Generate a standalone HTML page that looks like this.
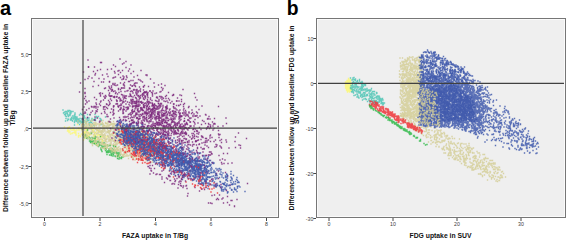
<!DOCTYPE html><html><head><meta charset="utf-8"><style>html,body{margin:0;padding:0;background:#fff;width:567px;height:240px;overflow:hidden}svg{display:block}text{font-family:"Liberation Sans",sans-serif}</style></head><body>
<svg width="567" height="240" viewBox="0 0 567 240">
<rect x="31" y="18" width="248" height="200" fill="#efefef"/>
<rect x="316" y="18" width="250" height="200" fill="#efefef"/>
<g transform="scale(.5)" fill="none" stroke-linecap="square" stroke-opacity=".85">
<path stroke="#4cc4b4" stroke-width="2.8" d="M140 225h0M131 232h0M149 230h0M146 223h0M169 242h0M160 244h0M149 245h0M154 243h0M158 240h0M134 224h0M132 227h0M139 221h0M165 244h0M141 238h0M135 241h0M154 237h0M131 228h0M143 223h0M141 223h0M136 230h0M132 237h0M137 223h0M137 233h0M140 231h0M145 242h0M151 233h0M154 235h0M153 239h0M139 230h0M156 246h0M136 221h0M133 233h0M141 222h0M131 242h0M145 241h0M147 236h0M149 250h0M131 223h0M141 228h0M131 231h0M166 246h0M164 242h0M157 238h0M135 228h0M152 236h0M159 249h0M154 234h0M141 240h0M150 236h0M152 242h0M161 244h0M136 238h0M149 242h0M140 231h0M150 229h0M160 237h0M151 239h0M143 237h0M136 231h0M129 229h0M126 220h0M140 228h0M127 226h0M143 235h0M137 239h0M148 232h0M135 227h0M153 241h0M145 236h0M131 232h0M153 236h0M162 246h0M163 245h0M148 238h0M151 236h0M159 243h0M141 228h0M128 225h0M130 224h0M148 233h0M145 232h0M153 235h0M161 242h0M133 223h0M153 240h0M155 238h0M156 240h0M142 226h0M149 234h0M143 240h0M169 250h0M157 243h0M150 226h0M141 227h0M147 238h0"/>
<path stroke="#4cc4b4" stroke-width="2.8" d="M183 245h0M168 234h0M194 234h0M179 248h0M188 239h0M184 237h0M166 230h0M178 246h0M169 241h0M197 233h0M180 245h0M204 249h0M167 242h0M174 237h0M201 238h0M192 236h0M190 237h0M172 247h0M172 243h0M168 241h0M173 246h0M189 239h0M211 234h0M185 247h0M176 236h0M166 238h0M161 227h0M177 241h0M159 230h0M178 236h0M187 240h0M165 238h0M170 236h0M163 229h0M179 251h0M181 244h0M201 249h0M168 242h0M170 245h0M175 237h0M182 244h0M203 241h0M180 230h0M200 237h0M169 232h0M188 251h0M193 233h0M184 239h0M185 240h0M166 245h0M175 242h0M178 240h0M167 237h0M174 239h0M175 229h0M182 241h0M191 241h0M163 238h0M190 229h0M202 239h0"/>
<path stroke="#fbf873" stroke-width="2.8" d="M178 267h0M172 266h0M149 260h0M163 268h0M136 257h0M141 268h0M161 273h0M152 270h0M173 272h0M170 264h0M164 259h0M139 254h0M140 264h0M153 260h0M170 276h0M141 259h0M158 256h0M150 264h0M150 266h0M146 256h0M138 262h0M175 275h0M150 261h0M178 265h0M163 259h0M169 266h0M172 263h0M138 265h0M148 259h0M152 264h0M136 262h0M154 260h0M166 267h0M147 257h0M158 259h0M151 265h0M152 268h0M171 275h0M171 273h0M144 267h0M144 260h0M174 260h0M138 261h0M148 265h0M157 274h0M148 258h0M170 271h0M152 269h0M157 267h0M172 275h0M157 257h0M169 273h0M173 270h0M155 249h0M137 255h0M135 262h0M136 259h0M157 256h0M129 254h0M135 256h0M145 266h0M157 271h0M158 260h0M148 259h0M182 269h0M174 271h0M168 268h0M160 271h0M175 263h0M147 260h0"/>
<path stroke="#2eb848" stroke-width="2.8" d="M238 308h0M233 307h0M235 313h0M205 295h0M175 275h0M189 277h0M226 308h0M191 281h0M211 291h0M171 269h0M204 303h0M185 278h0M193 288h0M230 306h0M227 309h0M204 292h0M228 302h0M207 294h0M180 276h0M172 272h0M222 302h0M185 287h0M207 294h0M224 297h0M202 299h0M220 298h0M206 295h0M225 302h0M202 296h0M203 289h0M239 315h0M246 314h0M203 300h0M237 311h0M217 305h0M211 301h0M193 290h0M192 288h0M237 313h0M190 283h0M179 278h0M215 291h0M227 305h0M218 298h0M209 297h0M197 292h0M226 299h0M183 282h0M224 302h0M220 304h0M219 300h0M219 310h0M215 290h0M179 277h0M237 313h0M211 297h0M194 283h0M214 309h0M179 278h0M223 311h0M230 312h0M239 308h0M218 304h0M189 287h0M170 271h0M209 297h0M168 274h0M220 310h0M187 282h0M215 305h0M243 314h0M184 280h0M182 283h0M238 313h0M196 283h0M201 285h0M231 301h0M243 317h0M182 284h0M229 301h0M242 317h0M185 284h0M210 297h0M184 275h0M181 285h0M215 302h0M202 299h0M213 305h0M229 305h0M225 304h0M226 312h0M238 305h0M228 305h0M186 286h0M216 292h0M181 279h0M186 276h0M242 316h0M212 299h0M231 313h0M235 309h0M212 297h0M196 291h0M190 285h0M199 291h0M222 306h0M235 306h0M226 307h0M175 277h0M199 290h0M179 282h0M186 283h0M198 288h0M185 283h0M181 282h0M221 300h0M223 301h0M185 279h0M166 270h0M238 318h0M240 310h0M223 308h0M193 286h0M213 303h0M196 285h0M203 291h0M230 305h0M233 304h0M200 290h0M235 317h0M216 292h0M239 306h0M167 269h0M210 293h0M208 292h0M216 302h0M218 301h0M178 274h0M186 283h0M189 282h0M235 312h0M192 288h0M199 285h0M194 284h0M175 272h0M197 293h0M185 283h0M224 303h0M210 292h0M190 278h0"/>
<path stroke="#d3ce97" stroke-width="2.8" d="M189 265h0M241 289h0M237 261h0M212 283h0M211 271h0M310 292h0M268 314h0M235 302h0M171 257h0M268 286h0M181 250h0M190 286h0M292 295h0M273 317h0M306 302h0M212 279h0M236 257h0M313 292h0M210 282h0M305 303h0M185 239h0M206 252h0M235 299h0M200 279h0M267 301h0M270 301h0M293 309h0M207 270h0M169 277h0M223 268h0M260 261h0M257 273h0M193 267h0M284 258h0M265 280h0M238 313h0M221 273h0M172 248h0M184 276h0M215 259h0M246 309h0M276 254h0M257 317h0M238 247h0M217 245h0M235 300h0M261 307h0M166 267h0M308 304h0M283 312h0M239 310h0M222 283h0M226 263h0M169 260h0M272 287h0M187 270h0M263 291h0M175 277h0M191 245h0M281 297h0M289 282h0M253 290h0M288 267h0M227 291h0M298 288h0M289 277h0M237 279h0M267 259h0M201 249h0M307 303h0M247 301h0M273 295h0M274 281h0M287 287h0M301 294h0M301 282h0M232 294h0M308 289h0M183 268h0M292 312h0M223 296h0M300 302h0M251 303h0M248 313h0M296 275h0M277 280h0M222 270h0M180 267h0M198 252h0M220 250h0M168 271h0M200 263h0M248 257h0M240 298h0M247 301h0M245 312h0M230 276h0M215 271h0M287 285h0M269 291h0M245 283h0M210 294h0M202 278h0M215 250h0M195 291h0M188 285h0M278 312h0M229 249h0M204 271h0M206 287h0M239 278h0M296 295h0M209 297h0M204 296h0M187 257h0M304 308h0M286 283h0M243 309h0M248 309h0M173 263h0M192 246h0M302 302h0M268 254h0M224 278h0M199 258h0M205 283h0M228 265h0M295 270h0M171 265h0M258 279h0M203 262h0M289 272h0M273 318h0M303 309h0M229 296h0M288 284h0M242 250h0M194 256h0M214 256h0M268 274h0M297 315h0M221 263h0M297 277h0M256 259h0M165 270h0M210 299h0M214 278h0M256 286h0M254 253h0M232 299h0M304 288h0M252 274h0M228 291h0M225 252h0M241 302h0M257 280h0M266 280h0M295 269h0M197 278h0M256 258h0M215 265h0M225 271h0M194 284h0M189 257h0M188 245h0M254 268h0M261 264h0M261 291h0M276 280h0M218 281h0M264 267h0M273 268h0M249 308h0M245 278h0M282 315h0M191 275h0M257 291h0M247 255h0M277 300h0M219 270h0M278 282h0M214 284h0M196 261h0M239 262h0M194 268h0M264 268h0M228 276h0M209 256h0M289 283h0M271 292h0M186 286h0M286 301h0M312 295h0M287 294h0M231 292h0M255 292h0M268 303h0M302 292h0M234 274h0M222 245h0M302 316h0M222 260h0M263 270h0M306 285h0M277 259h0M274 289h0M232 287h0M216 289h0M166 259h0M259 292h0M254 253h0M301 297h0M280 317h0M216 272h0M263 270h0M172 254h0M289 310h0M226 253h0M234 287h0M212 289h0M207 296h0M197 256h0M229 297h0M191 265h0M269 272h0M277 303h0M268 292h0M240 271h0M175 265h0M308 296h0M175 243h0M188 249h0M256 274h0M184 248h0M229 283h0M230 302h0M183 252h0M298 284h0M188 262h0M176 253h0M207 290h0M219 262h0M263 292h0M247 300h0M221 290h0M262 310h0M251 302h0M268 274h0M185 291h0M249 267h0M182 264h0M226 247h0M205 245h0M302 308h0M205 279h0M204 268h0M212 288h0M205 281h0M186 256h0M244 256h0M266 252h0M184 250h0M281 315h0M260 309h0M265 289h0M240 275h0M233 260h0M226 282h0M210 270h0M225 255h0M301 281h0M279 302h0M227 277h0M268 292h0M245 266h0M258 311h0M206 282h0M177 275h0M310 288h0M252 293h0M258 258h0M255 272h0M303 285h0M224 258h0M287 294h0M208 282h0M204 263h0M185 258h0M220 290h0M223 249h0M209 277h0M287 301h0M223 299h0M211 247h0M220 269h0M172 239h0M234 281h0M241 278h0M256 277h0M227 253h0M261 260h0M259 284h0M191 246h0M289 285h0M185 280h0M278 271h0M167 264h0M210 290h0M238 263h0M286 308h0M291 290h0M224 301h0M198 248h0M249 271h0M253 312h0M289 290h0M204 283h0M160 245h0M227 303h0M193 275h0M315 297h0M270 296h0M267 280h0M206 241h0M241 271h0M193 289h0M189 249h0M291 269h0M283 320h0M170 266h0M270 257h0M315 299h0M297 279h0M288 301h0M248 305h0M216 246h0M191 271h0M295 312h0M267 317h0M245 288h0M209 268h0M189 253h0M207 264h0M212 255h0M292 264h0M255 303h0M276 284h0M209 259h0M195 275h0M242 279h0M281 305h0M294 273h0M170 243h0M223 299h0M217 245h0M221 299h0M269 269h0M273 261h0M242 306h0M262 275h0M274 270h0M302 293h0M282 290h0M312 287h0M262 285h0M227 288h0M271 259h0M285 296h0M198 285h0M277 285h0M215 293h0M196 248h0M191 245h0M171 244h0M294 305h0M202 256h0M271 274h0M229 280h0M231 282h0M287 293h0M276 287h0M198 286h0M237 301h0M215 296h0M282 285h0M218 265h0M206 248h0M305 320h0M179 277h0M256 256h0M228 295h0M229 265h0M249 269h0M193 251h0M230 248h0M301 309h0M210 270h0M240 284h0M302 288h0M283 296h0M262 259h0M238 293h0M251 312h0M191 250h0M167 247h0M295 309h0M300 292h0M279 288h0M178 255h0M184 260h0M217 274h0M205 288h0M273 281h0M169 268h0M200 258h0M168 249h0M208 251h0M234 256h0M296 274h0M252 303h0M300 299h0M306 301h0M198 269h0M203 273h0M193 255h0M216 292h0M177 248h0M293 264h0M238 264h0M299 307h0M292 280h0M246 283h0M176 268h0M173 261h0M319 299h0M281 278h0M254 290h0M294 299h0M287 260h0M175 272h0M287 294h0M221 249h0M299 309h0M266 283h0M297 291h0M204 285h0M253 262h0M249 279h0M251 292h0M216 264h0M267 274h0M298 290h0M257 283h0M164 258h0M285 281h0M254 296h0M279 317h0M232 285h0M289 303h0M290 263h0M189 276h0M226 248h0M181 279h0M299 291h0M202 289h0M284 288h0M225 300h0M249 264h0M293 308h0M291 284h0M313 300h0M272 259h0M177 266h0M244 277h0M182 254h0M290 281h0M292 291h0M197 290h0M262 278h0M180 279h0M234 249h0M221 279h0M166 248h0M246 255h0M217 261h0M226 267h0M163 251h0M295 275h0M254 285h0M163 249h0M291 319h0M222 287h0M248 271h0M238 278h0M187 249h0M238 277h0M283 262h0M266 265h0M296 312h0M164 261h0M266 258h0M201 274h0M193 282h0M261 277h0M237 286h0M286 259h0M208 295h0M198 263h0M202 248h0M214 277h0M185 261h0M208 273h0M275 318h0M220 249h0M277 299h0M264 310h0M284 274h0M213 254h0M235 299h0M244 288h0M208 297h0M232 286h0M182 242h0M217 250h0M244 271h0M274 288h0M256 312h0M264 299h0M256 304h0M214 291h0M169 242h0M246 251h0M191 248h0M197 287h0M265 270h0M171 245h0M280 290h0M215 259h0M193 259h0M234 309h0M165 264h0M230 274h0M199 282h0M219 251h0M219 280h0M264 278h0M254 299h0M268 282h0M210 271h0M257 290h0M222 248h0M249 306h0M253 271h0M246 277h0M168 256h0M216 253h0M268 282h0M191 247h0M241 254h0M163 254h0M173 270h0M259 288h0M290 300h0M218 274h0M289 280h0M210 252h0M229 276h0M279 275h0M221 261h0M192 289h0M221 281h0M277 262h0M254 292h0M260 301h0M178 258h0M276 312h0M182 267h0M293 321h0M308 305h0M306 310h0M224 290h0M232 268h0M184 254h0M268 282h0M216 251h0M249 313h0M284 271h0M261 288h0M265 313h0M299 296h0M184 287h0M211 279h0M209 268h0M261 306h0M275 311h0M229 247h0M167 247h0M243 280h0M277 279h0M199 250h0M183 258h0M188 274h0M169 273h0M250 283h0M291 299h0M227 252h0M257 274h0M250 262h0M313 297h0M174 271h0M235 281h0M261 274h0M278 303h0M294 303h0M229 300h0M226 257h0M254 309h0M269 285h0M220 288h0M298 300h0M180 268h0M208 252h0M183 257h0M249 266h0M299 307h0M233 297h0M238 261h0M164 249h0M247 296h0M293 311h0M270 311h0M177 249h0M284 289h0M200 246h0M242 253h0M232 266h0M203 287h0M257 252h0M233 313h0M232 290h0M168 258h0M220 294h0M278 293h0M239 268h0M224 299h0M274 317h0M232 269h0M202 243h0M259 276h0M202 265h0M210 288h0M189 285h0M250 258h0M294 312h0M315 294h0M180 268h0M254 310h0M175 261h0M286 311h0M194 279h0M184 264h0M176 252h0M297 277h0M263 294h0M169 257h0M203 296h0M198 263h0M276 263h0M192 259h0M228 263h0M192 250h0M281 316h0M298 273h0M174 266h0M284 308h0M240 269h0M182 252h0M285 266h0M242 254h0M275 305h0M206 258h0M244 257h0M205 261h0M206 241h0M279 281h0M281 295h0M260 268h0M210 260h0M279 268h0M238 287h0M190 281h0M245 298h0M209 257h0M262 301h0M272 294h0M225 269h0M214 247h0M266 274h0M175 258h0M301 309h0"/>
<path stroke="#fbf873" stroke-width="2.8" d="M213 274h0M176 271h0M167 280h0M195 260h0M187 272h0M179 271h0M189 266h0M185 259h0M170 265h0M203 279h0M206 273h0M186 264h0M195 271h0M193 264h0M201 269h0M194 278h0M205 280h0M168 264h0M203 274h0M197 262h0M190 287h0M172 258h0M199 270h0M200 273h0M173 260h0M190 279h0M191 272h0M176 266h0M196 270h0M175 273h0M176 256h0M187 260h0M190 269h0M199 264h0M205 282h0"/>
<path stroke="#2eb848" stroke-width="2.8" d="M227 292h0M190 273h0M207 286h0M164 258h0M190 277h0M220 291h0M175 260h0M183 266h0M192 274h0M173 276h0M231 293h0M201 273h0M189 287h0M197 283h0M209 286h0"/>
<path stroke="#d3ce97" stroke-width="2.8" d="M230 272h0M254 254h0M183 280h0M258 291h0M196 292h0M279 291h0M230 279h0M222 285h0M300 308h0M173 247h0M284 277h0M251 277h0M244 264h0M210 277h0M229 290h0M279 302h0M258 286h0M253 261h0M315 293h0M249 262h0M186 264h0M209 251h0M216 256h0M248 277h0M227 243h0M297 273h0M307 296h0M265 316h0M205 254h0M296 272h0M194 291h0M278 272h0M237 299h0M282 263h0M183 258h0M286 310h0M271 265h0M249 265h0M189 249h0M210 274h0M291 289h0M301 297h0M287 308h0M246 258h0M251 287h0M174 274h0M281 265h0M288 282h0M231 283h0M251 305h0M228 259h0M166 266h0M291 306h0M247 311h0M221 245h0M283 305h0M275 290h0M225 279h0M277 306h0M222 275h0M289 294h0M304 309h0M305 299h0M224 256h0M283 316h0M247 253h0M228 301h0M191 258h0M251 284h0M177 266h0M272 265h0M255 272h0M219 298h0M308 282h0M189 268h0M280 298h0M206 253h0M255 275h0M221 279h0M206 248h0M224 304h0M236 299h0M212 279h0M291 263h0M231 301h0M234 295h0M250 280h0M235 282h0M278 266h0M235 298h0M316 299h0M255 257h0M218 283h0M231 267h0M270 320h0M296 315h0M203 289h0M261 292h0M261 251h0M311 295h0M276 312h0M265 278h0M207 276h0M194 259h0M291 303h0M241 263h0M273 272h0M285 309h0M283 292h0M235 253h0M284 297h0M163 256h0M174 250h0M238 261h0M284 291h0M165 255h0M287 290h0M269 275h0M255 285h0M252 307h0M266 276h0M305 324h0M310 296h0M287 281h0M275 300h0M172 245h0M192 284h0M264 277h0M218 276h0M235 272h0M276 285h0M216 243h0M195 260h0M276 294h0M282 295h0M260 294h0M167 249h0M287 285h0M184 250h0M184 279h0M198 263h0M271 266h0M259 266h0M265 300h0M189 254h0M179 269h0M207 252h0M218 254h0M260 298h0M297 278h0M172 254h0M169 253h0M292 295h0M251 288h0M210 278h0M206 271h0M245 269h0M309 312h0M198 282h0M175 272h0M272 279h0M181 248h0M210 287h0M220 262h0M286 297h0M286 265h0M251 290h0M227 272h0M249 252h0M291 293h0M156 242h0M244 302h0M204 268h0M266 260h0M236 285h0M189 273h0M217 262h0M270 273h0M170 270h0M250 272h0M262 292h0M211 290h0M204 247h0M248 280h0M302 285h0M204 279h0M241 297h0M299 319h0M274 271h0M256 272h0M276 296h0M283 282h0M198 264h0M246 271h0M211 282h0M275 307h0M236 252h0M249 294h0M295 300h0M206 286h0M229 285h0M184 265h0M264 265h0M206 288h0M235 268h0M269 283h0M247 264h0M284 273h0M229 266h0M189 283h0M300 292h0M208 251h0M231 265h0M196 278h0M195 274h0M284 295h0M196 267h0M272 314h0M228 282h0M202 285h0M243 265h0M166 253h0M279 297h0M265 304h0M211 245h0M233 249h0M307 288h0M252 264h0M240 302h0M180 252h0M280 287h0M246 286h0M185 253h0M274 271h0M227 248h0M300 311h0M241 252h0M237 295h0M294 292h0M219 243h0M182 257h0M271 275h0M243 263h0M227 253h0M220 250h0M180 248h0M283 287h0M258 254h0M210 263h0M194 248h0M222 296h0M295 314h0M232 274h0M194 261h0M213 294h0M267 311h0M268 290h0M200 255h0M262 287h0M218 279h0M182 259h0M206 274h0M249 308h0M252 305h0M275 299h0M200 269h0M313 299h0M218 266h0M272 293h0M209 295h0M235 299h0M202 265h0M164 248h0M241 304h0M230 252h0M241 299h0M194 261h0M246 293h0M219 267h0M278 308h0M310 309h0M269 265h0M258 270h0M286 320h0M203 285h0M279 274h0M245 267h0M198 260h0M299 321h0M276 292h0M256 295h0M220 256h0M260 295h0M183 253h0M282 268h0M253 269h0M249 280h0M285 272h0M258 300h0M213 279h0M188 248h0M198 275h0M302 297h0M224 248h0M196 265h0M173 252h0M214 263h0M227 267h0M260 271h0M267 304h0M212 266h0M269 294h0M199 279h0M277 267h0M202 261h0M228 296h0M252 270h0M247 257h0M223 280h0M291 306h0M174 272h0M276 286h0M205 264h0M163 258h0M267 278h0M231 289h0M173 247h0M213 252h0M247 260h0M172 274h0M300 277h0M222 299h0M289 312h0M266 279h0M208 261h0M236 281h0M298 274h0M289 312h0M207 256h0M272 277h0M206 259h0M230 304h0M253 298h0M240 264h0M314 286h0M316 294h0M258 295h0M235 273h0M269 299h0M276 304h0M170 252h0M208 289h0M239 278h0M236 262h0M244 262h0M247 279h0M197 275h0M231 307h0M213 296h0M228 263h0M275 277h0M240 306h0M234 289h0M262 311h0M232 303h0M239 285h0M213 247h0M263 297h0M236 275h0M315 303h0M184 242h0M272 274h0M236 254h0M222 295h0M259 267h0M287 284h0M306 308h0M228 264h0M258 295h0M259 290h0M201 270h0M253 281h0M216 273h0M234 289h0M272 273h0M181 255h0M263 313h0M282 311h0M193 274h0M254 289h0M300 282h0M278 307h0M303 305h0M171 246h0M164 248h0M280 285h0M262 270h0M177 248h0M245 276h0M304 286h0"/>
<path stroke="#3e58ac" stroke-width="2.8" d="M313 308h0M388 333h0M364 312h0M330 296h0M348 349h0M300 284h0M251 268h0M357 327h0M338 287h0M265 272h0M298 315h0M284 289h0M346 311h0M294 257h0M384 335h0M303 277h0M389 356h0M300 276h0M287 282h0M356 342h0M387 360h0M263 269h0M308 310h0M280 283h0M313 283h0M441 375h0M276 261h0M298 272h0M341 335h0M278 264h0M365 341h0M428 372h0M300 285h0M358 299h0M439 372h0M281 285h0M455 356h0M287 280h0M400 334h0M396 310h0M322 318h0M347 303h0M434 351h0M285 286h0M445 374h0M301 287h0M278 273h0M362 329h0M266 302h0M364 330h0M297 280h0M309 295h0M263 274h0M326 310h0M361 317h0M397 337h0M355 319h0M294 282h0M233 276h0M414 326h0M402 342h0M301 308h0M285 281h0M321 303h0M276 280h0M376 307h0M314 279h0M340 338h0M341 314h0M340 299h0M390 326h0M369 307h0M410 350h0M320 307h0M402 319h0M346 317h0M269 276h0M453 371h0M379 333h0M387 336h0M249 278h0M374 325h0M327 284h0M319 325h0M297 293h0M398 359h0M408 324h0M356 329h0M415 344h0M233 267h0M424 358h0M268 281h0M302 303h0M255 275h0M360 306h0M261 268h0M281 297h0M430 344h0M326 318h0M292 296h0M317 278h0M282 303h0M307 302h0M400 338h0M239 241h0M260 272h0M394 348h0M304 281h0M349 337h0M360 343h0M409 335h0M325 294h0M333 307h0M308 308h0M419 354h0M432 374h0M295 301h0M318 311h0M271 276h0M368 341h0M266 272h0M321 304h0M339 327h0M361 287h0M248 260h0M359 341h0M383 321h0M408 311h0M245 259h0M357 300h0M410 326h0M286 282h0M336 297h0M423 335h0M254 261h0M308 303h0M327 318h0M422 345h0M447 368h0M367 321h0M261 276h0M399 323h0M465 368h0M374 307h0M344 328h0M413 331h0M355 323h0M336 332h0M376 324h0M299 287h0M290 270h0M405 345h0M348 326h0M327 301h0M330 331h0M256 253h0M312 314h0M322 315h0M381 326h0M262 252h0M401 330h0M342 299h0M343 330h0M238 245h0M364 316h0M447 382h0M337 310h0M400 331h0M404 324h0M235 243h0M398 335h0M308 287h0M324 312h0M355 308h0M473 359h0M260 268h0M324 290h0M272 262h0M327 314h0M354 310h0M393 338h0M296 278h0M273 280h0M245 251h0M249 250h0M378 297h0M285 250h0M381 353h0M374 310h0M316 293h0M248 283h0M306 306h0M295 301h0M262 283h0M320 305h0M370 321h0M352 333h0M296 285h0M366 324h0M369 329h0M391 322h0M315 287h0M293 256h0M301 275h0M326 279h0M352 307h0M344 321h0M266 276h0M329 298h0M360 323h0M361 295h0M273 289h0M345 297h0M332 307h0M310 287h0M412 362h0M285 299h0M405 324h0M397 333h0M347 307h0M405 342h0M456 384h0M335 297h0M380 351h0M311 315h0M354 309h0M272 272h0M415 334h0M281 271h0M402 341h0M389 347h0M271 267h0M284 309h0M272 272h0M291 266h0M390 307h0M394 322h0M353 302h0M250 264h0M288 298h0M353 317h0M356 324h0M309 286h0M345 313h0M346 305h0M319 280h0M288 298h0M351 324h0M271 310h0M311 297h0M354 319h0M295 261h0M372 322h0M379 324h0M403 341h0M299 276h0M293 286h0M280 292h0M366 323h0M321 306h0M453 373h0M245 264h0M245 256h0M404 367h0M454 368h0M372 321h0M386 339h0M409 360h0M268 288h0M342 332h0M276 299h0M341 322h0M303 298h0M453 354h0M364 313h0M356 320h0M289 294h0M424 370h0M405 352h0M402 338h0M275 272h0M392 352h0M393 336h0M290 284h0M235 251h0M364 307h0M297 262h0M287 296h0M287 290h0M286 302h0M402 332h0M272 285h0M389 332h0M272 293h0M385 361h0M253 252h0M396 343h0M364 317h0M319 316h0M291 305h0M237 264h0M330 292h0M257 284h0M351 318h0M337 301h0M273 300h0M315 299h0M359 345h0M236 248h0M335 303h0M238 263h0M275 269h0M368 321h0M260 256h0M285 271h0M364 300h0M369 314h0M261 268h0M366 308h0M384 338h0M244 283h0M345 321h0M395 306h0M385 359h0M313 281h0M311 318h0M450 365h0M389 319h0M260 280h0M316 298h0M404 344h0M322 328h0M366 327h0M354 324h0M363 328h0M267 279h0M475 373h0M313 326h0M248 278h0M246 252h0M254 281h0M282 279h0M357 290h0M282 290h0M254 271h0M394 332h0M377 351h0M329 324h0M371 325h0M275 262h0M352 318h0M324 305h0M361 325h0M271 278h0M289 301h0M400 329h0M306 317h0M312 308h0M324 293h0M272 275h0M291 299h0M268 262h0M299 275h0M371 333h0M354 332h0M341 319h0M477 364h0M319 293h0M313 291h0M335 330h0M286 289h0M286 269h0M258 261h0M335 309h0M403 360h0M367 341h0M240 269h0M275 274h0M334 314h0M267 245h0M329 287h0M287 279h0M293 294h0M386 308h0M359 288h0M282 276h0M305 273h0M257 277h0M302 312h0M332 321h0M258 268h0M348 320h0M314 306h0M373 340h0M411 334h0M269 257h0M276 250h0M254 283h0M250 291h0M359 336h0M387 321h0M455 362h0M260 248h0M343 315h0M369 319h0M253 264h0M392 332h0M393 336h0M356 344h0M262 279h0M375 336h0M243 268h0M251 253h0M231 274h0M289 294h0M434 340h0M416 367h0M392 328h0M321 298h0M341 286h0M328 279h0M302 287h0M335 307h0M275 271h0M266 265h0M281 278h0M316 320h0M357 333h0M272 296h0M262 277h0M256 262h0M417 341h0M290 276h0M335 303h0M370 305h0M259 285h0M301 309h0M308 314h0M299 279h0M353 309h0M292 283h0M303 279h0M412 343h0M276 262h0M264 288h0M396 322h0M353 315h0M326 308h0M418 332h0M362 332h0M332 317h0M235 267h0M442 339h0M261 271h0M326 308h0M364 346h0M341 294h0M235 249h0M343 306h0M256 281h0M334 323h0M366 343h0M282 299h0M340 327h0M314 309h0M395 348h0M247 275h0M333 290h0M351 351h0M376 343h0M416 323h0M395 330h0M453 359h0M413 357h0M312 298h0M292 286h0M339 315h0M462 354h0M281 292h0M334 311h0M369 331h0M389 359h0M442 344h0M296 304h0M360 306h0M314 313h0M227 265h0M273 257h0M364 326h0M353 294h0M304 290h0M271 294h0M343 300h0M413 338h0M264 279h0M317 289h0M270 293h0M278 265h0M359 340h0M447 356h0M395 340h0M370 337h0M282 270h0M380 319h0M400 328h0M355 292h0M381 331h0M293 318h0M404 325h0M292 284h0M300 301h0M343 331h0M379 342h0M288 306h0M291 290h0M327 312h0M406 347h0M329 295h0M371 339h0M304 277h0M283 254h0M336 329h0M301 286h0M277 266h0M262 263h0"/>
<path stroke="#ef3338" stroke-width="2.8" d="M370 348h0M309 277h0M341 321h0M347 354h0M265 309h0M281 284h0M333 320h0M322 330h0M253 269h0M332 287h0M333 300h0M352 325h0M268 304h0M324 314h0M335 325h0M296 327h0M352 341h0M246 280h0M261 281h0M320 278h0M279 305h0M363 348h0M319 307h0M267 273h0M285 320h0M287 291h0M329 294h0M276 308h0M234 271h0M265 295h0M249 280h0M246 301h0M330 321h0M293 282h0M318 308h0M346 322h0M356 325h0M258 301h0M309 279h0M251 305h0M275 276h0M285 282h0M338 317h0M326 315h0M355 310h0M282 297h0M282 296h0M306 285h0M405 353h0M378 335h0M284 268h0M346 296h0M303 309h0M330 335h0M316 306h0M280 275h0M381 341h0M298 312h0M368 324h0M247 272h0M273 311h0M315 287h0M331 291h0M279 274h0M275 301h0M379 341h0M311 286h0M341 334h0M317 281h0M261 257h0M268 278h0M293 287h0M298 326h0M292 318h0M379 330h0M336 317h0M240 279h0M302 303h0M319 295h0M271 307h0M304 311h0M301 324h0M243 288h0M267 306h0M290 316h0M277 317h0M243 262h0M271 283h0M252 267h0M306 293h0M325 324h0M321 273h0M338 303h0M280 308h0M271 295h0"/>
<path stroke="#7c287d" stroke-width="2.8" d="M381 244h0M238 141h0M295 213h0M450 320h0M322 242h0M307 215h0M263 193h0M330 245h0M298 288h0M446 252h0M229 194h0M195 236h0M240 219h0M324 221h0M315 257h0M234 202h0M203 164h0M279 257h0M355 196h0M243 201h0M301 232h0M248 154h0M340 218h0M268 257h0M302 311h0M390 248h0M322 264h0M265 199h0M320 236h0M395 306h0M458 296h0M364 264h0M324 240h0M388 257h0M320 215h0M288 240h0M309 216h0M343 256h0M196 214h0M395 263h0M302 238h0M272 184h0M408 285h0M293 183h0M360 251h0M217 201h0M327 313h0M378 241h0M277 203h0M284 262h0M271 215h0M360 220h0M277 246h0M355 247h0M436 253h0M289 199h0M297 209h0M372 279h0M438 311h0M287 221h0M307 256h0M195 141h0M271 173h0M290 194h0M330 255h0M322 222h0M296 220h0M253 152h0M320 211h0M322 260h0M337 276h0M377 215h0M394 261h0M275 221h0M402 295h0M336 272h0M276 192h0M369 242h0M281 191h0M338 251h0M329 305h0M380 320h0M286 190h0M188 163h0M324 225h0M332 301h0M287 174h0M263 234h0M342 271h0M212 193h0M333 236h0M397 322h0M213 208h0M371 303h0M348 300h0M478 290h0M343 261h0M297 237h0M432 350h0M227 214h0M298 203h0M247 157h0M481 291h0M341 252h0M237 149h0M267 245h0M352 268h0M242 215h0M360 268h0M375 249h0M268 170h0M421 310h0M388 228h0M293 208h0M278 212h0M234 243h0M271 207h0M293 235h0M315 227h0M333 251h0M327 239h0M321 249h0M419 310h0M284 258h0M246 220h0M379 236h0M393 301h0M277 159h0M296 185h0M398 219h0M311 217h0M315 196h0M272 203h0M298 261h0M354 249h0M330 263h0M373 245h0M408 243h0M319 249h0M322 193h0M313 195h0M293 240h0M274 235h0M228 212h0M297 217h0M189 195h0M304 220h0M351 229h0M323 260h0M173 220h0M203 125h0M374 231h0M378 256h0M358 278h0M317 207h0M195 219h0M189 240h0M283 217h0M280 204h0M360 190h0M292 280h0M378 281h0M358 202h0M382 252h0M322 284h0M464 326h0M293 185h0M359 233h0M301 234h0M271 212h0M282 162h0M263 240h0M283 231h0M251 192h0M284 253h0M411 282h0M348 232h0M413 277h0M269 282h0M296 254h0M343 267h0M254 182h0M427 248h0M312 289h0M373 248h0M369 207h0M177 134h0M440 320h0M331 264h0M276 222h0M358 255h0M338 252h0M230 182h0M363 266h0M293 220h0M254 215h0M313 280h0M309 266h0M254 219h0M288 185h0M271 230h0M273 229h0M199 208h0M337 258h0M297 232h0M380 274h0M280 210h0M332 220h0M257 237h0M372 228h0M314 245h0M346 256h0M318 211h0M239 245h0M264 204h0M246 223h0M323 207h0M265 235h0M368 272h0M306 182h0M287 209h0M326 251h0M237 222h0M269 203h0M345 283h0M334 274h0M244 159h0M285 219h0M331 242h0M283 242h0M261 170h0M336 272h0M410 290h0M285 193h0M333 245h0M332 264h0M408 297h0M393 290h0M287 198h0M336 205h0M265 172h0M319 193h0M265 241h0M318 249h0M236 212h0M235 170h0M364 248h0M372 266h0M219 163h0M304 220h0M368 294h0M268 232h0M359 282h0M334 211h0M301 220h0M289 207h0M315 247h0M223 182h0M268 154h0M302 253h0M374 229h0M379 304h0M290 184h0M209 177h0M314 249h0M413 258h0M370 248h0M276 222h0M277 182h0M353 211h0M323 324h0M437 342h0M218 190h0M301 301h0M394 200h0M269 278h0M170 185h0M380 237h0M354 251h0M343 254h0M364 316h0M338 248h0M386 289h0M276 220h0M295 187h0M277 270h0M201 139h0M276 209h0M294 189h0M376 289h0M266 246h0M348 269h0M266 213h0M273 180h0M358 308h0M351 229h0M295 268h0M285 164h0M367 220h0M319 246h0M271 214h0M272 216h0M385 284h0M312 248h0M391 195h0M330 270h0M190 234h0M312 237h0M445 318h0M321 259h0M378 226h0M295 264h0M442 294h0M341 251h0M229 143h0M342 236h0M341 286h0M326 230h0M242 245h0M288 212h0M295 252h0M303 227h0M368 259h0M354 308h0M287 253h0M254 155h0M304 258h0M301 158h0M307 286h0M388 289h0M165 237h0M365 321h0M395 295h0M359 331h0M344 203h0M274 213h0M198 157h0M318 251h0M250 235h0M242 242h0M184 214h0M470 283h0M352 233h0M253 241h0M362 232h0M310 252h0M220 207h0M259 243h0M246 224h0M343 239h0M239 195h0M217 181h0M252 208h0M380 302h0M285 193h0M272 228h0M305 209h0M342 261h0M345 280h0M284 216h0M416 253h0M281 178h0M330 222h0M373 257h0M301 223h0M418 233h0M176 120h0M442 369h0M205 187h0M308 166h0M394 354h0M226 169h0M438 275h0M247 226h0M247 218h0M261 236h0M291 193h0M350 245h0M386 259h0M222 192h0M443 296h0M323 208h0M295 228h0M231 281h0M282 218h0M392 282h0M260 249h0M292 237h0M224 192h0M361 252h0M377 271h0M318 211h0M313 218h0M421 250h0M274 200h0M159 184h0M371 232h0M267 180h0M288 215h0M367 251h0"/>
<path stroke="#3e58ac" stroke-width="2.8" d="M302 293h0M317 305h0M394 329h0M308 296h0M288 296h0M328 325h0M286 266h0M330 291h0M268 286h0M340 329h0M279 281h0M387 300h0M378 327h0M416 332h0M244 255h0M357 325h0M310 306h0M297 270h0M320 281h0M369 326h0M454 349h0M266 272h0M406 337h0M356 310h0M368 333h0M369 308h0M319 300h0M338 331h0M467 364h0M402 333h0M367 298h0M293 305h0M276 283h0M441 364h0M276 256h0M319 291h0M295 264h0M327 306h0M435 371h0M321 288h0M387 340h0M400 356h0M405 349h0M378 326h0M355 308h0M443 380h0M270 306h0M289 288h0M274 271h0M335 270h0M323 275h0M380 353h0M404 332h0M335 312h0M275 293h0M285 275h0M359 309h0M306 298h0M401 340h0M339 331h0M415 355h0M464 357h0M320 319h0M353 310h0M279 259h0M339 316h0M254 288h0M357 319h0M339 315h0M304 284h0M411 318h0M275 266h0M334 305h0M364 331h0M376 329h0M475 365h0M279 276h0M248 257h0M364 323h0M324 302h0M324 298h0M319 332h0M327 301h0M256 275h0M398 353h0M264 262h0M254 278h0M341 306h0M313 287h0M424 338h0M357 311h0M382 340h0M253 278h0M344 296h0M353 314h0M278 272h0M359 315h0M326 315h0M301 309h0M475 361h0M313 281h0M451 371h0M312 285h0M248 261h0M373 313h0M358 331h0M325 321h0M263 289h0M297 292h0M283 303h0M401 306h0M444 350h0M370 290h0M343 303h0M262 249h0M345 320h0M337 313h0M266 292h0M452 379h0M291 302h0M307 282h0M404 365h0M331 327h0M398 328h0M337 276h0M280 288h0M340 319h0M310 306h0M284 269h0M395 335h0M260 267h0M380 326h0M258 264h0M345 303h0M390 309h0M285 275h0M361 317h0M363 307h0M274 265h0M386 352h0M349 310h0M355 341h0M251 261h0M277 291h0M248 264h0M326 303h0M413 349h0M351 316h0M399 345h0M371 314h0M374 338h0M295 321h0M400 350h0M397 332h0M290 301h0M379 315h0M310 302h0M286 281h0M380 334h0M305 312h0M337 325h0M374 345h0M360 322h0M402 330h0M405 356h0M238 250h0M254 248h0M376 357h0M363 303h0M287 299h0M300 275h0M361 319h0M263 286h0M286 271h0M365 359h0M336 293h0M333 308h0M396 347h0M337 330h0M355 309h0M424 353h0M294 278h0M335 314h0M365 318h0M358 343h0M408 319h0M311 275h0M282 269h0M447 367h0M333 323h0M314 313h0M266 251h0M267 288h0M385 346h0M391 343h0M309 322h0M371 322h0M389 337h0M340 314h0M426 325h0M326 308h0M366 325h0M439 371h0M378 327h0M247 247h0M463 379h0M287 270h0M392 334h0M325 293h0M334 317h0M390 351h0M257 285h0M349 320h0M305 302h0M351 311h0M295 288h0M245 253h0M262 270h0M434 357h0M361 301h0M394 343h0M369 328h0M385 338h0M258 283h0M405 325h0M307 298h0M261 276h0M289 292h0M304 304h0M281 281h0M340 308h0M353 321h0M257 264h0M299 294h0M368 332h0M373 350h0M329 292h0M299 275h0M398 327h0M263 293h0M383 334h0M300 317h0M361 295h0M337 311h0M279 289h0M393 315h0M327 303h0M356 298h0M309 298h0M398 363h0M280 295h0M286 275h0M326 315h0M294 293h0M258 270h0M440 348h0M336 303h0M273 261h0M270 258h0M407 366h0M320 311h0M316 283h0M404 368h0M266 281h0M411 367h0M243 258h0M392 323h0M287 289h0M333 305h0M358 323h0M350 321h0M363 317h0M346 313h0M364 326h0M412 348h0M353 332h0M274 288h0M324 315h0M256 270h0M431 369h0M329 327h0M384 324h0M377 346h0M371 311h0M250 264h0M262 269h0M293 286h0M356 349h0M426 361h0M393 362h0M389 322h0M271 287h0M331 313h0M342 280h0M257 291h0M312 306h0M416 316h0M415 333h0M382 327h0M262 281h0M328 280h0M281 267h0M464 360h0M340 305h0M447 379h0M235 248h0M397 337h0M367 351h0M298 299h0M315 329h0M255 285h0M400 350h0M280 265h0M306 320h0M336 301h0M349 310h0M266 265h0M256 277h0M315 301h0M287 308h0M256 291h0M307 280h0M270 301h0M301 307h0M361 311h0M386 345h0M253 275h0M241 253h0M308 281h0M370 314h0M376 339h0M301 297h0M410 336h0M252 281h0M324 315h0M287 275h0M413 352h0M399 330h0M331 312h0M238 281h0M289 282h0M430 372h0M313 295h0M412 345h0M283 268h0M298 320h0M357 323h0M380 341h0M268 286h0M267 270h0M261 261h0M390 340h0M391 355h0M421 331h0M247 287h0M324 300h0M257 286h0M330 295h0M263 289h0M308 295h0M314 307h0M295 282h0M360 321h0M421 338h0M342 327h0M428 326h0M294 267h0M395 320h0M402 321h0M439 337h0M301 289h0M394 317h0M252 277h0M436 338h0M258 274h0M455 352h0M360 307h0M269 280h0M350 341h0M248 274h0M462 348h0M404 359h0M279 282h0M270 281h0M271 281h0M317 309h0M390 348h0M390 345h0M319 299h0M350 317h0M275 285h0M358 343h0M335 305h0M298 293h0M360 314h0M340 303h0M266 257h0M414 366h0M431 358h0M344 327h0M255 274h0M401 360h0M428 344h0M365 322h0M261 275h0M289 283h0M308 324h0M282 259h0M352 328h0M450 376h0M299 308h0M331 291h0M419 328h0M324 301h0M241 247h0M444 354h0M329 296h0M360 328h0M344 295h0M413 345h0M490 383h0M278 286h0M331 269h0M422 329h0M283 295h0M266 269h0M394 323h0M321 275h0M359 340h0M385 320h0M434 355h0M328 312h0M329 284h0M340 329h0M269 252h0M352 299h0M305 293h0M327 319h0M248 276h0M407 351h0M445 367h0M350 311h0M396 346h0M271 275h0M338 278h0M365 296h0M296 287h0M301 293h0M359 329h0M273 277h0M363 311h0M467 351h0M474 383h0M401 352h0M295 270h0M317 313h0M271 284h0M319 315h0M379 330h0M351 311h0M273 276h0M367 322h0M261 254h0M392 349h0M356 305h0M324 305h0M287 311h0M317 305h0M362 321h0M309 317h0M236 269h0M289 283h0M471 363h0M307 300h0M266 272h0M255 269h0M286 253h0M246 248h0M261 286h0M367 309h0M387 333h0M393 317h0M328 301h0M374 338h0M321 274h0M309 308h0M259 288h0M255 267h0M261 265h0M326 285h0M326 291h0M264 271h0M394 334h0M280 278h0M406 346h0M315 305h0M287 291h0M373 340h0M361 294h0M328 296h0M332 322h0M372 335h0M254 275h0M348 345h0M401 368h0M315 309h0M285 288h0M383 328h0M272 269h0M326 308h0M265 280h0M360 336h0M272 298h0M397 349h0M355 332h0M312 302h0M300 298h0M346 318h0M289 279h0M299 299h0M281 291h0M347 339h0M315 288h0M463 380h0M299 257h0"/>
<path stroke="#ef3338" stroke-width="2.8" d="M401 336h0M255 303h0M304 302h0M309 293h0M276 280h0M311 297h0M244 260h0M259 303h0M240 248h0M327 337h0M278 301h0M402 346h0M282 312h0M328 317h0M309 308h0M344 295h0M278 319h0M366 351h0M409 346h0M242 286h0M317 281h0M356 311h0M273 318h0M345 325h0M267 266h0M348 293h0M319 306h0M245 298h0M248 281h0M319 288h0M268 298h0M339 292h0M280 305h0M283 279h0M328 330h0M322 316h0M349 305h0M292 317h0M286 303h0M240 284h0M271 266h0M380 321h0M301 297h0M307 278h0M275 290h0M295 314h0M285 313h0M296 300h0M323 308h0M269 283h0M253 266h0M388 357h0M378 351h0M358 307h0M311 271h0M240 281h0M325 285h0M315 307h0M266 319h0M270 278h0M287 279h0M323 335h0M286 316h0M345 314h0M347 329h0M279 279h0M317 316h0M308 282h0M323 320h0M322 329h0M284 287h0M242 280h0M320 299h0M349 320h0M296 290h0M266 290h0M302 285h0M249 276h0M275 325h0M383 333h0M292 301h0M377 328h0M318 287h0M287 279h0M267 270h0M294 327h0M309 306h0M294 296h0M258 297h0M301 270h0M270 308h0M332 311h0M327 296h0M291 317h0M363 318h0"/>
<path stroke="#7c287d" stroke-width="2.8" d="M254 250h0M386 231h0M186 173h0M264 222h0M471 274h0M327 267h0M295 253h0M199 244h0M295 199h0M282 220h0M234 207h0M280 229h0M336 266h0M225 181h0M317 234h0M389 270h0M291 225h0M300 260h0M245 128h0M381 253h0M316 268h0M327 274h0M335 249h0M285 245h0M312 235h0M269 222h0M284 219h0M296 195h0M300 217h0M295 211h0M261 250h0M178 217h0M241 155h0M298 227h0M287 233h0M391 232h0M265 204h0M412 319h0M273 246h0M264 225h0M333 215h0M330 274h0M414 292h0M352 265h0M328 252h0M371 255h0M481 296h0M374 292h0M384 318h0M267 223h0M437 213h0M355 274h0M305 207h0M276 251h0M367 209h0M392 213h0M347 227h0M376 240h0M311 285h0M414 281h0M305 211h0M411 285h0M239 235h0M289 236h0M326 297h0M241 252h0M403 249h0M356 267h0M214 148h0M322 196h0M303 219h0M301 199h0M313 202h0M175 235h0M274 205h0M218 173h0M317 264h0M324 246h0M360 227h0M298 260h0M337 262h0M269 191h0M340 239h0M313 256h0M273 204h0M258 250h0M361 266h0M406 275h0M351 281h0M235 188h0M343 245h0M283 219h0M256 260h0M421 253h0M397 280h0M285 259h0M278 224h0M277 212h0M318 202h0M277 255h0M306 210h0M219 164h0M227 130h0M273 246h0M343 309h0M338 249h0M440 281h0M247 158h0M433 347h0M350 261h0M241 166h0M262 130h0M297 216h0M366 179h0M327 231h0M385 292h0M348 267h0M278 208h0M305 225h0M161 166h0M188 213h0M349 266h0M387 267h0M305 237h0M359 237h0M262 202h0M286 275h0M320 225h0M330 274h0M326 214h0M363 203h0M325 180h0M313 212h0M329 245h0M305 217h0M368 277h0M287 173h0M388 305h0M281 204h0M360 232h0M184 156h0M248 281h0M245 190h0M402 329h0M292 275h0M428 257h0M358 238h0M371 221h0M300 243h0M376 326h0M324 285h0M355 290h0M373 268h0M394 267h0M316 229h0M246 194h0M393 232h0M376 295h0M243 176h0M364 232h0M325 246h0M274 249h0M256 216h0M242 208h0M241 211h0M221 198h0M225 180h0M371 249h0M443 325h0M260 188h0M305 192h0M296 263h0M259 138h0M321 268h0M332 197h0M187 143h0M353 255h0M402 259h0M353 230h0M336 237h0M219 204h0M289 233h0M365 295h0M371 308h0M273 207h0M363 199h0M362 239h0M340 228h0M361 209h0M413 342h0M282 246h0M336 267h0M201 186h0M420 272h0M313 186h0M352 297h0M233 194h0M287 263h0M387 258h0M319 241h0M210 196h0M248 126h0M400 232h0M326 254h0M424 275h0M426 252h0M288 254h0M373 278h0M315 270h0M219 209h0M304 201h0M432 289h0M323 236h0M275 212h0M332 295h0M314 279h0M338 271h0M215 139h0M249 219h0M252 135h0M366 227h0M354 220h0M388 252h0M375 312h0M359 286h0M368 257h0M274 203h0M419 304h0M437 357h0M241 179h0M324 230h0M261 189h0M231 133h0M338 226h0M275 151h0M318 265h0M324 230h0M330 269h0M331 236h0M190 150h0M416 346h0M282 229h0M278 270h0M327 197h0M323 175h0M351 262h0M318 295h0M317 225h0M357 225h0M333 191h0M455 307h0M263 241h0M280 256h0M351 223h0M292 223h0M389 263h0M334 230h0M333 216h0M332 240h0M394 231h0M308 291h0M332 252h0M312 269h0M328 241h0M295 227h0M257 142h0M333 265h0M309 209h0M389 320h0M288 190h0M366 310h0M373 298h0M327 261h0M412 230h0M309 174h0M324 194h0M268 204h0M342 255h0M430 294h0M383 278h0M220 244h0M325 258h0M327 265h0M370 251h0M318 199h0M429 237h0M307 218h0M264 208h0M276 242h0M260 177h0M363 263h0M396 246h0M170 159h0M366 281h0M326 196h0M266 194h0M418 249h0M424 308h0M286 187h0M321 236h0M453 284h0M323 272h0M346 233h0M262 268h0M438 270h0M392 282h0M227 194h0M264 172h0M453 247h0M456 327h0M311 251h0M471 295h0M334 234h0M223 175h0M306 217h0M230 146h0M318 238h0M301 199h0M308 221h0M404 212h0M297 204h0M289 226h0M246 152h0M347 214h0M286 248h0M334 202h0M347 208h0M358 282h0M300 206h0M252 197h0M201 125h0M268 243h0M207 218h0M416 254h0M339 220h0M368 224h0M334 247h0M292 228h0M284 206h0M320 213h0M316 213h0M265 214h0M293 235h0M361 307h0M289 264h0M308 250h0M420 304h0M422 304h0M356 261h0M386 233h0M351 250h0M403 272h0M321 246h0M455 352h0M327 269h0M243 210h0M335 217h0M288 228h0M330 171h0M227 228h0M447 307h0M301 230h0M287 214h0M248 170h0M221 225h0M295 188h0M391 258h0M375 285h0M385 271h0M299 213h0M309 221h0M290 226h0M316 203h0M411 229h0M412 311h0M239 211h0M265 245h0M380 252h0M368 322h0M298 217h0M341 254h0M380 324h0M378 284h0M262 229h0M191 147h0M282 254h0M256 218h0M337 185h0M324 280h0M219 176h0M348 217h0M373 267h0M314 218h0M384 305h0M336 284h0M382 236h0M326 242h0M222 192h0M247 170h0M357 305h0"/>
<path stroke="#3e58ac" stroke-width="2.8" d="M344 330h0M299 291h0M247 266h0M337 313h0M311 302h0M364 320h0M433 373h0M365 337h0M353 325h0M263 285h0M451 352h0M239 281h0M381 324h0M307 294h0M366 316h0M341 325h0M301 263h0M425 362h0M304 281h0M263 285h0M270 263h0M472 379h0M286 282h0M460 371h0M283 288h0M356 318h0M415 334h0M282 268h0M260 252h0M354 333h0M291 307h0M344 313h0M288 306h0M228 265h0M256 253h0M381 317h0M402 363h0M405 328h0M366 351h0M313 321h0M281 301h0M277 286h0M280 273h0M308 266h0M283 286h0M271 275h0M392 345h0M336 331h0M427 352h0M303 301h0M462 365h0M313 296h0M405 350h0M258 275h0M235 269h0M263 247h0M301 292h0M324 287h0M402 336h0M340 309h0M389 354h0M259 273h0M294 317h0M366 339h0M389 354h0M391 327h0M232 251h0M363 337h0M277 264h0M261 279h0M480 374h0M336 302h0M269 286h0M374 317h0M313 305h0M397 329h0M257 282h0M260 286h0M293 268h0M399 332h0M357 312h0M400 335h0M325 299h0M313 285h0M362 341h0M286 287h0M263 287h0M307 280h0M238 244h0M383 348h0M388 335h0M262 264h0M305 297h0M308 304h0M279 298h0M342 311h0M423 345h0M311 294h0M342 304h0M254 251h0M379 335h0M287 294h0M295 276h0M323 282h0M288 296h0M341 319h0M248 278h0M384 319h0M378 327h0M301 296h0M407 330h0M291 311h0M277 267h0M282 288h0M374 322h0M286 295h0M288 290h0M382 344h0M324 293h0M405 321h0M359 296h0M405 329h0M278 293h0M325 304h0M316 290h0M358 312h0M412 360h0M267 264h0M420 331h0M329 329h0M357 318h0M424 325h0M321 309h0M380 344h0M257 275h0M415 320h0M271 295h0M289 285h0M363 306h0M307 277h0M471 379h0M293 313h0M306 285h0M345 304h0M387 354h0M358 315h0M370 341h0M342 301h0M254 285h0M375 348h0M425 362h0M373 333h0M351 308h0M246 288h0M341 325h0M269 270h0M312 326h0M326 304h0M311 272h0M306 280h0M336 320h0M306 270h0M274 247h0M386 343h0M330 321h0M275 279h0M340 297h0M398 306h0M261 280h0M400 350h0M368 324h0M251 266h0M333 325h0M259 278h0M288 304h0M372 327h0M284 293h0M408 350h0M319 305h0M331 301h0M263 280h0M308 298h0M306 265h0M300 283h0M452 360h0M332 292h0M270 284h0M346 289h0M420 332h0M308 293h0M354 314h0M280 296h0M390 307h0M285 269h0M382 350h0M405 330h0M400 345h0M260 270h0M334 293h0M385 315h0M333 308h0M326 304h0M325 330h0M298 305h0M370 325h0M392 353h0M374 332h0M408 341h0M302 318h0M256 270h0M258 282h0M387 353h0M354 344h0M406 313h0M360 327h0M327 277h0M352 292h0M293 301h0M402 332h0M333 322h0M366 328h0M355 309h0M411 345h0M353 302h0M301 270h0M384 329h0M359 309h0M318 297h0M314 296h0M275 288h0M345 319h0M273 251h0M295 283h0M408 317h0M448 369h0M269 297h0M275 280h0M249 290h0M262 285h0M278 285h0M465 369h0M399 332h0M325 300h0M365 342h0M373 325h0M317 294h0M421 369h0M368 328h0M243 269h0M241 269h0M259 285h0M424 363h0M270 277h0M295 315h0M331 318h0M288 271h0M266 254h0M326 327h0M409 330h0M361 350h0M385 330h0M421 354h0M262 288h0M384 332h0M375 341h0M418 366h0M380 319h0M326 314h0M279 262h0M348 310h0M254 279h0M250 267h0M260 273h0M393 330h0M266 253h0M358 303h0M399 354h0M233 260h0M338 293h0M284 287h0M406 312h0M386 333h0M397 342h0M243 259h0M362 309h0M365 317h0M341 310h0M268 259h0M363 325h0M318 320h0M320 286h0M363 329h0M456 371h0M451 355h0M385 323h0M378 301h0M410 339h0M249 271h0M293 289h0M276 256h0M380 331h0M269 263h0M377 322h0M332 294h0M391 349h0M267 273h0M308 290h0M397 354h0M257 272h0M300 282h0M330 319h0M255 285h0M252 263h0M398 346h0M318 294h0M326 291h0M271 290h0M347 342h0M272 288h0M298 277h0M295 289h0M271 286h0M318 302h0M256 254h0M402 323h0M472 380h0M428 370h0M455 351h0M289 293h0M280 270h0M418 370h0M348 317h0M251 286h0M290 278h0M328 320h0M326 298h0M323 299h0M272 271h0M333 297h0M277 294h0M416 377h0M236 242h0M384 342h0M251 264h0M341 347h0M307 285h0M345 297h0M365 322h0M325 279h0M328 272h0M471 368h0M375 323h0M369 322h0M353 303h0M283 297h0M337 304h0M413 338h0M433 372h0M278 274h0M311 280h0M257 275h0M251 269h0M347 311h0M306 289h0M300 304h0M394 340h0M304 281h0M279 294h0M301 313h0M439 355h0M322 324h0M306 281h0M278 277h0M434 367h0M375 307h0M394 328h0M271 271h0M306 297h0M409 331h0M391 341h0M330 304h0M359 321h0M331 332h0M348 318h0M276 270h0M335 298h0M388 347h0M255 286h0M281 292h0M382 313h0M298 294h0M348 331h0M381 312h0M250 260h0M306 277h0M250 273h0M263 281h0M390 330h0M384 308h0M359 335h0M298 315h0M258 277h0M294 261h0M388 341h0M398 347h0M359 307h0M397 332h0M359 328h0M282 312h0M249 273h0M321 312h0M295 307h0M326 298h0M381 342h0M348 314h0M299 292h0M412 356h0M400 322h0M444 379h0M411 364h0M294 263h0M338 315h0M412 365h0M257 266h0M269 256h0M363 332h0M274 266h0M378 337h0M355 320h0M390 341h0M369 317h0M382 332h0M333 327h0M364 298h0M391 356h0M391 318h0M277 294h0M321 317h0M356 322h0M415 347h0M321 293h0M372 334h0M266 274h0M364 311h0M384 308h0M343 307h0M376 327h0M383 331h0M415 325h0M339 308h0M295 282h0M249 259h0M281 270h0M283 269h0M416 343h0M337 329h0M296 296h0M261 286h0M268 272h0M276 283h0M323 302h0M400 338h0M384 315h0M266 281h0M408 358h0M382 324h0M273 306h0M256 286h0M336 317h0M247 270h0M250 260h0M416 354h0M274 264h0M321 299h0M407 368h0M391 325h0M297 319h0M346 316h0M269 267h0M284 249h0M453 348h0M327 293h0M332 326h0M345 322h0M410 337h0M271 283h0M350 310h0M283 280h0M272 276h0M363 336h0M475 376h0M397 367h0M251 242h0M358 341h0M371 314h0M258 259h0M341 306h0M312 268h0M248 272h0M351 341h0M297 298h0M311 294h0M272 284h0M246 256h0M365 351h0M273 245h0M407 371h0M370 324h0M364 322h0M363 294h0M243 256h0M286 285h0M288 308h0M282 312h0M325 297h0M372 319h0M328 329h0M358 327h0M378 323h0M253 273h0M409 343h0M280 272h0M272 282h0M278 284h0M345 336h0"/>
<path stroke="#ef3338" stroke-width="2.8" d="M253 273h0M281 297h0M298 318h0M253 286h0M314 295h0M278 312h0M346 321h0M250 304h0M237 272h0M260 282h0M408 376h0M339 310h0M265 277h0M285 326h0M272 312h0M272 265h0M367 324h0M314 311h0M274 303h0M310 305h0M288 296h0M273 270h0M349 294h0M301 292h0M325 306h0M314 308h0M296 303h0M293 308h0M325 309h0M294 293h0M269 309h0M350 306h0M245 263h0M246 266h0M307 302h0M282 283h0M356 343h0M289 280h0M257 292h0M282 320h0M328 328h0M252 284h0M269 304h0M241 280h0M321 316h0M322 286h0M365 354h0M349 333h0M315 308h0M273 296h0M325 299h0M296 267h0M278 299h0M317 315h0M276 263h0M289 285h0M347 342h0M390 370h0M263 307h0M314 327h0M326 306h0M304 300h0M270 268h0M309 294h0M273 297h0M354 302h0M301 304h0M321 292h0M326 326h0M319 286h0M263 286h0M293 314h0M336 309h0M348 294h0M372 364h0M310 298h0M332 319h0M301 294h0M287 271h0M313 302h0M305 279h0M299 299h0M290 325h0M268 290h0M385 368h0M296 265h0M339 342h0M288 297h0M280 292h0M310 304h0M355 344h0M314 302h0M322 305h0M257 283h0M298 291h0"/>
<path stroke="#7c287d" stroke-width="2.8" d="M495 367h0M322 249h0M393 273h0M380 244h0M288 214h0M282 215h0M389 187h0M395 281h0M386 275h0M286 236h0M444 398h0M309 284h0M251 240h0M266 161h0M440 292h0M258 254h0M310 289h0M314 233h0M348 258h0M241 239h0M296 219h0M356 267h0M326 288h0M227 183h0M331 193h0M318 232h0M337 284h0M340 259h0M420 238h0M317 228h0M237 214h0M311 211h0M301 196h0M351 253h0M383 227h0M310 226h0M306 251h0M304 234h0M308 261h0M404 286h0M317 245h0M348 264h0M308 251h0M414 284h0M318 245h0M354 267h0M234 193h0M277 244h0M328 251h0M318 217h0M400 354h0M279 264h0M444 328h0M280 160h0M377 233h0M247 204h0M302 243h0M328 254h0M274 277h0M207 200h0M349 246h0M387 243h0M320 257h0M265 219h0M323 228h0M246 227h0M405 241h0M248 204h0M247 234h0M235 272h0M278 237h0M414 256h0M416 237h0M369 242h0M352 286h0M210 226h0M316 218h0M270 218h0M398 339h0M278 200h0M294 225h0M352 247h0M333 254h0M357 262h0M250 196h0M323 244h0M297 173h0M270 171h0M266 224h0M333 214h0M341 276h0M337 269h0M327 227h0M245 141h0M319 234h0M434 290h0M345 191h0M325 247h0M358 211h0M201 211h0M309 212h0M350 228h0M419 257h0M333 225h0M271 195h0M437 261h0M386 274h0M285 245h0M228 155h0M306 244h0M287 180h0M314 260h0M399 255h0M302 240h0M399 314h0M369 256h0M307 223h0M297 207h0M273 210h0M259 163h0M365 260h0M285 188h0M329 263h0M421 254h0M284 281h0M327 221h0M223 201h0M290 192h0M279 237h0M279 197h0M327 258h0M231 187h0M290 249h0M278 238h0M280 233h0M405 311h0M283 206h0M365 254h0M364 290h0M216 153h0M272 264h0M421 270h0M337 269h0M423 307h0M189 134h0M224 179h0M306 228h0M229 195h0M276 217h0M363 317h0M221 178h0M223 218h0M411 247h0M214 233h0M362 253h0M332 271h0M227 212h0M259 228h0M365 226h0M310 238h0M259 251h0M316 258h0M361 256h0M311 256h0M197 171h0M346 237h0M358 243h0M353 266h0M261 191h0M308 212h0M290 185h0M477 266h0M363 281h0M346 244h0M417 295h0M221 193h0M324 199h0M359 253h0M243 189h0M332 245h0M355 246h0M217 211h0M286 264h0M376 230h0M429 247h0M320 209h0M247 198h0M310 223h0M336 255h0M391 333h0M285 229h0M193 199h0M264 207h0M219 187h0M333 277h0M290 211h0M294 150h0M269 223h0M291 268h0M324 239h0M304 223h0M312 234h0M378 256h0M448 327h0M255 204h0M305 270h0M245 255h0M310 225h0M221 238h0M253 234h0M263 182h0M345 222h0M299 224h0M238 185h0M237 196h0M308 311h0M315 224h0M338 278h0M348 236h0M297 251h0M347 189h0M309 215h0M339 200h0M368 217h0M443 285h0M330 270h0M252 159h0M298 218h0M287 196h0M307 212h0M443 279h0M293 214h0M295 192h0M280 181h0M323 251h0M345 241h0M361 249h0M417 247h0M208 193h0M327 253h0M288 186h0M310 187h0M237 179h0M311 201h0M358 329h0M328 321h0M292 226h0M460 370h0M221 257h0M328 239h0M247 213h0M275 236h0M374 247h0M323 232h0M290 238h0M345 264h0M314 194h0M364 282h0M219 186h0M368 267h0M364 258h0M241 219h0M316 255h0M376 240h0M293 231h0M223 172h0M178 153h0M282 141h0M211 191h0M287 262h0M303 228h0M452 236h0M271 232h0M493 277h0M338 288h0M324 220h0M347 222h0M359 228h0M340 250h0M355 250h0M334 292h0M289 224h0M334 245h0M294 151h0M304 212h0M253 259h0M267 278h0M397 268h0M384 267h0M429 390h0M329 227h0M325 217h0M265 183h0M257 229h0M249 194h0M274 166h0M337 241h0M228 236h0M317 207h0M283 206h0M420 276h0M294 243h0M275 219h0M277 191h0M299 236h0M426 260h0M309 208h0M367 213h0M333 218h0M170 187h0M272 206h0M370 266h0M326 177h0M326 262h0M271 166h0M384 220h0M291 275h0M336 263h0M390 232h0M291 206h0M303 264h0M264 207h0M344 229h0M320 184h0M352 225h0M306 259h0M363 254h0M358 247h0M258 209h0M405 298h0M305 228h0M360 241h0M300 205h0M261 226h0M319 285h0M248 214h0M295 202h0M286 205h0M289 215h0M281 196h0M349 250h0M317 270h0M305 219h0M324 295h0M270 206h0M355 280h0M431 280h0M375 283h0M259 205h0M285 221h0M346 254h0M241 145h0M211 176h0M332 214h0M273 212h0M437 268h0M302 234h0M268 235h0M315 263h0M300 182h0M276 229h0M320 249h0M304 232h0M354 202h0M399 288h0M256 233h0M335 268h0M342 231h0M261 183h0M415 317h0M344 263h0M371 264h0M263 201h0M363 233h0M353 267h0M393 262h0M393 224h0M409 335h0M421 283h0M271 269h0M326 230h0M276 247h0M385 317h0M260 212h0M293 212h0M347 227h0M366 264h0M246 241h0M283 203h0M334 236h0M358 222h0M310 230h0M381 323h0M389 245h0M440 269h0M351 255h0M392 283h0M338 299h0M381 290h0M304 206h0"/>
<path stroke="#3e58ac" stroke-width="2.8" d="M305 292h0M417 313h0M314 308h0M310 300h0M290 273h0M377 326h0M301 325h0M342 340h0M362 319h0M262 263h0M254 266h0M287 299h0M323 299h0M316 309h0M303 278h0M304 266h0M474 355h0M285 307h0M269 281h0M426 345h0M432 337h0M346 320h0M389 340h0M422 341h0M416 354h0M276 286h0M286 281h0M273 267h0M352 292h0M352 324h0M250 284h0M296 294h0M250 267h0M329 296h0M310 317h0M264 274h0M268 297h0M290 281h0M266 280h0M364 327h0M369 351h0M257 283h0M267 282h0M434 370h0M308 300h0M372 340h0M253 287h0M336 311h0M301 284h0M386 352h0M312 298h0M313 297h0M410 314h0M433 349h0M252 266h0M357 349h0M254 280h0M310 302h0M272 305h0M360 310h0M352 321h0M262 283h0M361 288h0M475 373h0M287 290h0M414 321h0M313 266h0M291 307h0M366 315h0M344 323h0M381 304h0M343 296h0M293 294h0M418 342h0M393 332h0M405 343h0M458 371h0M331 323h0M266 264h0M277 254h0M276 299h0M400 346h0M398 342h0M234 250h0M324 272h0M431 351h0M278 298h0M305 300h0M357 327h0M449 369h0M366 305h0M254 262h0M398 339h0M247 277h0M391 317h0M314 305h0M331 298h0M316 301h0M353 308h0M336 281h0M297 279h0M295 299h0M419 355h0M306 291h0M413 359h0M332 311h0M309 302h0M279 290h0M398 338h0M322 291h0M284 302h0M359 312h0M281 282h0M415 359h0M305 278h0M300 288h0M298 289h0M431 347h0M323 275h0M368 329h0M400 335h0M340 313h0M411 341h0M286 277h0M350 303h0M330 336h0M380 347h0M429 364h0M338 314h0M277 264h0M345 315h0M339 341h0M442 349h0M334 297h0M249 264h0M369 333h0M319 306h0M409 338h0M355 331h0M323 310h0M376 323h0M262 279h0M379 332h0M272 302h0M325 286h0M375 329h0M270 273h0M351 284h0M316 304h0M252 276h0M358 303h0M400 346h0M393 338h0M271 287h0M353 338h0M381 323h0M324 300h0M351 333h0M272 274h0M391 322h0M244 275h0M386 325h0M409 339h0M330 323h0M341 306h0M383 336h0M302 295h0M401 351h0M323 299h0M364 298h0M377 334h0M358 329h0M258 265h0M342 325h0M276 272h0M360 305h0M322 312h0M265 287h0M366 306h0M365 313h0M313 302h0M371 336h0M399 357h0M440 340h0M359 310h0M248 272h0M366 315h0M392 321h0M469 379h0M283 286h0M460 376h0M324 309h0M409 325h0M275 285h0M361 320h0M317 297h0M396 345h0M298 285h0M382 357h0M418 325h0M249 290h0M266 283h0M406 355h0M346 315h0M256 256h0M362 344h0M320 318h0M307 308h0M290 295h0M343 323h0M255 257h0M244 269h0M348 276h0M271 295h0M395 358h0M336 313h0M307 294h0M361 310h0M342 293h0M251 260h0M302 294h0M300 290h0M306 295h0M367 316h0M462 343h0M346 325h0M371 349h0M463 369h0M337 309h0M378 335h0M245 271h0M469 379h0M389 346h0M345 308h0M348 303h0M268 280h0M336 305h0M259 281h0M389 332h0M346 314h0M364 328h0M298 292h0M304 284h0M315 268h0M370 336h0M312 321h0M398 335h0M444 382h0M430 355h0M241 273h0M359 319h0M390 342h0M395 321h0M270 284h0M333 277h0M289 303h0M366 305h0M256 280h0M319 268h0M365 352h0M367 317h0M307 320h0M249 282h0M318 288h0M255 268h0M277 293h0M334 318h0M378 335h0M463 356h0M397 349h0M300 285h0M331 297h0M264 283h0M420 362h0M368 355h0M467 384h0M455 386h0M461 361h0M388 327h0M241 274h0M385 342h0M379 323h0M281 277h0M331 277h0M306 284h0M296 292h0M377 325h0M325 331h0M450 379h0M363 296h0M305 291h0M240 273h0M319 302h0M298 287h0M234 254h0M331 304h0M293 261h0M341 302h0M446 346h0M402 338h0M272 297h0M379 311h0M376 336h0M453 359h0M357 336h0M356 314h0M249 256h0M411 362h0M285 297h0M330 312h0M251 271h0M346 328h0M304 291h0M326 312h0M396 336h0M313 312h0M344 286h0M359 312h0M266 293h0M297 288h0M317 326h0M399 350h0M267 289h0M354 330h0M275 299h0M263 292h0M311 284h0M406 358h0M333 322h0M316 302h0M303 269h0M303 275h0M322 314h0M363 315h0M271 292h0M252 279h0M350 308h0M289 271h0M317 294h0M340 324h0M428 341h0M449 368h0M297 309h0M427 327h0M336 318h0M396 339h0M310 274h0M407 323h0M372 320h0M359 307h0M257 263h0M308 292h0M322 283h0M383 313h0M442 373h0M295 309h0M407 341h0M327 314h0M252 255h0M414 340h0M372 318h0M265 263h0M340 324h0M407 343h0M347 321h0M397 331h0M300 310h0M412 333h0M335 331h0M300 296h0M356 340h0M374 325h0M308 266h0M469 376h0M463 356h0M421 321h0M292 308h0M272 287h0M265 281h0M406 330h0M374 328h0M253 253h0M269 281h0M254 281h0M267 265h0M254 283h0M455 384h0M252 285h0M341 306h0M266 275h0M380 317h0M234 269h0M279 277h0M297 287h0M407 330h0M376 330h0M272 283h0M396 318h0M380 322h0M366 324h0M287 273h0M290 269h0M315 313h0M468 368h0M383 313h0M243 244h0M380 330h0M327 294h0M258 278h0M322 294h0M272 267h0M443 377h0M324 311h0M351 305h0M410 360h0M399 321h0M385 322h0M415 371h0M354 326h0M286 299h0M315 301h0M403 336h0M267 276h0M305 281h0M303 279h0M372 340h0M274 269h0M238 272h0M410 352h0M377 322h0M478 372h0M398 366h0M297 318h0M344 330h0M409 363h0M306 289h0M283 282h0M359 323h0M331 312h0M389 336h0M322 292h0M350 317h0M440 363h0M324 320h0M356 303h0M324 326h0M287 296h0M299 309h0M264 293h0M284 283h0M302 296h0M280 277h0M395 322h0M354 311h0M316 294h0M352 319h0M288 297h0M267 286h0M275 275h0M248 284h0M405 345h0M414 326h0M478 365h0M287 293h0M295 304h0M368 312h0M321 291h0M277 284h0M346 328h0M328 294h0M271 279h0M353 317h0M358 303h0M344 312h0M302 282h0M300 274h0M337 311h0M345 313h0M276 275h0M391 342h0M287 289h0M352 341h0M292 283h0M387 338h0M408 350h0M367 354h0M374 337h0M384 336h0M253 283h0M335 315h0M281 297h0M303 295h0M345 282h0M419 347h0M337 312h0M306 299h0M348 310h0M399 362h0M368 339h0M292 299h0M236 258h0M325 317h0M286 262h0M333 293h0M354 330h0M275 261h0M393 326h0M268 287h0M346 310h0M411 367h0M395 321h0M240 241h0M464 380h0M264 258h0M269 284h0M394 334h0M364 316h0M384 302h0M252 263h0M395 326h0M252 249h0M272 275h0M343 328h0M299 268h0M308 280h0"/>
<path stroke="#ef3338" stroke-width="2.8" d="M382 360h0M298 301h0M257 285h0M323 291h0M290 298h0M251 260h0M306 294h0M377 347h0M305 312h0M263 314h0M402 353h0M349 345h0M421 369h0M375 352h0M258 301h0M340 316h0M246 264h0M283 318h0M294 274h0M297 310h0M272 263h0M308 285h0M412 371h0M287 293h0M332 301h0M377 358h0M297 286h0M329 337h0M268 282h0M308 275h0M285 263h0M314 290h0M347 303h0M324 280h0M302 302h0M281 315h0M238 259h0M286 321h0M288 287h0M391 371h0M280 297h0M312 300h0M280 300h0M329 279h0M295 279h0M292 280h0M340 313h0M330 296h0M313 316h0M267 306h0M312 273h0M259 272h0M267 310h0M288 273h0M343 337h0M258 296h0M253 278h0M266 288h0M335 291h0M326 278h0M283 320h0M301 296h0M332 310h0M347 323h0M277 320h0M353 305h0M247 284h0M240 285h0M270 285h0M322 303h0M259 301h0M313 285h0M227 266h0M253 261h0M362 345h0M356 317h0M392 333h0M343 307h0M300 325h0M231 260h0M359 306h0M260 290h0M327 295h0M250 295h0M284 298h0M296 289h0M296 289h0M308 282h0M296 319h0M269 312h0M323 290h0M275 305h0M330 292h0M288 275h0M397 335h0"/>
<path stroke="#7c287d" stroke-width="2.8" d="M296 263h0M218 243h0M327 239h0M288 261h0M313 233h0M277 223h0M350 216h0M334 214h0M262 147h0M408 298h0M302 287h0M343 258h0M277 204h0M290 263h0M330 253h0M303 225h0M412 311h0M332 216h0M247 168h0M355 259h0M289 242h0M295 190h0M274 226h0M309 217h0M303 185h0M348 225h0M246 202h0M315 250h0M309 230h0M369 237h0M266 212h0M425 244h0M317 237h0M370 227h0M286 234h0M362 233h0M317 303h0M299 259h0M371 268h0M349 264h0M376 260h0M337 197h0M416 238h0M347 213h0M342 248h0M370 226h0M363 296h0M384 277h0M253 192h0M345 244h0M366 253h0M233 200h0M226 167h0M305 253h0M329 231h0M344 231h0M308 234h0M385 225h0M256 217h0M372 224h0M268 207h0M325 268h0M167 144h0M237 213h0M252 222h0M474 399h0M289 254h0M318 241h0M335 228h0M360 226h0M315 215h0M259 176h0M345 232h0M272 211h0M372 256h0M244 176h0M366 306h0M274 187h0M247 176h0M286 240h0M391 283h0M326 269h0M256 214h0M269 167h0M351 267h0M276 185h0M277 284h0M205 150h0M311 220h0M316 245h0M338 284h0M381 309h0M361 257h0M311 247h0M373 313h0M356 259h0M318 223h0M286 253h0M314 233h0M330 258h0M319 231h0M363 282h0M315 245h0M372 269h0M314 215h0M307 256h0M208 158h0M177 134h0M298 246h0M305 189h0M328 227h0M345 223h0M294 240h0M337 224h0M347 260h0M240 202h0M272 196h0M273 228h0M344 243h0M327 290h0M262 199h0M363 191h0M398 265h0M232 171h0M232 208h0M278 232h0M370 266h0M248 191h0M352 300h0M284 247h0M406 304h0M208 214h0M370 277h0M258 193h0M276 184h0M350 249h0M398 317h0M348 228h0M201 190h0M295 279h0M404 274h0M347 239h0M230 167h0M272 226h0M451 345h0M318 235h0M292 150h0M350 236h0M224 276h0M409 331h0M316 214h0M300 182h0M249 172h0M249 195h0M332 276h0M362 270h0M350 238h0M277 239h0M322 212h0M395 297h0M363 286h0M346 296h0M266 240h0M367 309h0M272 186h0M271 284h0M320 289h0M253 263h0M289 184h0M343 239h0M291 185h0M368 243h0M242 217h0M314 237h0M231 154h0M261 192h0M360 270h0M266 186h0M229 170h0M273 236h0M336 253h0M280 194h0M340 226h0M267 143h0M210 219h0M267 259h0M350 263h0M256 181h0M405 273h0M262 230h0M360 235h0M289 308h0M369 285h0M250 183h0M389 273h0M332 298h0M365 267h0M368 253h0M273 247h0M274 237h0M166 239h0M284 190h0M350 223h0M247 239h0M249 165h0M336 241h0M262 248h0M316 229h0M342 292h0M340 256h0M314 260h0M348 243h0M358 273h0M312 240h0M415 238h0M310 236h0M227 219h0M307 211h0M202 202h0M242 183h0M352 218h0M237 177h0M371 285h0M365 273h0M323 168h0M274 182h0M348 290h0M201 192h0M316 248h0M262 161h0M376 299h0M325 233h0M273 203h0M300 234h0M170 177h0M399 307h0M366 286h0M340 277h0M337 224h0M390 239h0M325 269h0M240 118h0M269 212h0M378 289h0M280 237h0M368 230h0M305 248h0M269 245h0M360 230h0M395 226h0M285 227h0M322 278h0M378 224h0M229 193h0M394 304h0M378 317h0M262 275h0M268 179h0M303 250h0M433 293h0M257 163h0M322 183h0M228 227h0M417 280h0M311 253h0M428 283h0M384 334h0M345 232h0M313 268h0M247 219h0M396 235h0M305 186h0M357 211h0M402 346h0M430 248h0M452 280h0M307 226h0M219 192h0M293 227h0M226 156h0M300 230h0M232 185h0M330 228h0M249 176h0M291 196h0M355 285h0M240 198h0M241 201h0M262 206h0M331 214h0M252 215h0M325 243h0M234 202h0M281 183h0M341 206h0M300 252h0M279 174h0M266 202h0M194 223h0M250 233h0M303 229h0M270 180h0M299 242h0M257 216h0M287 257h0M382 332h0M273 189h0M308 247h0M296 243h0M402 279h0M347 252h0M281 216h0M264 221h0M398 289h0M378 213h0M313 244h0M251 258h0M324 266h0M318 265h0M297 224h0M328 202h0M303 231h0M360 278h0M241 198h0M302 266h0M287 210h0M425 326h0M419 321h0M251 202h0M284 280h0M317 170h0M252 123h0M265 227h0M411 277h0M353 202h0M375 258h0M176 157h0M326 211h0M199 187h0M289 171h0M315 250h0M254 257h0M236 142h0M280 222h0M265 212h0M226 224h0M347 190h0M318 228h0M316 250h0M396 314h0M294 204h0M327 232h0M331 260h0M413 311h0M303 254h0M341 224h0M267 212h0M338 266h0M331 203h0M333 223h0M245 206h0M274 190h0M339 231h0M417 310h0M335 229h0M358 234h0M332 232h0M330 294h0M273 197h0M329 287h0M259 177h0M231 259h0M366 300h0M305 220h0M290 290h0M207 164h0M279 193h0M358 245h0M378 309h0M293 217h0M274 181h0M274 179h0M276 213h0M331 226h0M266 199h0M323 289h0M295 205h0M321 267h0M332 214h0M263 247h0M319 296h0M389 277h0M246 203h0M321 207h0M223 138h0M278 194h0M426 358h0M396 274h0M348 208h0M235 208h0"/>
<path stroke="#7c287d" stroke-width="2.8" d="M216 233h0M214 209h0M213 215h0M185 222h0M201 204h0M174 205h0M210 213h0M190 213h0M227 221h0M170 224h0M207 214h0M191 226h0M169 197h0M203 227h0M172 201h0M192 213h0M193 222h0M180 229h0M209 223h0M193 209h0M165 219h0M171 208h0M171 193h0M171 226h0M192 222h0M210 196h0M190 240h0M192 206h0M168 214h0M192 216h0M215 217h0M174 204h0M168 227h0M188 215h0M182 225h0M183 213h0M200 242h0M214 229h0M178 202h0M226 230h0"/>
<path stroke="#7c287d" stroke-width="2.8" d="M382 358h0M338 353h0M346 343h0M352 345h0M324 342h0M379 350h0M364 345h0M358 355h0M330 332h0M373 371h0M372 372h0M367 372h0M307 346h0M356 376h0M302 341h0M319 349h0M303 342h0M357 352h0M374 377h0M362 342h0M302 337h0M365 355h0M369 349h0M346 367h0M314 348h0M343 344h0M390 375h0M311 328h0M324 354h0M358 364h0M350 363h0M375 354h0M371 362h0M296 333h0M343 348h0M348 343h0M297 333h0M363 359h0M363 372h0M360 362h0M357 369h0M361 367h0M321 349h0M337 351h0M312 349h0"/>
<path stroke="#ef3338" stroke-width="2.8" d="M428 366h0M435 386h0M401 375h0M420 362h0M402 376h0M412 367h0M412 374h0M419 378h0M403 378h0M401 361h0M422 384h0M398 363h0M401 356h0M396 371h0M405 371h0M417 373h0M403 369h0M397 361h0M389 373h0M424 378h0M428 376h0M399 359h0"/>
<path stroke="#7c287d" stroke-width="2.8" d="M324 358h0M338 351h0M421 406h0M354 357h0M309 337h0M404 378h0M439 390h0M349 368h0M412 375h0M442 375h0M420 368h0M300 331h0M340 353h0M299 336h0M300 348h0M363 357h0M409 379h0M432 368h0M386 359h0M375 392h0M424 391h0M327 340h0M325 330h0M469 412h0M399 382h0M319 328h0M423 359h0M459 410h0M362 363h0M341 361h0M333 356h0M369 346h0M447 406h0M446 396h0M376 387h0M351 361h0M455 393h0M361 371h0M335 358h0M469 413h0M453 381h0M367 349h0M369 352h0M371 352h0M396 352h0M349 358h0M433 399h0M305 331h0M424 407h0M412 363h0M359 353h0M400 368h0M349 346h0M462 401h0M378 357h0M340 361h0M344 368h0M464 401h0M366 375h0M435 397h0M351 352h0M377 348h0M455 405h0M431 372h0M329 365h0M437 399h0M417 406h0M370 352h0M326 333h0M359 340h0"/>
<path stroke="#fbf873" stroke-width="2.8" d="M701 161h0M696 175h0M701 171h0M697 162h0M693 180h0M702 177h0M699 170h0M695 176h0M695 181h0M697 173h0M701 179h0M703 176h0M696 170h0M699 162h0M696 180h0M702 181h0M699 180h0M703 178h0M695 168h0M703 180h0M701 160h0M694 181h0M693 179h0M697 182h0M691 170h0M699 179h0M695 165h0M699 179h0M699 163h0M694 165h0M697 170h0M701 159h0M701 177h0M701 168h0M700 165h0M695 177h0M696 172h0M701 172h0M695 175h0M699 160h0M701 159h0M703 180h0M698 175h0M693 174h0M701 182h0M693 180h0M695 180h0M703 179h0M701 171h0M700 181h0M702 166h0M693 165h0M692 166h0M700 169h0M699 168h0M697 175h0M693 164h0M691 164h0M704 178h0M701 181h0M699 170h0M698 180h0M701 178h0M700 175h0M696 162h0M692 169h0M696 170h0M691 167h0M693 179h0M695 166h0M694 161h0M694 162h0M698 170h0M694 168h0M698 177h0M691 164h0M701 167h0M695 163h0M691 170h0M694 175h0M694 173h0M702 165h0M693 165h0M696 175h0M701 171h0M700 172h0M696 168h0M698 161h0M700 169h0M701 175h0M698 176h0M691 176h0M696 166h0M697 164h0M696 176h0M693 165h0M698 161h0M694 168h0M694 172h0M694 175h0M697 160h0M693 167h0M699 176h0M699 184h0M695 166h0M697 163h0M694 163h0M697 157h0M697 168h0M699 162h0M693 164h0M698 176h0M693 172h0M699 167h0M694 172h0M698 172h0M698 176h0M700 179h0M698 168h0M695 161h0M698 167h0M691 172h0M697 178h0M696 161h0M699 165h0M693 168h0M697 173h0M694 170h0M694 170h0M697 170h0M696 165h0M699 172h0M698 181h0M695 179h0M695 167h0M694 162h0M696 166h0M700 180h0M693 176h0M698 169h0M694 167h0M695 178h0M693 169h0M695 163h0M696 173h0M696 177h0M695 168h0M694 163h0M695 175h0M698 160h0M701 172h0M691 171h0M695 184h0M700 164h0M694 168h0M701 176h0M701 178h0M702 179h0M694 181h0M698 165h0M696 161h0M698 177h0M696 171h0M696 162h0M700 178h0M694 180h0M702 170h0M698 173h0M694 172h0M698 177h0M692 172h0M699 176h0M693 180h0M697 169h0M696 171h0M701 171h0M695 175h0M700 165h0M694 172h0M693 180h0M696 177h0M692 174h0M702 181h0M701 174h0M700 168h0M700 182h0M699 169h0M695 172h0M700 163h0M695 175h0M691 171h0M694 161h0M697 168h0M694 171h0M699 165h0M699 168h0M697 176h0M700 179h0M696 163h0M697 176h0"/>
<path stroke="#4cc4b4" stroke-width="2.8" d="M748 187h0M729 170h0M749 205h0M754 186h0M747 197h0M710 176h0M721 165h0M759 203h0M747 201h0M710 174h0M704 160h0M701 177h0M714 164h0M740 183h0M712 182h0M744 196h0M724 163h0M713 180h0M709 159h0M769 206h0M712 174h0M715 189h0M753 187h0M706 156h0M724 195h0M708 172h0M753 201h0M743 199h0M719 162h0M729 192h0M706 175h0M758 196h0M764 200h0M714 194h0M765 197h0M718 174h0M729 185h0M742 189h0M714 188h0M705 165h0M727 185h0M708 179h0M753 203h0M728 193h0M735 203h0M753 208h0M731 168h0M724 181h0M721 185h0M705 170h0M725 192h0M758 200h0M701 175h0M746 192h0M707 185h0M723 167h0M748 207h0M708 155h0M721 186h0M712 172h0M729 189h0M757 204h0M730 178h0M733 199h0M756 193h0M705 174h0M724 169h0M743 195h0M735 182h0M726 173h0M715 163h0M715 189h0M716 175h0M744 202h0M761 200h0M755 192h0M707 166h0M723 189h0M717 184h0M720 184h0M758 199h0M704 176h0M724 175h0M739 182h0M707 163h0M722 174h0M730 180h0M765 208h0M723 169h0M734 189h0M759 194h0M719 159h0M756 206h0M712 173h0M727 173h0M707 184h0M716 192h0M715 161h0M724 191h0M727 180h0M758 196h0M718 196h0M761 197h0M704 184h0M724 170h0M724 178h0M707 186h0M706 179h0M763 205h0M738 201h0M760 202h0M729 168h0M722 181h0M722 166h0M715 173h0M721 177h0M713 164h0M741 188h0M713 169h0M705 167h0M721 191h0M732 192h0M739 180h0M714 174h0M749 202h0M719 178h0M738 186h0M735 191h0M748 204h0M740 202h0M767 208h0M714 173h0M726 172h0M708 167h0M703 178h0M740 181h0M732 183h0M716 182h0M743 199h0M706 180h0M744 185h0M740 205h0M752 201h0M741 189h0M738 181h0M749 190h0M712 169h0M730 187h0M753 185h0M718 179h0M711 166h0M732 179h0M747 183h0M727 193h0M755 198h0M704 160h0M748 183h0M727 168h0M707 174h0M741 189h0M711 158h0M750 204h0M740 196h0M711 161h0M724 175h0M749 201h0M728 198h0M759 204h0M742 180h0M755 192h0M710 177h0M756 204h0M736 180h0M728 192h0M753 195h0M711 190h0M742 193h0M707 174h0M706 159h0M710 169h0M725 176h0M725 169h0M766 200h0M734 181h0M747 206h0M727 179h0M731 197h0M748 205h0M740 206h0M705 180h0M746 204h0M717 195h0M743 209h0M714 184h0M754 204h0M724 181h0M755 194h0M723 168h0M758 195h0M702 171h0M755 207h0M741 202h0M744 209h0M743 177h0M720 186h0M717 166h0M728 193h0M730 186h0M734 177h0M766 205h0M753 196h0M718 186h0M738 198h0M743 187h0M750 207h0M758 204h0M703 183h0M712 174h0M725 165h0M731 171h0M727 193h0M721 193h0M708 173h0M753 193h0M735 189h0M708 191h0M732 199h0M725 200h0M766 210h0M749 208h0M761 200h0M704 173h0M740 189h0M741 194h0M750 195h0M724 181h0M763 198h0M758 192h0M741 203h0M752 209h0M705 183h0M706 175h0M717 183h0M723 173h0M749 183h0M722 178h0M708 179h0M741 181h0M717 184h0M760 198h0M726 188h0M712 183h0M739 192h0M750 190h0M709 181h0M748 197h0M714 178h0M724 189h0M746 197h0M733 190h0M708 165h0M743 190h0M746 188h0M706 179h0M718 167h0M745 194h0M722 189h0M744 203h0M761 197h0M723 166h0M745 183h0M725 171h0M720 183h0M752 206h0M764 206h0M763 202h0M710 160h0M764 206h0M701 156h0M762 207h0"/>
<path stroke="#d3ce97" stroke-width="2.8" d="M829 205h0M841 228h0M814 231h0M825 179h0M810 169h0M817 187h0M820 179h0M812 167h0M834 145h0M827 162h0M830 203h0M817 188h0M813 184h0M830 232h0M841 142h0M825 213h0M831 160h0M842 209h0M818 224h0M818 230h0M823 139h0M844 134h0M830 185h0M833 155h0M803 191h0M807 192h0M815 190h0M819 171h0M844 216h0M805 136h0M811 169h0M807 130h0M838 160h0M845 143h0M833 171h0M813 187h0M845 207h0M816 203h0M801 126h0M836 232h0M842 171h0M833 220h0M841 224h0M820 224h0M817 185h0M829 214h0M805 233h0M810 211h0M825 191h0M843 233h0M835 176h0M812 134h0M821 210h0M829 201h0M828 137h0M841 172h0M820 203h0M831 237h0M846 198h0M842 222h0M824 159h0M816 195h0M812 139h0M835 184h0M808 162h0M816 199h0M804 123h0M830 213h0M816 162h0M801 149h0M820 122h0M808 140h0M840 227h0M835 166h0M819 186h0M830 138h0M834 159h0M831 187h0M805 184h0M806 220h0M822 225h0M833 121h0M837 229h0M819 228h0M841 230h0M802 221h0M837 137h0M828 192h0M816 120h0M835 172h0M805 220h0M803 182h0M837 175h0M809 132h0M839 223h0M820 157h0M839 199h0M838 179h0M822 148h0M840 116h0M831 162h0M830 164h0M844 206h0M817 202h0M818 219h0M818 220h0M814 168h0M819 159h0M833 226h0M806 177h0M832 216h0M828 202h0M839 152h0M815 159h0M829 209h0M829 168h0M837 149h0M842 218h0M815 229h0M840 210h0M837 215h0M816 227h0M807 210h0M843 204h0M812 234h0M843 196h0M815 224h0M813 179h0M800 194h0M837 235h0M819 191h0M833 170h0M838 145h0M825 201h0M828 230h0M846 130h0M821 164h0M820 165h0M814 226h0M826 218h0M811 221h0M828 232h0M836 206h0M844 192h0M840 235h0M808 152h0M805 151h0M805 214h0M806 183h0M833 223h0M812 133h0M846 225h0M825 187h0M832 169h0M804 189h0M835 167h0M825 148h0M812 182h0M823 230h0M827 162h0M827 219h0M835 197h0M838 156h0M805 125h0M809 171h0M839 219h0M840 209h0M827 157h0M842 187h0M839 195h0M841 203h0M807 230h0M814 121h0M825 176h0M834 117h0M834 120h0M825 128h0M805 206h0M821 177h0M805 204h0M839 227h0M812 221h0M819 223h0M825 192h0M833 161h0M829 119h0M813 231h0M813 164h0M822 133h0M845 215h0M823 166h0M822 230h0M843 222h0M806 129h0M812 138h0M816 228h0M833 186h0M836 174h0M833 214h0M842 157h0M805 227h0M821 201h0M841 154h0M821 173h0M835 223h0M826 156h0M810 170h0M807 216h0M844 170h0M819 177h0M831 156h0M811 219h0M842 210h0M807 123h0M815 201h0M825 142h0M837 120h0M830 130h0M839 199h0M829 188h0M840 139h0M819 192h0M842 211h0M817 231h0M828 201h0M839 214h0M823 194h0M813 129h0M840 229h0M812 170h0M830 122h0M825 204h0M809 224h0M813 226h0M839 125h0M816 166h0M810 191h0M810 232h0M834 213h0M824 142h0M832 167h0M815 135h0M830 171h0M843 171h0M818 158h0M828 231h0M843 112h0M806 132h0M810 230h0M843 198h0M829 205h0M827 207h0M817 227h0M805 169h0M815 128h0M842 171h0M838 214h0M844 213h0M831 217h0M811 176h0M804 214h0M817 159h0M816 233h0M835 211h0M826 114h0M834 232h0M815 164h0M810 229h0M809 150h0M843 195h0M840 176h0M810 208h0M801 182h0M809 232h0M844 167h0M818 150h0M803 200h0M841 155h0M809 150h0M828 160h0M818 173h0M835 140h0M842 235h0M799 233h0M840 234h0M804 154h0M847 232h0M843 164h0M831 190h0M836 180h0M830 184h0M842 181h0M809 154h0M827 218h0M845 194h0M819 201h0M825 213h0M816 200h0M821 192h0M823 136h0M819 194h0M837 136h0M832 149h0M831 202h0M833 214h0M805 174h0M834 160h0M814 145h0M829 134h0M813 146h0M801 134h0M825 186h0M804 216h0M815 116h0M836 198h0M815 154h0M832 183h0M829 205h0M840 221h0M843 140h0M822 210h0M805 212h0M833 210h0M837 179h0M840 212h0M812 207h0M840 118h0M816 188h0M839 161h0M823 159h0M841 165h0M816 155h0M841 233h0M818 156h0M808 209h0M823 226h0M830 187h0M831 178h0M821 154h0M825 228h0M814 194h0M833 229h0M806 175h0M805 161h0M840 157h0M831 222h0M826 190h0M820 233h0M818 216h0M841 220h0M805 229h0M828 152h0M833 147h0M815 210h0M809 130h0M823 190h0M832 180h0M840 168h0M843 185h0M832 121h0M841 140h0M821 174h0M833 154h0M808 237h0M840 180h0M832 200h0M821 203h0M829 155h0M811 166h0M811 136h0M816 183h0M817 146h0M819 176h0M826 191h0M809 173h0M811 202h0M800 167h0M811 165h0M808 140h0M843 201h0M810 177h0M833 162h0M822 150h0M803 164h0M826 160h0M816 206h0M836 145h0M826 196h0M805 203h0M814 207h0M833 200h0M816 224h0M821 128h0M806 219h0M840 159h0M814 214h0M841 226h0M828 131h0M828 207h0M842 212h0M812 235h0M821 223h0M813 187h0M832 163h0M805 181h0M837 198h0M815 222h0M830 133h0M822 147h0M805 163h0M828 157h0M828 144h0M822 115h0M814 198h0M827 223h0M836 224h0M819 188h0M828 203h0M819 172h0M823 228h0M801 150h0M832 150h0M833 201h0M804 197h0M840 212h0M831 174h0M840 201h0M843 183h0M823 161h0M809 139h0M808 231h0M827 163h0M843 229h0M835 215h0M805 163h0M846 230h0M809 223h0M834 190h0M832 186h0M817 159h0M843 149h0M841 154h0M841 202h0M822 181h0M844 168h0M813 221h0M822 172h0M841 160h0M833 165h0M812 140h0M815 164h0M835 210h0M821 147h0M809 191h0M824 191h0M807 206h0M833 232h0M827 161h0M820 155h0M816 168h0M813 178h0M805 138h0M834 145h0M838 184h0M803 197h0M811 210h0M812 148h0M821 138h0M810 119h0M829 203h0M806 164h0M821 206h0M845 169h0M806 147h0M821 126h0M826 170h0M831 142h0M830 213h0M816 158h0M818 213h0M838 132h0M805 207h0M823 136h0M845 228h0M807 138h0M844 218h0M820 204h0M809 203h0M831 176h0M821 135h0M822 148h0M842 152h0M823 207h0M833 153h0M833 183h0M807 157h0M824 190h0M841 212h0M807 143h0M818 117h0M815 121h0M820 193h0M828 185h0M820 231h0M800 149h0M830 181h0M824 181h0M827 194h0M846 194h0M841 188h0M824 209h0M804 218h0M826 134h0M831 217h0M825 212h0M833 177h0M810 218h0M823 184h0M817 162h0M834 199h0M817 167h0M827 164h0M809 220h0M801 188h0M823 159h0M834 151h0M820 125h0M842 135h0M827 187h0M813 182h0M815 177h0M841 165h0M801 215h0M811 129h0M836 218h0M809 231h0M838 170h0M815 214h0M819 114h0M840 163h0M813 201h0M842 128h0M821 184h0M840 171h0M828 188h0M803 233h0M816 234h0M826 216h0M812 122h0M820 209h0M818 118h0M842 207h0M802 171h0M814 232h0M840 211h0M838 234h0M802 169h0M808 124h0M838 216h0M805 116h0M804 148h0M834 229h0M809 215h0M837 172h0M806 148h0M825 114h0M831 171h0M812 143h0M822 193h0M845 213h0M819 183h0M825 155h0M838 113h0M821 219h0M803 133h0M830 222h0M824 180h0M819 236h0M837 131h0M811 191h0M835 187h0M817 210h0M831 227h0M844 169h0M825 142h0M823 233h0M828 188h0M828 217h0M846 179h0M808 173h0M834 217h0M807 127h0M804 138h0M837 223h0M839 156h0M816 145h0M841 155h0M841 236h0M840 217h0M811 199h0M825 180h0M835 115h0M830 126h0M837 235h0M831 126h0M825 148h0M821 166h0M828 136h0M830 172h0M819 159h0M810 227h0M811 148h0M826 209h0M809 129h0M841 160h0M813 231h0M835 155h0M807 221h0M825 225h0M839 129h0M822 147h0M840 195h0M803 181h0M826 224h0M831 122h0M815 141h0M826 144h0M825 120h0M827 178h0M828 203h0M846 174h0M821 177h0M823 142h0M829 170h0M827 210h0M801 231h0M818 151h0M830 218h0M810 135h0M835 207h0M813 197h0M811 148h0M805 143h0M813 176h0M813 210h0M807 156h0M831 135h0M842 208h0M801 127h0M810 209h0M818 131h0M812 208h0M841 228h0M835 168h0M835 149h0M839 173h0M841 222h0M843 196h0M803 157h0M829 224h0M830 177h0M820 170h0M817 197h0M815 185h0M814 206h0M806 236h0M828 149h0M811 189h0M842 117h0M829 179h0M832 229h0M843 157h0M826 209h0M832 137h0M837 151h0M826 171h0M823 139h0M812 219h0M812 151h0M813 158h0M826 176h0M845 189h0M806 171h0M832 135h0M800 161h0M809 215h0M824 148h0M843 173h0M806 156h0M831 123h0M832 194h0M833 230h0M812 217h0M821 228h0M831 194h0M804 230h0M824 212h0M817 223h0M829 155h0M807 200h0M839 219h0M823 195h0M832 211h0M819 143h0M802 138h0M816 191h0M816 224h0M829 145h0M846 218h0M831 194h0M801 131h0M840 204h0M809 153h0M842 191h0M822 169h0M828 187h0M814 215h0M803 230h0M830 121h0M826 215h0M809 185h0M836 184h0M820 161h0M820 149h0M807 218h0M837 178h0M814 190h0M838 152h0M835 165h0M804 130h0M815 129h0M824 204h0M811 203h0M844 165h0M821 135h0M813 204h0M819 156h0M812 124h0M828 150h0M841 155h0M829 149h0M833 134h0M801 196h0M836 217h0M834 180h0M808 169h0M817 165h0M827 132h0M830 199h0M813 134h0M823 198h0M807 234h0M838 135h0M839 206h0M818 181h0M841 140h0M819 197h0M833 209h0M810 176h0M814 123h0M818 169h0M807 162h0M835 152h0M826 183h0M805 176h0M831 179h0M810 155h0M843 183h0M835 184h0M822 191h0M832 173h0M845 226h0M809 150h0M842 213h0M830 177h0M811 181h0M841 150h0M833 214h0M837 153h0M839 234h0M810 192h0M836 171h0M805 167h0M813 139h0M807 227h0M815 166h0M826 232h0M816 129h0M838 190h0M826 139h0M843 224h0M814 214h0M813 185h0M809 230h0M815 191h0M829 194h0M808 193h0M813 127h0M804 165h0M842 211h0M826 161h0M827 150h0M807 214h0M823 129h0M800 209h0M835 205h0M803 199h0M810 175h0M838 177h0M817 228h0M815 220h0M820 238h0M841 157h0M814 150h0M819 216h0M835 176h0M827 219h0M833 138h0M803 228h0M833 116h0M813 143h0M822 166h0M831 165h0M828 134h0M821 173h0M839 172h0M812 161h0M839 171h0M834 195h0M828 200h0M839 137h0M828 172h0M830 162h0M813 226h0M826 149h0M842 199h0M827 157h0M824 136h0M805 159h0M816 162h0M817 170h0M838 201h0M835 133h0M839 165h0M825 203h0M846 143h0M832 161h0M848 216h0M808 198h0M834 128h0M829 175h0M812 140h0M817 159h0M839 169h0M843 206h0M834 175h0M835 137h0M823 180h0M827 175h0M813 153h0M806 194h0M806 235h0M833 210h0M809 138h0M836 201h0M819 157h0M822 181h0M835 160h0M811 203h0M823 192h0M822 164h0M840 204h0M827 185h0M816 133h0M827 182h0M815 210h0M827 149h0M817 175h0M827 229h0M824 157h0M811 179h0M835 165h0M839 147h0M839 123h0M837 121h0M823 209h0M830 143h0M835 175h0M807 187h0M823 160h0M833 214h0M827 233h0M818 200h0M821 132h0M841 222h0M824 219h0M808 151h0M836 159h0M805 215h0M827 238h0M806 234h0M826 177h0M823 130h0M833 227h0M812 219h0M820 189h0M800 116h0M825 232h0M845 160h0M807 148h0M827 183h0M818 198h0M809 232h0M807 149h0M817 174h0M831 229h0M816 218h0M803 206h0M821 149h0M820 175h0M841 178h0M842 171h0M843 160h0M809 203h0M817 129h0M799 142h0M839 114h0M809 137h0M811 122h0M816 170h0M801 186h0M805 225h0M831 142h0M837 184h0M813 141h0M822 171h0M831 184h0M834 180h0M807 178h0M830 229h0M820 203h0M826 169h0M815 173h0M817 157h0M805 131h0M806 149h0M828 181h0M832 133h0M838 212h0M843 185h0M838 173h0M833 132h0M822 152h0M808 148h0M820 169h0M819 231h0M830 117h0M839 176h0M816 169h0M839 186h0M836 200h0M822 164h0M830 132h0M829 168h0M844 198h0M824 184h0M815 211h0M805 184h0M836 161h0M818 147h0M827 176h0M818 224h0M820 225h0M830 191h0M818 175h0M813 209h0M821 172h0M825 173h0M811 221h0M823 135h0M829 166h0M809 219h0M817 197h0M799 154h0M821 141h0M840 157h0M811 225h0M821 189h0M802 174h0M822 197h0M840 201h0M803 203h0M829 122h0M805 193h0M848 226h0M827 234h0M819 222h0M831 214h0M806 180h0M809 218h0M840 120h0M815 138h0M834 179h0M811 151h0M818 126h0M822 173h0M827 160h0M837 165h0M816 197h0M824 165h0M818 157h0M807 201h0M844 236h0M815 150h0M815 223h0M826 194h0M824 170h0M801 227h0M837 229h0M836 230h0M807 163h0M813 211h0M829 235h0M823 173h0M806 230h0M822 218h0M826 130h0M828 203h0M812 212h0M841 170h0M815 161h0M823 196h0M805 148h0M818 175h0M827 185h0M826 189h0M820 197h0M825 175h0M821 163h0M840 169h0M831 240h0M836 227h0M823 220h0M829 233h0M827 163h0M820 229h0M833 159h0M813 144h0M825 138h0M821 221h0M810 187h0M808 164h0M828 225h0M815 118h0M816 146h0M820 209h0M809 228h0M837 122h0M830 177h0M825 187h0M801 180h0M805 184h0M828 234h0M804 212h0M828 120h0M808 125h0M822 217h0M830 151h0M844 211h0M840 219h0M825 118h0M808 136h0M816 164h0M833 152h0M838 125h0M839 149h0M821 146h0M825 192h0M841 135h0M819 139h0M809 210h0M838 174h0M813 129h0M804 169h0M815 212h0M837 121h0M827 185h0M804 219h0M832 136h0M836 199h0M815 218h0M830 185h0M835 144h0M834 180h0M799 148h0M842 175h0M815 146h0M816 134h0M841 140h0M830 175h0M849 224h0M841 141h0M820 121h0M817 216h0M815 197h0M843 118h0M803 155h0M814 215h0M835 190h0M817 162h0M834 185h0M820 185h0M829 179h0M838 170h0M819 178h0M817 194h0M837 138h0M835 220h0M821 158h0M831 204h0M824 161h0M820 164h0M817 220h0M827 227h0M842 129h0M827 192h0M821 181h0M809 211h0M820 151h0M809 123h0M826 210h0M831 149h0M843 173h0M844 220h0M807 228h0M824 127h0M813 121h0M825 234h0M812 197h0M839 211h0M820 183h0M841 163h0M817 117h0M821 234h0M840 148h0M840 228h0M829 147h0M830 133h0M835 183h0M827 209h0"/>
<path stroke="#d3ce97" stroke-width="2.8" d="M926 308h0M852 263h0M914 316h0M926 297h0M979 353h0M869 274h0M914 296h0M871 269h0M900 303h0M977 330h0M948 339h0M921 289h0M834 259h0M897 278h0M964 320h0M824 237h0M938 304h0M864 274h0M885 267h0M976 345h0M986 327h0M822 234h0M965 344h0M873 279h0M894 273h0M945 340h0M981 344h0M933 311h0M919 278h0M836 255h0M996 345h0M853 275h0M921 292h0M867 284h0M911 316h0M951 316h0M921 301h0M976 329h0M869 277h0M965 351h0M887 282h0M966 338h0M982 321h0M863 281h0M928 318h0M822 247h0M962 349h0M837 260h0M838 240h0M952 313h0M878 294h0M950 338h0M909 277h0M888 265h0M869 279h0M888 293h0M822 241h0M1002 350h0M927 314h0M996 340h0M937 307h0M941 304h0M945 305h0M930 295h0M953 331h0M947 321h0M913 292h0M853 270h0M962 334h0M987 339h0M849 240h0M829 250h0M940 324h0M996 354h0M940 319h0M878 270h0M1005 343h0M1000 357h0M843 267h0M901 301h0M809 231h0M890 272h0M992 336h0M938 300h0M842 245h0M833 255h0M852 271h0M998 334h0M875 283h0M882 266h0M898 311h0M959 306h0M857 284h0M948 329h0M902 308h0M862 288h0M980 346h0M980 353h0M917 313h0M945 330h0M928 312h0M952 334h0M905 315h0M881 285h0M905 300h0M941 301h0M910 316h0M875 284h0M933 314h0M830 241h0M953 325h0M969 340h0M922 319h0M938 287h0M924 287h0M971 343h0M944 340h0M945 338h0M814 238h0M947 296h0M959 331h0M984 350h0M878 261h0M954 303h0M876 268h0M888 265h0M1003 344h0M984 331h0M830 251h0M946 335h0M952 323h0M983 355h0M965 324h0M927 318h0M1000 355h0M991 353h0M871 256h0M840 241h0M980 321h0M827 244h0M871 285h0M917 320h0M852 258h0M819 249h0M853 261h0M947 313h0M986 355h0M902 283h0M976 329h0M997 339h0M893 288h0M938 333h0M928 288h0M812 228h0M937 297h0M955 332h0M895 278h0M992 362h0M943 297h0M950 311h0M974 333h0M808 237h0M887 295h0M902 285h0M960 310h0M944 297h0M974 343h0M965 325h0M842 255h0M992 336h0M879 284h0M840 238h0M911 319h0M994 335h0M929 321h0M842 242h0M961 347h0M908 286h0M833 243h0M928 316h0M847 239h0M935 335h0M914 311h0M934 298h0M995 346h0M871 286h0M938 311h0M908 303h0M836 243h0M892 291h0M958 325h0M818 243h0M908 306h0M945 306h0M930 324h0M915 295h0M840 248h0M977 329h0M884 281h0M923 295h0M962 339h0M987 328h0M904 287h0M838 235h0M932 320h0M943 332h0M988 338h0M990 326h0M927 305h0M1000 340h0M853 259h0M961 325h0M909 300h0M920 307h0M964 330h0M823 251h0M975 360h0M817 246h0M937 310h0M898 300h0M934 292h0M852 257h0M945 336h0M875 275h0M861 271h0M960 348h0M968 325h0M883 268h0M846 250h0M871 285h0M928 324h0M944 299h0M967 331h0M966 327h0M983 358h0M969 320h0M935 317h0M915 287h0M898 306h0M873 275h0M893 272h0M940 317h0M932 326h0M938 291h0M858 269h0M875 264h0M917 310h0M969 350h0M872 280h0M849 263h0M897 308h0M959 314h0M852 255h0M856 265h0M928 323h0M898 286h0M901 311h0M833 238h0M932 331h0M894 271h0M936 298h0M946 328h0M998 361h0M856 274h0M1007 347h0M900 296h0M889 267h0M945 331h0M836 252h0M957 326h0M972 339h0M935 295h0M957 348h0M956 337h0M967 343h0M841 261h0M857 260h0M911 290h0M909 319h0M902 311h0M889 268h0M973 332h0M893 295h0M966 309h0M833 262h0M855 254h0M976 317h0M990 339h0M956 306h0M914 303h0M912 312h0M909 306h0M980 327h0M835 260h0M921 308h0M965 332h0M836 262h0M937 295h0M918 302h0M823 251h0M990 328h0M975 340h0M980 343h0M862 281h0M834 260h0M861 276h0M951 335h0M872 271h0M828 239h0M900 304h0M947 340h0M898 277h0M999 361h0M898 290h0M888 306h0M909 302h0M887 298h0M893 272h0M996 338h0M844 254h0M847 271h0M924 309h0M887 281h0M831 258h0M987 326h0M885 281h0M846 247h0M879 278h0M931 317h0M892 276h0M959 333h0M868 271h0M858 250h0M929 318h0M971 335h0M999 335h0M1001 351h0M968 343h0M965 353h0M898 276h0M848 256h0M835 233h0M989 358h0M843 260h0M809 241h0M839 263h0M994 359h0M822 234h0M829 247h0M874 276h0M802 232h0M905 288h0M908 295h0M948 306h0M968 319h0M907 312h0M924 301h0M900 306h0M925 313h0M911 303h0M872 285h0M927 305h0M884 297h0M985 335h0M904 273h0M905 277h0M921 304h0M806 241h0M901 287h0M920 316h0M920 317h0M922 319h0M896 311h0M894 298h0M956 330h0M944 338h0M972 345h0M937 307h0M838 248h0M908 318h0M869 264h0M967 337h0M956 319h0M905 277h0M935 304h0M932 309h0M900 277h0M932 288h0M859 260h0M987 352h0M927 322h0M869 256h0M982 330h0M890 280h0M902 305h0M955 333h0M954 328h0M838 240h0M978 350h0M881 270h0M958 326h0M930 327h0M978 325h0M965 331h0M883 272h0M949 317h0M864 274h0M821 236h0M808 229h0M872 274h0M874 268h0M833 257h0M878 293h0M873 280h0M990 334h0M844 268h0M921 317h0M984 332h0M940 335h0M958 327h0M897 283h0M842 264h0M940 295h0M973 323h0M975 346h0M830 249h0M955 322h0M841 244h0M961 322h0M824 252h0M939 296h0M806 238h0M874 260h0M879 271h0M920 323h0M862 254h0M853 275h0M973 337h0M988 345h0M910 309h0M858 265h0M944 326h0M876 265h0M834 240h0M935 317h0M985 335h0M874 289h0M822 244h0M933 314h0M920 313h0M988 333h0M807 234h0M898 317h0M923 327h0M901 298h0M971 317h0M971 315h0M873 269h0M919 297h0M829 255h0M870 270h0M891 306h0M1004 352h0M989 347h0M942 326h0M1003 355h0M986 351h0M942 332h0M827 243h0M846 251h0M994 347h0M983 327h0M899 293h0M895 271h0M940 305h0M882 274h0M950 313h0M873 284h0M969 331h0M865 285h0M972 334h0M947 323h0M881 262h0M864 261h0M827 259h0M949 321h0M995 339h0M877 261h0M884 274h0M961 321h0M930 325h0M950 321h0M991 343h0M840 256h0M921 300h0M936 333h0M997 354h0M870 262h0M933 301h0M865 248h0M855 250h0M845 238h0M952 338h0M952 317h0M942 335h0M832 243h0M829 254h0M872 293h0M828 236h0M889 282h0M969 309h0M808 230h0M921 318h0M961 347h0M922 287h0M856 243h0M976 328h0M995 363h0M840 242h0M813 245h0M978 334h0M985 321h0M820 256h0M970 338h0M877 283h0M979 328h0M934 317h0M836 240h0M884 284h0M960 334h0M929 330h0M873 279h0M968 317h0M915 320h0M900 299h0M961 337h0M814 231h0M952 312h0M897 298h0M861 275h0M932 299h0M852 251h0M882 260h0M817 241h0M946 315h0M974 317h0M909 288h0M895 296h0M855 267h0M1005 355h0M917 286h0M949 313h0M885 299h0M889 300h0M912 316h0M852 272h0M854 250h0M1011 354h0M829 251h0M883 267h0"/>
<path stroke="#ef3338" stroke-width="2.8" d="M820 248h0M766 218h0M818 254h0M821 255h0M777 225h0M792 239h0M774 218h0M746 207h0M823 249h0M819 250h0M796 237h0M755 209h0M815 252h0M777 225h0M796 245h0M794 237h0M764 213h0M777 220h0M819 250h0M824 256h0M815 246h0M806 243h0M806 246h0M761 214h0M827 256h0M797 242h0M783 228h0M754 211h0M794 239h0M786 231h0M798 236h0M771 218h0M823 253h0M818 246h0M797 236h0M744 211h0M786 232h0M820 252h0M752 209h0M838 262h0M794 235h0M774 220h0M843 266h0M793 238h0M750 215h0M767 214h0M798 239h0M777 234h0M746 213h0M843 260h0M743 208h0M806 246h0M814 248h0M768 222h0M834 259h0M796 239h0M797 232h0M837 264h0M778 224h0M844 264h0M756 221h0M811 245h0M805 241h0M750 204h0M748 209h0M744 203h0M815 254h0M789 238h0M770 222h0M756 211h0M759 217h0M808 245h0M783 231h0M765 224h0M785 224h0M764 216h0M798 244h0M745 208h0M750 203h0M774 230h0M801 240h0M823 252h0M784 232h0M796 239h0M767 219h0M743 209h0M772 217h0M784 232h0M825 253h0M752 211h0M828 258h0M772 225h0M842 262h0M772 224h0M794 232h0M775 225h0M758 210h0M781 224h0M845 262h0M840 260h0M753 214h0M783 226h0M776 228h0M802 239h0M771 227h0M792 240h0M795 240h0M776 230h0M779 228h0M823 256h0M838 263h0M829 258h0M802 247h0M770 223h0M796 238h0M819 249h0M746 205h0M787 234h0M827 253h0M792 233h0M788 232h0M807 245h0M783 229h0M815 250h0M752 214h0M808 243h0M828 259h0M784 230h0M766 223h0M788 229h0M794 239h0M770 225h0M742 211h0M772 217h0M811 240h0M746 206h0M752 213h0M831 258h0M827 254h0M826 252h0M794 241h0M784 233h0M744 207h0M768 223h0M815 253h0M785 230h0M776 218h0M804 242h0M831 253h0M755 206h0M790 231h0M831 261h0M824 255h0M839 255h0M830 254h0M795 234h0M757 222h0M778 223h0M822 250h0M766 217h0M762 222h0M780 236h0M790 229h0M793 239h0M748 210h0M753 212h0M827 258h0M790 228h0M769 226h0M789 235h0M776 220h0M836 258h0M807 239h0M833 259h0M760 217h0M798 235h0M817 252h0M782 226h0M779 228h0M825 249h0M833 256h0M783 231h0M751 206h0M767 222h0M749 213h0M794 235h0M828 252h0M774 219h0M759 221h0M740 212h0M806 242h0M818 248h0M775 224h0M784 225h0M810 242h0M760 219h0M821 253h0M830 259h0M747 212h0M744 207h0M817 255h0M789 238h0M780 230h0M776 228h0M774 230h0M796 240h0M777 221h0M744 209h0M831 260h0M778 230h0M791 240h0M798 241h0M806 238h0M749 209h0M739 209h0M828 258h0M781 231h0M767 223h0M838 261h0M767 214h0M823 255h0M830 255h0M817 247h0M753 205h0M763 221h0M767 223h0M776 222h0M740 202h0M755 218h0M741 203h0M814 247h0M802 238h0M784 230h0M829 256h0M804 241h0M758 213h0M821 255h0M835 255h0M752 216h0M823 254h0M844 264h0M758 213h0M762 218h0M818 251h0M744 203h0M795 235h0M833 261h0M767 225h0M783 225h0M759 222h0M769 226h0M767 220h0M767 218h0M825 255h0M840 257h0M751 218h0M788 234h0M739 209h0M778 228h0M759 218h0M780 227h0M763 222h0M831 259h0M790 232h0M786 228h0M784 227h0M751 212h0M754 208h0M824 247h0M760 222h0"/>
<path stroke="#2eb848" stroke-width="2.8" d="M774 235h0M822 266h0M747 218h0M739 211h0M789 245h0M756 224h0M804 257h0M801 254h0M784 244h0M812 260h0M788 244h0M767 231h0M799 252h0M753 222h0M784 242h0M823 268h0M801 256h0M812 262h0M818 264h0M784 240h0M787 243h0M779 241h0M818 266h0M801 253h0M801 254h0M781 241h0M757 225h0M783 242h0M762 229h0M820 265h0M763 230h0M782 241h0M751 221h0M799 253h0M808 257h0M810 258h0M798 252h0M740 212h0M788 245h0M762 227h0M804 254h0M779 238h0M821 268h0M746 218h0M792 246h0M762 229h0M816 264h0M764 230h0M792 247h0M803 255h0M807 258h0M776 235h0M764 230h0M785 244h0M809 259h0M780 240h0M766 232h0M798 253h0M820 265h0M743 214h0M769 231h0M797 251h0M796 252h0M817 264h0M821 268h0M744 216h0M773 236h0M766 231h0M797 251h0M748 218h0M747 220h0M809 261h0M807 260h0M784 245h0M793 249h0M777 236h0M742 212h0M771 235h0M820 269h0M798 253h0M785 246h0M814 263h0M766 231h0M759 225h0M802 257h0M799 255h0M820 266h0M794 250h0M780 239h0M821 268h0M767 231h0M821 268h0M746 217h0M747 219h0M819 268h0M759 227h0M758 225h0M813 261h0M760 227h0M753 222h0M793 245h0M756 224h0M794 251h0M759 226h0M814 260h0M778 238h0M819 263h0M742 217h0M821 268h0M744 215h0M800 255h0M776 240h0M740 214h0M800 253h0M789 248h0M813 261h0M779 239h0M766 231h0M773 234h0M791 248h0M741 213h0M796 249h0M804 257h0M820 268h0M807 260h0M811 262h0M760 227h0M773 235h0M759 226h0M767 233h0"/>
<path stroke="#2eb848" stroke-width="2.8" d="M834 276h0M832 276h0M828 271h0M841 281h0M841 279h0M839 282h0M833 275h0M829 273h0M851 290h0M841 282h0M854 289h0M848 287h0M835 275h0M827 272h0"/>
<path stroke="#3e58ac" stroke-width="2.8" d="M890 225h0M886 160h0M1020 255h0M934 212h0M859 164h0M861 236h0M882 231h0M943 241h0M859 174h0M854 114h0M962 228h0M866 127h0M897 156h0M872 159h0M934 203h0M878 215h0M892 198h0M1017 274h0M845 114h0M863 125h0M944 219h0M931 195h0M922 174h0M865 159h0M864 220h0M848 225h0M933 180h0M844 187h0M1006 224h0M941 262h0M856 214h0M951 259h0M922 179h0M1077 294h0M843 218h0M868 185h0M864 206h0M927 231h0M869 234h0M945 152h0M960 232h0M951 221h0M900 210h0M902 170h0M942 195h0M894 121h0M939 242h0M845 169h0M848 226h0M890 213h0M944 164h0M856 169h0M930 173h0M949 189h0M905 200h0M912 180h0M854 241h0M944 210h0M1033 264h0M900 208h0M854 235h0M930 175h0M875 201h0M872 182h0M920 201h0M840 178h0M911 134h0M889 248h0M860 241h0M858 228h0M842 116h0M878 187h0M851 183h0M958 232h0M924 194h0M916 217h0M919 239h0M855 157h0M846 113h0M843 207h0M890 229h0M912 218h0M942 202h0M927 208h0M942 189h0M957 225h0M937 183h0M944 178h0M938 189h0M925 169h0M868 246h0M885 210h0M902 169h0M856 145h0M843 250h0M945 190h0M955 197h0M998 264h0M928 210h0M862 163h0M862 173h0M934 214h0M854 198h0M843 216h0M1019 236h0M895 222h0M848 199h0M859 144h0M965 219h0M1002 254h0M912 195h0M883 155h0M841 210h0M926 155h0M1073 298h0M912 162h0M847 164h0M839 233h0M923 238h0M846 206h0M970 203h0M946 201h0M957 219h0M856 169h0M935 215h0M875 230h0M897 181h0M884 203h0M863 187h0M912 233h0M878 185h0M854 227h0M934 232h0M881 136h0M1001 277h0M902 231h0M860 238h0M969 178h0M909 244h0M874 153h0M920 231h0M899 186h0M929 179h0M952 237h0M974 280h0M889 250h0M838 208h0M932 191h0M960 240h0M872 153h0M866 214h0M873 249h0M945 190h0M872 187h0M919 245h0M905 158h0M961 195h0M877 171h0M892 207h0M940 224h0M887 167h0M895 205h0M963 207h0M884 225h0M886 227h0M905 167h0M963 236h0M859 190h0M843 198h0M882 246h0M844 143h0M874 253h0M880 207h0M843 250h0M848 228h0M964 222h0M859 184h0M847 159h0M842 249h0M942 212h0M924 246h0M933 227h0M933 196h0M933 227h0M928 176h0M983 217h0M864 156h0M903 158h0M1023 280h0M952 209h0M959 181h0M975 220h0M875 149h0M860 183h0M921 239h0M955 194h0M939 225h0M862 233h0M1033 257h0M909 223h0M963 201h0M885 246h0M956 242h0M963 234h0M893 235h0M1059 295h0M937 168h0M881 214h0M884 246h0M906 167h0M886 134h0M910 244h0M941 237h0M854 205h0M912 218h0M901 201h0M870 181h0M900 244h0M913 209h0M928 222h0M867 201h0M905 156h0M948 200h0M998 231h0M915 242h0M846 155h0M965 209h0M932 149h0M926 186h0M984 242h0M876 201h0M847 209h0M948 208h0M1052 282h0M902 155h0M883 230h0M890 250h0M892 225h0M911 209h0M890 226h0M852 247h0M878 138h0M858 226h0M944 257h0M859 133h0M956 196h0M902 125h0M861 138h0M868 238h0M848 170h0M903 231h0M859 164h0M901 183h0M920 189h0M966 261h0M853 215h0M1072 307h0M916 212h0M923 137h0M876 199h0M871 187h0M972 233h0M907 247h0M935 172h0M947 162h0M893 232h0M1066 288h0M870 173h0M905 195h0M854 147h0M858 205h0M879 246h0M839 228h0M961 203h0M854 119h0M866 168h0M878 147h0M967 269h0M957 235h0M842 221h0M872 232h0M899 242h0M902 191h0M867 194h0M974 200h0M959 205h0M876 192h0M920 184h0M901 202h0M956 192h0M941 209h0M955 224h0M893 175h0M917 222h0M950 226h0M926 243h0M931 260h0M995 228h0M900 235h0M893 202h0M920 198h0M909 191h0M858 195h0M957 242h0M892 175h0M907 188h0M937 147h0M884 202h0M875 242h0M952 230h0M906 224h0M873 247h0M920 226h0M979 241h0M912 232h0M888 217h0M939 234h0M962 264h0M848 126h0M921 151h0M961 178h0M871 236h0M1039 300h0M850 192h0M883 141h0M922 223h0M877 227h0M897 211h0M887 206h0M934 211h0M1035 247h0M881 153h0M920 241h0M960 196h0M935 203h0M939 223h0M931 161h0M888 192h0M876 181h0M855 245h0M946 224h0M879 150h0M971 221h0M853 119h0M856 202h0M886 241h0M882 156h0M1017 224h0M1032 243h0M887 184h0M916 133h0M1030 262h0M869 242h0M965 259h0M843 186h0M922 231h0M1036 294h0M919 249h0M885 146h0M926 213h0M863 176h0M1019 298h0M952 257h0M850 186h0M896 244h0M874 228h0M948 260h0M880 179h0M888 182h0M840 228h0M885 238h0M869 153h0M943 253h0M891 148h0M955 258h0M841 209h0M902 173h0M882 199h0M887 221h0M880 148h0M881 224h0M882 165h0M897 163h0M867 105h0M931 174h0M1060 305h0M909 231h0M935 221h0M942 186h0M848 229h0M934 215h0M860 150h0M856 214h0M952 196h0M988 275h0M869 213h0M1067 280h0M890 221h0M878 237h0M943 162h0M1059 306h0M934 196h0M929 146h0M991 224h0M920 212h0M863 174h0M847 105h0M906 144h0M855 183h0M879 176h0M844 213h0M880 213h0M925 246h0M979 261h0M867 203h0M939 239h0M887 163h0M910 249h0M963 222h0M875 164h0M968 212h0M899 177h0M885 233h0M861 235h0M921 221h0M946 163h0M875 231h0M906 179h0M925 228h0M927 189h0M877 144h0M875 223h0M900 224h0M877 214h0M878 245h0M862 156h0M1020 255h0M986 204h0M912 240h0M889 175h0M886 190h0M1045 264h0M881 200h0M916 222h0M952 214h0M889 170h0M890 141h0M967 186h0M929 199h0M978 195h0M931 261h0M878 183h0M843 198h0M847 200h0M992 239h0M858 183h0M862 170h0M946 242h0M953 235h0M949 259h0M959 182h0M934 198h0M851 146h0M863 219h0M870 200h0M846 165h0M898 166h0M889 230h0M903 168h0M860 154h0M878 191h0M849 181h0M902 222h0M962 194h0M915 221h0M991 291h0M871 152h0M925 168h0M950 161h0M842 227h0M864 155h0M1068 293h0M993 224h0M938 205h0M921 218h0M875 218h0M1042 263h0M842 241h0M930 156h0M845 168h0M851 186h0M906 173h0M984 269h0M916 215h0M923 213h0M924 222h0M855 241h0M896 242h0M841 170h0M881 149h0M1039 261h0M1025 262h0M953 236h0M1052 291h0M940 202h0M859 231h0M893 251h0M858 205h0M889 204h0M864 187h0M901 182h0M955 276h0M878 209h0M899 233h0M882 135h0M923 161h0M898 206h0M966 187h0M909 216h0M947 249h0M932 151h0M960 231h0M966 220h0M969 262h0M851 104h0M893 209h0M914 219h0M883 231h0M906 191h0M951 196h0M912 162h0M900 244h0M918 169h0M910 193h0M918 204h0M889 187h0M864 235h0M899 167h0M944 195h0M968 254h0M882 214h0M928 229h0M959 195h0M847 153h0M908 227h0M953 207h0M848 172h0M864 208h0M891 218h0M894 201h0M928 179h0M854 244h0M923 228h0M905 209h0M982 223h0M917 169h0M919 175h0M852 191h0M848 210h0M917 180h0M840 247h0M909 248h0M907 154h0M847 234h0M942 161h0M1049 258h0M970 224h0M887 159h0M896 235h0M903 180h0M864 175h0M847 125h0M945 225h0M938 189h0M854 186h0M843 188h0M855 226h0M913 157h0M875 224h0M894 234h0M906 168h0M946 183h0M904 226h0M961 182h0M848 226h0M847 215h0M875 187h0M903 179h0M905 245h0M868 228h0M851 219h0M933 240h0M914 237h0M958 248h0M855 149h0M843 165h0M930 260h0M890 129h0M853 165h0M871 211h0M847 119h0M888 205h0M941 238h0M893 185h0M882 126h0M927 176h0M943 190h0M852 204h0M937 208h0M887 194h0M876 223h0M1019 234h0M929 220h0M893 205h0M971 175h0M903 141h0M971 235h0M860 241h0M960 190h0M856 238h0M860 201h0M925 171h0M1035 282h0M846 170h0M864 147h0M840 179h0M966 254h0M1043 291h0M946 159h0M841 190h0M903 162h0M840 144h0M912 223h0M935 243h0M890 187h0M944 218h0M952 230h0M867 201h0M841 250h0M868 177h0M894 175h0M937 202h0M929 219h0M892 242h0M893 209h0M892 186h0M943 196h0M898 194h0M947 220h0M946 209h0M845 223h0M844 194h0M920 168h0M985 279h0M933 190h0M954 224h0M882 163h0M935 215h0M849 171h0M861 188h0M937 211h0M921 189h0M952 190h0M915 248h0M869 230h0M890 160h0M911 243h0M869 130h0M953 183h0M887 126h0M863 137h0M874 196h0M901 182h0M917 177h0M917 258h0M951 231h0M841 194h0M915 229h0M949 256h0M849 244h0M882 148h0M867 199h0M905 220h0M862 133h0M938 176h0M848 118h0M966 205h0M918 246h0M859 201h0M959 178h0M910 199h0M864 151h0M868 109h0M950 206h0M894 150h0M893 181h0M893 127h0M901 123h0M910 175h0M860 173h0M857 158h0M881 234h0M868 191h0M924 239h0M898 198h0M928 154h0M949 208h0M893 191h0M880 207h0M880 193h0M987 211h0M965 175h0M956 182h0M941 195h0M935 174h0M992 255h0M846 131h0M876 190h0M983 240h0M937 175h0M855 232h0M898 154h0M895 191h0M840 224h0M932 210h0M852 165h0M958 190h0M1000 270h0M898 179h0M862 224h0M968 207h0M913 183h0M909 176h0M859 202h0M897 213h0M897 209h0M882 173h0M869 152h0M906 197h0M870 230h0M910 178h0M962 228h0M975 205h0M952 268h0M959 188h0M851 202h0M980 218h0M872 167h0M934 194h0M903 179h0M913 189h0M1030 282h0M900 221h0M868 210h0M848 165h0M954 199h0M939 196h0M912 229h0M846 187h0M909 172h0M935 179h0M861 191h0M895 181h0M893 165h0M1045 291h0M957 219h0M905 146h0M855 211h0M885 185h0M1013 254h0M974 224h0M844 193h0M897 214h0M892 245h0M911 209h0M895 223h0M887 241h0M863 226h0M845 154h0M916 236h0M894 204h0M872 250h0M884 182h0M881 243h0M860 214h0M935 174h0M1000 236h0M963 248h0M876 176h0M922 216h0M932 197h0M947 200h0M862 247h0M944 226h0M894 205h0M910 213h0M848 209h0M925 252h0M967 200h0M878 172h0M928 197h0M941 193h0M957 222h0M975 182h0M889 207h0M947 213h0M855 168h0M902 179h0M921 224h0M915 186h0M872 200h0M913 244h0M978 216h0M868 185h0M858 153h0M959 217h0M951 242h0M897 195h0M864 161h0M861 210h0M894 246h0M896 156h0M854 150h0M878 238h0M1011 267h0M925 162h0M966 259h0M853 165h0M869 151h0M962 232h0M851 193h0M886 136h0M923 251h0M884 231h0M864 183h0M976 217h0M922 193h0M888 168h0M901 182h0M890 168h0M933 231h0M957 244h0M900 139h0M888 164h0M842 189h0M917 145h0M993 278h0M887 223h0M854 227h0M854 213h0M945 206h0M915 183h0M941 238h0M927 251h0M917 232h0M901 180h0M891 214h0M868 235h0M874 153h0M849 171h0M847 180h0M1018 265h0M878 249h0M955 227h0M911 225h0M910 175h0M919 241h0M862 151h0M1033 282h0M883 201h0M869 247h0M911 168h0M917 235h0M963 216h0M890 234h0M902 152h0M900 143h0M886 211h0M878 165h0M1037 278h0M920 202h0M932 224h0M931 166h0M923 185h0M893 195h0M840 220h0M843 226h0M952 242h0M948 258h0M877 242h0M922 224h0M1028 265h0M923 172h0M843 221h0M979 245h0M894 213h0M928 170h0M952 193h0M914 151h0M877 190h0M957 241h0M894 171h0M1066 291h0M1021 272h0M987 201h0M902 232h0M842 200h0M909 195h0M870 202h0M884 125h0M877 192h0M907 235h0M959 211h0M889 201h0M953 222h0M861 237h0M1046 270h0M864 203h0M912 246h0M950 200h0M954 210h0M922 140h0M971 220h0M894 191h0M919 165h0M914 160h0M899 205h0M904 198h0M904 232h0M954 243h0M954 239h0M876 244h0M878 159h0M871 163h0M933 222h0M877 112h0M949 194h0M883 182h0M922 180h0M861 188h0M937 235h0M1043 269h0M892 183h0M906 197h0M903 214h0M906 229h0M964 251h0M971 259h0M911 133h0M856 152h0M910 236h0M856 180h0M884 248h0M839 207h0M845 123h0M886 206h0M896 239h0M917 223h0M894 218h0M890 232h0M878 152h0M967 233h0M855 227h0M972 232h0M850 184h0M840 208h0M901 237h0M941 213h0M868 214h0M844 208h0M1047 274h0M896 217h0M850 252h0M954 210h0M843 231h0M921 250h0M932 219h0M906 209h0M861 197h0M879 162h0M874 162h0M929 224h0M906 217h0M860 199h0M911 228h0M909 252h0M960 207h0M922 142h0M914 183h0M1050 258h0M930 216h0M909 179h0M870 171h0M869 129h0M955 187h0M869 245h0M1038 279h0M850 232h0M870 168h0M960 223h0M925 214h0M856 226h0M865 209h0M842 204h0M889 208h0M841 212h0M987 268h0M846 164h0M898 255h0M910 190h0M949 204h0M908 207h0M875 168h0M948 267h0M956 256h0M941 180h0M894 245h0M921 237h0M969 212h0M924 159h0M858 241h0M865 213h0M893 221h0M1018 228h0M938 236h0M912 177h0M875 158h0M874 228h0M938 229h0M892 229h0M1039 240h0M919 209h0M843 173h0M851 185h0M955 212h0M1018 296h0M943 193h0M876 221h0M964 171h0M851 236h0M937 213h0M941 178h0M919 226h0M961 223h0M855 231h0M909 247h0M938 151h0M887 224h0M887 196h0M863 127h0M859 184h0M856 231h0M955 177h0M861 226h0M867 164h0M866 146h0M896 239h0M842 206h0M889 166h0M845 164h0M928 196h0M1001 245h0M889 210h0M914 178h0M878 189h0M1016 256h0M929 259h0M916 194h0M873 139h0M849 124h0M863 225h0M908 202h0M901 230h0M945 193h0M906 211h0M937 199h0M871 161h0M845 233h0M922 229h0M895 167h0M940 217h0M909 238h0M879 199h0M860 207h0M884 245h0M897 197h0M897 210h0M908 204h0M941 171h0M960 229h0M956 263h0M844 214h0M858 178h0M901 134h0M937 192h0M963 216h0M874 169h0M903 218h0M902 160h0M889 217h0M930 197h0M883 241h0M836 235h0M947 214h0M940 240h0M920 221h0M960 237h0M873 216h0M902 228h0M929 178h0M948 193h0M912 189h0M884 166h0M894 232h0M899 214h0M939 185h0M960 172h0M853 175h0M911 238h0M866 155h0M919 168h0M868 122h0M881 208h0M884 158h0M972 238h0M919 208h0M911 231h0M959 251h0M870 251h0M927 229h0M952 225h0M947 238h0M857 182h0M866 239h0M976 255h0M846 185h0M911 223h0M961 234h0M847 150h0M887 189h0M950 223h0M1014 266h0M895 161h0M948 209h0M853 172h0M841 173h0M935 144h0M1075 285h0M879 243h0M1052 275h0M857 185h0M921 195h0M936 198h0M894 199h0M852 247h0M879 159h0M872 133h0M975 205h0M842 216h0M998 243h0M978 236h0M887 172h0M852 157h0M932 161h0M1006 267h0M944 189h0M1014 287h0M881 192h0M853 140h0M907 153h0M847 202h0M882 180h0M1046 272h0M906 156h0M960 236h0M926 245h0M859 228h0M872 247h0M917 171h0M932 243h0M853 239h0M925 211h0M876 223h0M851 224h0M871 232h0M859 206h0M960 224h0M866 199h0M868 107h0M955 181h0M858 247h0M869 172h0M870 160h0M937 238h0M937 217h0M1016 222h0M897 127h0M894 170h0M894 236h0M949 257h0M946 182h0M959 234h0M918 247h0M872 238h0M849 167h0M897 179h0M918 239h0M847 175h0M935 185h0M872 164h0M958 250h0M932 147h0M943 211h0M960 195h0M849 240h0M904 142h0M877 170h0M990 260h0M844 177h0M945 246h0M871 161h0M992 226h0M843 209h0M977 229h0M854 198h0M949 254h0M1053 276h0M1036 254h0M870 249h0M894 158h0M926 224h0M924 243h0M884 243h0M898 161h0M955 256h0M958 245h0M964 204h0M1055 287h0M909 208h0M897 174h0M875 239h0M927 241h0M900 183h0M1006 294h0M923 199h0M865 187h0M924 198h0M906 209h0M967 203h0M848 124h0M1014 250h0M843 168h0M940 188h0M842 234h0M881 253h0M876 250h0M953 261h0M839 131h0M958 266h0M921 254h0M864 211h0M953 191h0M910 255h0M839 189h0M959 245h0M842 185h0M944 193h0M852 209h0M903 172h0M885 176h0M905 223h0M946 173h0M950 192h0M1071 292h0M865 233h0M927 183h0M900 245h0M858 224h0M874 164h0M891 213h0M856 244h0M948 184h0M983 234h0M891 144h0M881 242h0M885 242h0M869 232h0M851 183h0M959 191h0M848 247h0M940 227h0M956 197h0M901 171h0M925 255h0M877 165h0M950 220h0M851 242h0M872 189h0M853 155h0M947 209h0M1045 259h0M1002 277h0M891 201h0M878 163h0M868 202h0M893 191h0M928 182h0M888 175h0M959 252h0M1066 283h0M842 241h0M911 155h0M923 200h0M937 201h0M870 189h0M874 234h0M856 174h0M960 197h0M944 254h0M916 238h0M842 130h0M901 184h0M909 204h0M881 244h0M948 185h0M887 219h0M1003 247h0M964 230h0M849 235h0M860 131h0M858 164h0M1040 262h0M911 204h0M894 158h0M893 225h0M967 224h0M856 148h0M861 167h0M1025 238h0M871 202h0M897 250h0M846 173h0M901 233h0M1022 243h0M979 204h0M913 187h0M992 281h0M876 241h0M889 179h0M1041 264h0M930 209h0M932 242h0M961 247h0M849 213h0M886 194h0M878 156h0M960 207h0M1022 247h0M844 135h0M965 207h0M860 244h0M871 224h0M866 237h0M846 223h0M858 249h0M851 140h0M903 190h0M866 140h0M908 235h0M957 264h0M857 105h0M847 246h0M941 151h0M901 210h0M926 164h0M989 256h0M1067 277h0M892 201h0M1007 270h0M913 228h0M967 202h0M993 244h0M845 225h0M958 249h0M928 203h0M872 236h0M859 232h0M907 162h0M857 147h0M850 251h0M870 111h0M913 212h0M943 238h0M957 221h0M876 176h0M887 213h0M893 124h0M846 176h0M997 232h0M885 251h0M872 203h0M928 223h0M880 229h0M1008 236h0M877 177h0M974 229h0M943 262h0M926 193h0M879 182h0M892 129h0M909 145h0M992 236h0M1030 250h0M1035 266h0M883 246h0M957 243h0M930 169h0M858 198h0M867 245h0M964 233h0M863 133h0M1019 271h0M906 185h0M904 188h0M925 172h0M914 230h0M891 153h0M908 199h0M1012 235h0M847 236h0M850 176h0M932 201h0M895 182h0M913 173h0M893 202h0M911 237h0M867 221h0M953 204h0M886 181h0M963 220h0M842 241h0M989 221h0M878 158h0M872 115h0M921 204h0M904 191h0M885 159h0M889 170h0M958 173h0M931 236h0M875 223h0M865 164h0M924 156h0M891 160h0M902 201h0M944 152h0M945 221h0M950 197h0M948 191h0M962 208h0M908 150h0M958 246h0M927 248h0M856 227h0M932 162h0M931 190h0M919 248h0M954 235h0M890 176h0M994 254h0M884 224h0M853 125h0M931 198h0M863 210h0M916 164h0M857 182h0M878 235h0M888 225h0M903 128h0M857 192h0M865 250h0M865 185h0M842 216h0M932 219h0M844 203h0M884 180h0M858 170h0M947 166h0M953 184h0M910 253h0M862 233h0M916 153h0M960 261h0M904 211h0M844 228h0M1057 288h0M957 248h0M981 199h0M960 207h0M910 143h0M853 187h0M925 174h0M911 170h0M981 253h0M874 217h0M847 192h0M971 210h0M945 185h0M928 219h0M919 193h0M910 187h0M960 213h0M917 188h0M858 234h0M849 199h0M885 128h0M860 162h0M905 251h0M947 194h0M847 175h0M934 252h0M854 110h0M898 190h0M901 178h0M855 213h0M877 189h0M863 173h0M866 214h0M1041 248h0M958 223h0M950 213h0M931 237h0M922 168h0M940 239h0M860 233h0M867 154h0M888 155h0M860 188h0M839 210h0M936 243h0M938 263h0M894 211h0M1024 262h0M868 235h0M871 203h0M969 261h0M943 213h0M884 159h0M910 150h0M865 178h0M1012 220h0M942 219h0M873 143h0M961 255h0M934 158h0M869 240h0M874 203h0M956 204h0M939 149h0M936 195h0M892 228h0M846 182h0M955 237h0M917 200h0M917 187h0M907 148h0M879 152h0M909 223h0M881 183h0M911 251h0M848 252h0M856 166h0M878 209h0M870 122h0M1036 268h0M870 116h0M919 158h0M893 172h0M875 249h0M1011 271h0M928 181h0M935 225h0M867 193h0M965 186h0M868 240h0M965 256h0M877 226h0M984 254h0M918 137h0M880 232h0M842 241h0M917 246h0M875 238h0M848 159h0M874 209h0M843 226h0M913 186h0M839 168h0M884 248h0M843 181h0M990 280h0M890 191h0M924 184h0M906 250h0M851 235h0M996 250h0M1063 290h0M879 254h0M960 177h0M1044 287h0M969 186h0M867 173h0M954 206h0M959 205h0M1045 283h0M871 254h0M921 244h0M990 225h0M865 155h0M894 218h0M977 243h0M907 169h0M924 231h0M877 236h0M924 254h0M964 247h0M904 240h0M864 227h0M942 210h0M947 237h0M946 239h0M886 158h0M912 187h0M883 178h0M883 215h0M873 215h0M902 184h0M891 156h0M853 238h0M938 193h0M918 160h0M933 186h0M934 177h0M962 181h0M852 206h0M909 190h0M968 223h0M880 173h0M931 196h0M896 237h0M910 238h0M919 248h0M906 187h0M941 221h0M959 227h0M945 180h0M845 228h0M923 240h0M847 215h0M923 253h0M968 243h0M844 238h0M879 199h0M972 243h0M908 177h0M904 201h0M917 175h0M1053 280h0M976 191h0M893 236h0M872 167h0M863 149h0M981 247h0M941 177h0M925 232h0M847 175h0M849 165h0M912 198h0M907 166h0M840 179h0M851 250h0M913 213h0M1030 264h0M846 198h0M841 187h0M850 233h0M940 208h0M890 182h0M971 234h0M872 244h0M909 239h0M840 220h0M890 204h0M957 182h0M1034 285h0M874 233h0M953 258h0M976 215h0M897 213h0M958 204h0M1044 265h0M909 241h0M976 270h0M883 175h0M994 225h0M936 178h0M919 237h0M884 117h0M838 244h0M887 184h0M868 218h0M920 244h0M936 251h0M861 162h0M962 262h0M912 246h0M888 210h0M881 183h0M904 148h0M854 243h0M922 232h0M880 198h0M957 214h0M841 182h0M876 186h0M881 157h0M978 196h0M934 171h0M956 250h0M977 236h0M890 221h0M896 207h0M929 196h0M883 188h0M904 238h0M891 246h0M886 197h0M926 237h0M898 198h0M939 194h0M938 215h0M843 239h0M1017 252h0M945 230h0M1003 245h0M928 198h0M935 204h0M878 202h0M884 206h0M870 224h0M1065 294h0M889 166h0M935 220h0M909 201h0M944 240h0M951 256h0M845 166h0M1036 276h0M858 208h0M1018 275h0M952 226h0M844 116h0M886 168h0M938 171h0M898 249h0M944 241h0M899 191h0M847 166h0M933 207h0M850 162h0M886 179h0M929 230h0M1009 245h0M843 169h0M920 165h0M912 216h0M945 256h0M915 198h0M901 181h0M911 179h0M870 220h0M874 203h0M846 144h0M941 212h0M855 139h0M937 193h0M913 170h0M959 205h0M865 238h0M860 192h0M939 175h0M935 200h0M937 200h0M858 163h0M904 215h0M852 244h0M916 190h0M889 118h0M891 179h0M857 240h0M896 129h0M907 240h0M911 252h0M848 191h0M910 150h0M972 231h0M851 240h0M862 213h0M912 241h0M915 199h0M908 243h0M948 196h0M897 193h0M880 213h0M840 227h0M862 178h0M924 212h0M910 176h0M861 124h0M905 153h0M878 191h0M966 211h0M863 194h0M1061 291h0M846 195h0M886 192h0M930 198h0M844 214h0M844 185h0M915 222h0M944 246h0M854 249h0M868 176h0M901 186h0M861 179h0M848 242h0M892 160h0M915 218h0M888 237h0M1055 302h0M907 211h0M900 232h0M866 149h0M900 223h0M953 170h0M930 240h0M916 223h0M922 202h0M931 185h0M921 185h0M988 246h0M931 174h0M866 184h0M920 213h0M855 155h0M1019 256h0M980 231h0M930 209h0M909 205h0M909 219h0M930 215h0M943 203h0M869 160h0M1036 291h0M844 112h0M863 241h0M888 181h0M908 209h0M928 216h0M931 179h0M889 152h0M941 215h0M1053 279h0M854 218h0M872 225h0M907 235h0M911 242h0M921 211h0M883 160h0M849 194h0M907 183h0M959 267h0M956 248h0M888 157h0M886 233h0M910 252h0M877 182h0M951 246h0M920 255h0M949 180h0M859 224h0M923 142h0M899 206h0M887 205h0M864 187h0M927 217h0M846 236h0M890 254h0M864 182h0M939 226h0M909 216h0M907 223h0M948 176h0M900 194h0M962 210h0M959 220h0M874 198h0M899 161h0M844 182h0M912 219h0M951 223h0M899 165h0M864 241h0M876 228h0M871 212h0M883 214h0M947 234h0M864 199h0M926 211h0M923 249h0M912 240h0M841 195h0M886 227h0M857 222h0M942 243h0M903 236h0M974 243h0M883 193h0M909 187h0M938 208h0M956 213h0M863 153h0M1019 262h0M853 179h0M1067 287h0M900 198h0M949 242h0M966 224h0M983 281h0M924 239h0M887 221h0M846 170h0M1065 283h0M857 200h0M934 202h0M881 130h0M849 245h0M911 163h0M879 202h0M894 197h0M959 256h0M882 187h0M905 195h0M889 203h0M930 237h0M911 191h0M930 224h0M941 181h0M846 196h0M878 229h0M853 217h0M874 218h0M954 209h0M970 244h0M862 169h0M918 172h0M953 204h0M865 188h0M977 236h0M933 206h0M887 154h0M868 213h0M905 248h0M937 191h0M869 108h0M949 199h0M852 232h0M941 182h0M1064 289h0M1033 299h0M849 223h0M900 171h0M892 180h0M897 223h0M858 243h0M1009 245h0M926 224h0M888 223h0M959 243h0M877 201h0M950 261h0M868 223h0M997 263h0M969 216h0M878 208h0M853 199h0M898 208h0M895 140h0M945 207h0M914 240h0M1034 266h0M931 220h0M854 249h0M953 221h0M924 212h0M848 198h0M885 193h0M865 228h0M883 196h0M990 240h0M916 189h0M931 259h0M978 249h0M955 222h0M947 203h0M910 209h0M848 194h0M846 201h0M987 257h0M921 192h0M893 222h0M884 162h0M859 140h0M953 256h0M854 169h0M863 147h0M946 202h0M889 224h0M913 202h0M954 196h0M911 170h0M993 200h0M946 201h0M937 208h0M896 219h0M968 193h0M941 199h0M904 240h0M877 211h0M1063 279h0M925 254h0M861 183h0M943 223h0M845 175h0M856 214h0M1049 306h0M948 180h0M908 161h0M844 212h0M972 216h0M939 209h0M861 207h0M882 235h0M932 259h0M898 215h0M906 172h0M855 237h0M860 252h0M873 247h0M896 248h0M866 156h0M903 239h0M951 238h0M934 164h0M879 118h0M932 224h0M935 193h0M857 177h0M951 189h0M939 218h0M871 170h0M927 190h0M900 167h0M852 221h0M881 243h0M949 207h0M1037 268h0M923 218h0M927 222h0M915 150h0M885 252h0M858 220h0M866 220h0M931 148h0M841 115h0M928 231h0M856 217h0M1009 217h0M907 205h0M845 190h0M1029 253h0M854 218h0M866 193h0M932 205h0M857 220h0M852 200h0M882 243h0M921 194h0M886 181h0M896 233h0M873 221h0M959 197h0M842 235h0M884 181h0M916 248h0M844 241h0M1000 253h0M853 248h0M964 232h0M873 197h0M859 235h0M850 214h0M853 149h0M931 212h0M928 243h0M862 183h0M944 201h0M943 174h0M858 194h0M870 237h0M893 172h0M883 247h0M851 188h0M862 226h0M949 214h0M935 220h0M943 184h0M845 225h0M1027 250h0M872 166h0M947 208h0M905 218h0M1037 250h0M905 240h0M890 202h0M963 248h0M861 167h0M907 170h0M1015 271h0M940 208h0M961 174h0M860 238h0M885 212h0M868 238h0M872 212h0M949 215h0M877 180h0M923 171h0M855 193h0M878 181h0M968 238h0M852 189h0M885 121h0M849 210h0M942 241h0M881 151h0M862 202h0M907 171h0M913 212h0M1059 277h0M858 217h0M934 197h0M889 197h0M873 198h0M860 219h0M864 235h0M901 209h0M949 195h0M854 185h0M924 199h0M965 235h0M929 208h0M894 253h0M952 239h0M966 180h0M914 231h0M868 194h0M921 237h0M846 229h0M952 185h0M935 217h0M884 213h0M855 166h0M955 214h0M860 226h0M847 209h0M1047 262h0M883 168h0M951 190h0M864 186h0M875 170h0M908 198h0M941 206h0M856 208h0M876 195h0M883 202h0M932 203h0M967 188h0M846 205h0M878 242h0M991 242h0M883 230h0M937 250h0M955 240h0M895 208h0M867 197h0M946 250h0M852 236h0M941 232h0M906 185h0M956 248h0M948 204h0M891 117h0M950 255h0M884 171h0M933 185h0M950 217h0M891 165h0M937 195h0M905 201h0M950 211h0M970 216h0M893 231h0M924 229h0M869 186h0M891 225h0M948 258h0M1025 292h0M914 184h0M1008 254h0M906 179h0M961 239h0M880 189h0M914 211h0M909 148h0M932 171h0M848 235h0M843 158h0M890 238h0M867 190h0M929 166h0M929 231h0M844 208h0M891 235h0M898 247h0M856 175h0M907 239h0M1036 270h0M935 166h0M843 194h0M876 227h0M905 206h0M867 166h0M925 230h0M845 241h0M934 250h0M949 199h0M875 251h0M962 215h0M986 239h0M962 195h0M843 128h0M1023 268h0M1016 225h0M855 231h0M915 235h0M916 199h0M847 201h0M895 240h0M895 210h0M925 252h0M948 225h0M950 213h0M914 233h0M879 166h0M987 250h0M948 188h0M1011 242h0M870 191h0M932 257h0M855 172h0M954 204h0M863 244h0M941 265h0M877 205h0M854 216h0M1073 288h0M892 227h0M859 175h0M863 215h0M902 136h0M940 204h0M878 167h0M853 205h0M901 164h0M924 197h0M916 156h0M868 166h0M927 144h0M1053 287h0M900 178h0M841 177h0M845 214h0M882 146h0M920 221h0M922 176h0M903 172h0M986 239h0M994 242h0M880 176h0M887 192h0M870 248h0M854 192h0M950 215h0M940 223h0M908 159h0M885 223h0M944 186h0M879 158h0M890 225h0M851 183h0M1010 225h0M1021 261h0M909 160h0M847 209h0M946 250h0M862 235h0M1038 300h0M898 171h0M872 221h0M894 229h0M881 247h0M912 219h0M946 198h0M853 225h0M923 162h0M887 178h0M884 196h0M925 163h0M993 231h0M925 207h0M893 139h0M919 180h0M880 215h0M867 107h0M952 206h0M1026 269h0M1051 256h0M866 216h0M920 224h0M858 114h0M896 169h0M893 240h0M853 227h0M924 201h0M906 185h0M885 251h0M875 159h0M853 189h0M883 254h0M1020 252h0M947 230h0M905 243h0M983 217h0M979 230h0M873 181h0M921 187h0M959 239h0M950 214h0M863 144h0M943 251h0M847 148h0M1053 296h0M935 200h0M909 228h0M964 252h0M863 189h0M934 199h0M875 205h0M956 187h0M915 132h0M859 246h0M945 208h0M848 215h0M1051 285h0M851 228h0M874 193h0M937 220h0M946 205h0M963 175h0M864 205h0M930 210h0M903 219h0M941 220h0M893 189h0M1013 221h0M856 162h0M843 242h0M956 208h0M973 214h0M934 237h0M882 178h0M845 246h0M895 235h0M1007 229h0M911 200h0M947 243h0M1001 247h0M1071 282h0M864 225h0M888 215h0M940 229h0M920 178h0M960 256h0M913 193h0M939 173h0M903 166h0M933 174h0M937 254h0M895 241h0M903 171h0M930 150h0M920 189h0M925 226h0M844 187h0M1047 290h0M878 160h0M873 213h0M917 240h0M915 218h0M959 190h0M895 227h0M849 192h0M884 237h0M871 184h0M890 190h0M924 240h0M891 217h0M870 221h0M952 266h0M899 243h0M929 179h0M960 237h0M930 190h0M885 193h0M898 197h0M956 162h0M867 193h0M904 179h0M956 200h0M919 183h0M938 170h0M923 186h0M917 253h0M871 184h0M881 126h0M900 171h0M881 236h0M910 234h0M887 148h0M948 198h0M949 265h0M877 189h0M910 226h0M924 209h0M963 237h0M900 174h0M895 244h0M966 216h0M924 223h0M904 163h0M866 218h0M890 186h0M1024 261h0M882 124h0M922 236h0M920 209h0M932 168h0M859 155h0M967 217h0M878 176h0M865 130h0M886 142h0M945 243h0M889 235h0M874 208h0M938 182h0M922 194h0M867 152h0M950 252h0M917 224h0M885 202h0M916 219h0M900 246h0M971 213h0M918 170h0M933 199h0M998 229h0M882 183h0M1053 270h0M867 172h0M908 225h0M959 214h0M934 206h0M866 164h0M921 159h0M917 161h0M847 218h0M882 250h0M936 218h0M952 222h0M858 238h0M900 170h0M874 222h0M956 273h0M895 221h0M929 176h0M944 172h0M928 146h0M850 153h0M888 198h0M966 222h0M954 248h0M900 226h0M916 169h0M1020 246h0M930 253h0M924 232h0M910 142h0M915 210h0M934 248h0M906 180h0M887 224h0M949 233h0M1021 257h0M838 184h0M997 254h0M935 181h0M956 179h0M841 185h0M917 240h0M887 227h0M907 211h0M856 148h0M861 247h0M922 174h0M900 217h0M1033 247h0M997 277h0M976 218h0M911 194h0M854 169h0M938 235h0M956 195h0M934 211h0M875 177h0M974 268h0M901 202h0M889 187h0M918 160h0M904 180h0M885 169h0M844 193h0M901 183h0M940 207h0M930 191h0M951 269h0M898 157h0M869 187h0M872 200h0M957 235h0M911 230h0M886 148h0M871 218h0M961 247h0M937 179h0M952 234h0M900 141h0M914 152h0M902 241h0M847 119h0M932 193h0M888 180h0M994 229h0M1026 240h0M930 187h0M925 212h0M937 193h0M903 198h0M928 180h0M936 238h0M894 229h0M863 144h0M1046 282h0M871 227h0M900 226h0M1037 246h0M887 187h0M929 223h0M931 262h0M881 116h0M857 174h0M865 178h0M905 205h0M919 240h0M872 128h0M903 183h0M912 190h0M890 249h0M861 209h0M864 217h0M865 226h0M922 224h0M934 190h0M948 201h0M915 230h0M913 165h0M855 234h0M888 188h0M936 200h0M909 130h0M881 153h0M862 236h0M843 186h0M974 194h0M887 198h0M943 261h0M1019 244h0M1055 274h0M1029 271h0M934 248h0M899 183h0M904 228h0M955 175h0M923 232h0M1057 262h0M861 177h0M843 125h0M878 196h0M886 250h0M1032 273h0M852 235h0M868 224h0M924 235h0M958 196h0M970 202h0M905 218h0M865 204h0M967 226h0M841 164h0M865 190h0M897 228h0M958 224h0M939 250h0M906 193h0M878 184h0M841 137h0M934 257h0M912 148h0M849 167h0M851 135h0M1027 266h0M949 219h0M849 198h0M923 171h0M947 256h0M856 215h0M946 201h0M930 236h0M906 129h0M893 167h0M881 173h0M896 204h0M861 136h0M868 234h0M866 189h0M915 177h0M901 160h0M910 175h0M922 196h0M888 213h0M949 206h0M951 258h0M907 192h0M926 237h0M859 187h0M874 204h0M860 252h0M903 171h0M877 233h0M880 222h0M880 247h0M875 158h0M878 187h0M875 218h0M860 214h0M1046 281h0M869 186h0M1000 259h0M838 244h0M931 177h0M949 181h0M907 142h0M873 236h0M948 180h0M853 215h0M840 217h0M857 229h0M883 150h0M953 257h0M971 252h0M881 157h0M944 215h0M901 220h0M1048 291h0M1067 283h0M895 246h0M876 231h0M873 192h0M955 222h0M924 138h0M861 219h0M917 173h0M898 216h0M878 144h0M1030 262h0M883 203h0M926 249h0M920 214h0M940 230h0M1018 277h0M945 219h0M881 174h0M848 156h0M839 115h0M932 150h0M853 187h0M921 175h0M893 181h0M928 168h0M867 148h0M893 180h0M879 137h0M859 220h0M925 253h0M929 215h0M892 165h0M960 255h0M1027 276h0M844 230h0M980 220h0M887 155h0M922 189h0M944 227h0M914 181h0M888 241h0M864 168h0M876 178h0M942 240h0M931 254h0M928 153h0M939 165h0M962 245h0M933 252h0M851 225h0M965 212h0M899 190h0M869 174h0M1041 249h0M886 170h0M893 232h0M1064 292h0M912 184h0M1064 283h0M916 203h0M863 155h0M873 181h0M988 228h0M848 197h0M964 216h0M885 208h0M864 187h0M907 199h0M944 211h0M882 205h0M965 205h0M906 238h0M894 211h0M856 206h0M942 239h0M855 148h0M861 204h0M873 224h0M914 164h0M903 225h0M905 226h0M958 250h0M845 158h0M865 114h0M949 224h0M1001 256h0M844 162h0M912 143h0M900 226h0M865 182h0M883 158h0M856 177h0M903 228h0M927 181h0M850 213h0M873 197h0M912 234h0M945 195h0M881 198h0M849 214h0M853 181h0M873 211h0M1031 246h0M918 243h0M926 248h0M873 240h0M972 243h0M931 209h0M1029 237h0M872 219h0M858 163h0M916 152h0M918 249h0M892 161h0M937 228h0M852 227h0M972 180h0M936 222h0M873 196h0M858 176h0M855 192h0M918 188h0M910 171h0M872 221h0M943 193h0M868 222h0M914 202h0M931 173h0M966 225h0M862 208h0M909 142h0M877 117h0M888 240h0M906 226h0M904 189h0M842 134h0M950 248h0M962 260h0M896 253h0M840 180h0M987 238h0M952 212h0M934 220h0M954 224h0M936 199h0M967 269h0M1054 290h0M892 217h0M1060 290h0M886 135h0M896 227h0M880 230h0M847 222h0M1044 289h0M946 262h0M951 232h0M901 178h0M854 166h0M925 202h0M880 181h0M951 246h0M975 222h0M931 215h0M956 211h0M932 187h0M919 236h0M862 204h0M891 212h0M907 223h0M929 256h0M992 219h0M882 247h0M905 213h0M884 180h0M848 180h0M947 235h0M939 211h0M934 214h0M946 167h0M910 237h0M899 234h0M1019 267h0M851 237h0M929 230h0M901 153h0M908 194h0M857 161h0M930 148h0M945 222h0M877 173h0M912 169h0M885 231h0M910 231h0M965 222h0M924 165h0M852 214h0M943 201h0M934 159h0M909 155h0M901 235h0M927 214h0M910 187h0M863 166h0M866 195h0M871 218h0M863 106h0M840 136h0M848 213h0M882 207h0M921 172h0M855 141h0M845 243h0M924 172h0M851 181h0M872 221h0M860 200h0M879 178h0M851 212h0M961 189h0M878 174h0M1034 251h0M867 179h0M912 210h0M966 194h0M917 197h0M883 229h0M918 248h0M922 218h0M847 223h0M951 264h0M882 201h0M928 202h0M1017 287h0M841 224h0M902 236h0M940 235h0M885 211h0M941 224h0M905 140h0M877 110h0M853 143h0M965 265h0M890 252h0M874 152h0M899 219h0M943 217h0M1074 306h0M926 185h0M908 157h0M1001 253h0M873 219h0M869 214h0M893 159h0M861 197h0M982 248h0M955 241h0M918 181h0M1058 280h0M867 230h0M947 234h0M876 239h0M928 221h0M926 215h0M952 218h0M891 168h0M877 202h0M974 212h0M936 222h0M966 251h0M933 176h0M921 203h0M921 144h0M871 211h0M934 195h0M964 244h0M841 211h0M959 245h0M919 224h0M923 192h0M925 245h0M932 210h0M900 188h0M891 243h0M846 180h0M846 203h0M911 247h0M915 209h0M847 204h0M881 162h0M879 116h0M893 212h0M968 217h0M929 231h0M990 234h0M931 244h0M989 262h0M846 137h0M889 240h0M867 246h0M881 219h0M933 252h0M968 202h0M879 146h0M931 194h0M889 218h0M916 234h0M900 183h0M1024 281h0M920 192h0M854 245h0M895 237h0M852 231h0M962 215h0M955 199h0M870 116h0M921 187h0M967 246h0M928 255h0M877 166h0M896 245h0M847 210h0M963 179h0M923 191h0M1018 257h0M930 218h0M942 231h0M889 212h0M915 177h0M876 225h0M849 168h0M1003 283h0M904 153h0M874 118h0M950 213h0M846 177h0M856 144h0M852 219h0M861 129h0M841 248h0M898 199h0M866 157h0M920 236h0M853 166h0M883 196h0M933 201h0M887 178h0M847 199h0M897 238h0M1017 287h0M844 227h0M920 242h0M938 255h0M857 177h0M842 160h0M858 230h0M858 175h0M964 229h0M865 175h0M869 201h0M848 194h0M952 222h0M869 253h0M893 227h0M933 210h0M944 200h0M900 223h0M899 214h0M883 202h0M869 250h0M987 226h0M892 128h0M942 197h0M928 229h0M882 204h0M975 174h0M861 178h0M888 203h0M910 199h0M876 232h0M854 218h0M968 226h0M899 183h0M862 184h0M905 201h0M1041 296h0M864 117h0M959 256h0M970 284h0M858 157h0M847 232h0M899 217h0M1000 230h0M945 186h0M934 178h0M839 219h0M932 240h0M914 256h0M850 227h0M958 187h0M891 151h0M948 227h0M939 231h0M920 149h0M967 213h0M962 241h0M957 203h0M936 216h0M866 193h0M928 222h0M904 218h0M861 167h0M963 210h0M847 203h0M909 213h0M912 222h0M905 172h0M841 184h0M909 256h0M889 175h0M1048 274h0M987 253h0M869 240h0M935 222h0M854 202h0M869 158h0M934 256h0M868 216h0M862 190h0M949 214h0M972 189h0M944 241h0M848 246h0M921 197h0M945 204h0M885 198h0M848 192h0M956 185h0M901 227h0M868 230h0M901 241h0M932 262h0M848 217h0M913 204h0M935 248h0M925 250h0M905 205h0M875 180h0M977 218h0M884 248h0M875 213h0M922 134h0M915 211h0M861 220h0M843 192h0M957 241h0M946 195h0M889 184h0M924 163h0M1054 294h0M878 155h0M879 160h0M880 191h0M993 224h0M902 221h0M958 218h0M947 243h0M881 149h0M850 165h0M939 205h0M872 169h0M978 255h0M932 246h0M1043 299h0M856 206h0M870 245h0M915 237h0M975 245h0M934 208h0M867 221h0M935 169h0M883 195h0M898 173h0M860 217h0M959 235h0M857 200h0M908 207h0M1044 278h0M964 217h0M1044 298h0M920 178h0M858 195h0M960 164h0M1034 267h0M950 228h0M857 209h0M858 177h0M852 221h0M1041 275h0M922 228h0M922 205h0M963 220h0M916 170h0M1051 285h0M889 184h0M952 261h0M994 245h0M870 132h0M1023 245h0M899 187h0M955 192h0M930 235h0M886 216h0M934 246h0M939 228h0M890 138h0M989 255h0M885 138h0M856 230h0M959 261h0M854 252h0M882 170h0M973 189h0M861 195h0M904 251h0M861 218h0M965 186h0M897 167h0M904 208h0M885 213h0M1010 248h0M850 175h0M981 217h0M868 134h0M870 104h0M1060 278h0M892 225h0M872 189h0M855 160h0M843 171h0M974 253h0M884 180h0M924 259h0M986 255h0M913 164h0M940 249h0M932 214h0M929 207h0M1008 286h0M865 178h0M863 251h0M916 157h0M918 215h0M893 242h0M918 208h0M930 158h0M873 190h0M863 177h0M876 216h0M914 200h0M863 165h0M884 170h0M846 186h0M879 228h0M875 202h0M891 241h0M908 239h0M851 253h0M885 231h0M910 186h0M984 239h0M916 230h0M898 196h0M955 250h0M882 170h0M890 167h0M933 178h0M909 152h0M969 217h0M926 219h0M868 113h0M881 187h0M848 200h0M847 115h0M908 131h0M1010 213h0M891 165h0M908 218h0M939 230h0M868 163h0M1043 289h0M915 160h0M895 238h0M865 163h0M897 230h0M954 247h0M889 229h0M942 232h0M939 224h0M1055 272h0M883 198h0M898 147h0M923 221h0M936 167h0M852 225h0M938 209h0M946 247h0M939 166h0M923 218h0M850 227h0M858 222h0M882 141h0M1076 287h0M905 218h0M919 141h0M900 185h0M866 240h0M856 229h0M885 163h0M958 183h0M846 169h0M913 247h0M854 220h0M868 129h0M880 206h0M931 172h0M912 196h0M919 204h0M852 229h0M930 233h0M874 183h0M912 218h0M934 176h0M878 198h0M978 201h0M873 178h0M960 235h0M921 141h0M920 180h0M864 108h0M953 206h0M879 235h0M886 181h0M937 246h0M854 238h0M847 209h0M846 227h0M876 220h0M862 197h0M926 204h0M845 178h0M847 251h0M902 147h0M904 143h0M903 156h0M927 143h0M856 183h0M953 269h0M985 239h0M892 224h0M887 197h0M843 185h0M850 219h0M904 135h0M884 226h0M890 153h0M885 250h0M874 173h0M939 180h0M849 104h0M1036 271h0M1054 297h0M890 254h0M955 194h0M924 221h0M907 191h0M1004 232h0M1037 249h0M944 175h0M841 246h0M854 248h0M947 222h0M921 207h0M935 196h0M844 226h0M902 203h0M904 193h0M960 208h0M1027 253h0M975 190h0M848 236h0M980 190h0M876 216h0M917 251h0M930 195h0M852 221h0M842 171h0M1003 240h0M896 192h0M863 134h0M852 199h0M896 206h0M845 230h0M934 184h0M906 153h0M897 187h0M897 240h0M886 123h0M1024 271h0M890 159h0M912 209h0M920 192h0M924 214h0M948 243h0M935 191h0M947 173h0M845 203h0M914 247h0M928 216h0M943 203h0M979 206h0M868 247h0M903 184h0M1012 261h0M901 174h0M910 185h0M924 210h0M887 161h0M844 233h0M852 161h0M852 210h0M932 223h0M983 189h0M886 151h0M899 238h0M846 196h0M872 128h0M903 218h0M951 262h0M896 209h0M891 168h0M842 204h0M947 177h0M945 196h0M926 183h0M1027 247h0M848 247h0M857 168h0M926 237h0M859 156h0M847 166h0M921 139h0M873 146h0M850 188h0M863 236h0M951 189h0M928 236h0M846 226h0M944 192h0M971 193h0M901 216h0M943 225h0M963 198h0M926 200h0M867 211h0M897 252h0M860 171h0M942 221h0M846 183h0M1023 290h0M992 263h0M873 225h0M975 194h0M963 267h0M853 127h0M932 221h0M852 207h0M908 256h0M998 246h0M999 265h0M902 190h0M905 164h0M868 215h0M855 191h0M918 159h0M877 117h0M841 170h0M961 209h0M879 244h0M857 225h0M935 219h0M862 103h0M890 174h0M885 206h0M967 188h0M857 222h0M840 193h0M915 173h0M914 210h0M842 166h0M874 170h0M933 255h0M862 249h0M919 203h0M855 246h0M894 188h0M933 178h0M1019 254h0M872 180h0M887 211h0M953 237h0M934 220h0M857 226h0M943 235h0M884 197h0M959 239h0M918 213h0M896 168h0M847 249h0M933 212h0M859 170h0M900 171h0M852 165h0M920 246h0M869 159h0M881 225h0M971 178h0M899 176h0M934 230h0M953 237h0M862 172h0M872 156h0M850 205h0M851 199h0M974 229h0M850 133h0M1051 288h0M977 186h0M911 228h0M972 242h0M870 156h0M935 219h0M953 196h0M839 245h0M948 207h0M911 180h0M883 167h0M862 181h0M851 229h0M906 224h0M956 215h0M881 251h0M856 240h0M893 198h0M874 237h0M950 237h0M949 221h0M861 225h0M853 205h0M898 125h0M837 162h0M915 225h0M1017 270h0M977 231h0M904 205h0M883 212h0M941 189h0M892 152h0M964 187h0M855 154h0M951 252h0M896 167h0M845 216h0M867 234h0M999 281h0M890 156h0M917 224h0M933 183h0M901 177h0M910 170h0M887 156h0M896 150h0M880 206h0M935 200h0M895 182h0M904 200h0M865 136h0M948 205h0M899 210h0M859 106h0M880 231h0M939 255h0M974 218h0M948 222h0M893 227h0M894 164h0M873 206h0M967 240h0M854 198h0M929 178h0M907 205h0M944 247h0M858 199h0M890 194h0M871 179h0M907 237h0M879 152h0M914 200h0M849 192h0M913 214h0M1016 270h0M947 252h0M838 250h0M915 175h0M918 163h0M849 247h0M943 202h0M871 131h0M931 253h0M920 175h0M910 140h0M927 208h0M927 224h0M1022 284h0M868 186h0M952 197h0M884 179h0M946 210h0M896 231h0M914 215h0M997 257h0M1004 250h0M938 192h0M929 245h0M870 131h0M957 240h0M898 217h0M918 217h0M900 154h0M925 241h0M842 214h0M849 216h0M1009 222h0M874 196h0M872 179h0M987 232h0M942 216h0M846 152h0M919 229h0M1001 241h0M863 210h0M860 137h0M842 220h0M855 201h0M893 176h0M943 188h0M929 202h0M936 232h0M960 220h0M893 165h0M923 171h0M1028 251h0M885 200h0M887 241h0M866 217h0M998 248h0M852 104h0M913 165h0M869 231h0M859 234h0M931 228h0M951 211h0M909 182h0M885 139h0M911 243h0M861 251h0M901 227h0M889 244h0M871 172h0M913 178h0M878 171h0M905 129h0M903 218h0M920 210h0M944 165h0M1056 267h0M851 112h0M951 257h0M865 123h0M870 229h0M905 177h0M836 186h0M925 255h0M857 242h0M913 173h0M844 181h0M1000 212h0M896 177h0M921 216h0M847 220h0M906 130h0M883 189h0M903 181h0M1058 286h0M883 186h0M846 125h0M898 196h0M948 197h0M887 181h0M855 236h0M865 235h0M854 243h0M918 241h0M901 146h0M1029 281h0M909 204h0M937 191h0M918 218h0M917 247h0M932 244h0M845 150h0M858 202h0M907 222h0M899 236h0M933 191h0M854 127h0M872 247h0M843 144h0M896 164h0M882 185h0M915 151h0M850 152h0M854 217h0M848 185h0M940 229h0M1005 276h0M929 210h0M895 226h0M927 186h0M943 236h0M837 186h0M846 134h0M884 252h0M844 234h0M924 222h0M934 195h0M903 179h0M887 253h0M898 213h0M950 232h0M869 255h0M961 250h0M922 199h0M889 149h0M868 165h0M892 175h0M853 186h0M893 194h0M921 186h0M876 135h0M1037 266h0M870 226h0M932 173h0M867 250h0M886 212h0M874 213h0M896 197h0M941 219h0M921 180h0M953 258h0M958 238h0M905 193h0M916 152h0M939 242h0M902 174h0M851 181h0M941 197h0M966 225h0M942 184h0M894 180h0M872 153h0M897 178h0M972 241h0M850 216h0M862 127h0M884 219h0M861 154h0M928 233h0M951 207h0M933 235h0M988 221h0M913 214h0M928 226h0M889 148h0M955 259h0M858 211h0M931 225h0M1021 260h0M934 221h0M961 203h0M893 250h0M923 141h0M930 183h0M846 245h0M915 246h0M836 150h0M902 167h0M1023 289h0M885 126h0M916 222h0M942 223h0M958 251h0M917 228h0M957 252h0M848 155h0M880 183h0M1023 241h0M1000 263h0M929 228h0M1030 297h0M845 240h0M849 224h0M927 247h0M881 187h0M899 188h0M837 197h0M887 208h0M914 251h0M903 151h0M1066 301h0M923 212h0M878 163h0M955 221h0M986 269h0M882 174h0M873 115h0M850 178h0M925 260h0M894 132h0M866 234h0M872 163h0M1021 249h0M1059 273h0M840 216h0M967 229h0M905 250h0M886 153h0M913 215h0M912 173h0M961 199h0M931 216h0M846 132h0M933 165h0M924 240h0M848 162h0M1040 298h0M920 223h0M880 184h0M916 167h0M856 238h0M1015 263h0M858 202h0M900 254h0M941 184h0M868 192h0M861 196h0M869 188h0M894 194h0M937 210h0M889 149h0M891 181h0M905 208h0M855 213h0M912 180h0M1042 274h0M898 187h0M886 142h0M929 199h0M903 252h0M892 224h0M921 211h0M843 121h0M845 203h0M1069 275h0M916 249h0M853 184h0"/>
<path stroke="#3e58ac" stroke-width="2.8" d="M929 231h0M912 232h0M872 218h0M947 234h0M890 231h0M925 218h0M908 209h0M865 175h0M925 228h0M896 239h0M861 210h0M880 233h0M872 202h0M926 209h0M907 175h0M891 189h0M911 235h0M936 193h0M861 193h0M877 196h0M889 188h0M943 218h0M899 208h0M887 214h0M921 181h0M919 222h0M887 186h0M928 226h0M852 208h0M874 185h0M912 202h0M927 240h0M943 195h0M877 200h0M854 221h0M945 219h0M885 198h0M940 215h0M912 186h0M874 206h0M915 186h0M913 178h0M880 241h0M880 180h0M855 237h0M921 184h0M934 203h0M916 212h0M884 173h0M878 199h0M900 199h0M938 222h0M936 206h0M872 235h0M902 165h0M875 237h0M939 234h0M916 221h0M920 229h0M949 241h0M873 245h0M929 216h0M945 202h0M929 215h0M859 200h0M931 191h0M858 222h0M867 186h0M860 176h0M936 196h0M899 200h0M892 227h0M887 185h0M923 211h0M940 224h0M869 189h0M862 195h0M904 227h0M932 227h0M870 194h0M901 172h0M861 209h0M902 239h0M906 179h0M925 206h0M860 198h0M856 194h0M885 216h0M931 212h0M906 196h0M865 194h0M933 228h0M898 178h0M886 231h0M858 229h0M921 197h0M946 228h0M929 196h0M883 201h0M860 217h0M876 221h0M870 182h0M904 225h0M916 191h0M925 207h0M856 196h0M905 209h0M916 235h0M857 218h0M895 203h0M871 172h0M886 239h0M854 227h0M862 210h0M890 218h0M865 177h0M897 198h0M912 209h0M866 230h0M908 188h0M921 221h0M932 211h0M887 205h0M888 229h0M883 233h0M918 180h0M928 237h0M863 219h0M859 191h0M942 224h0M875 216h0M914 186h0M903 202h0M877 181h0M912 181h0M883 203h0M878 192h0M881 217h0M926 194h0M915 187h0M869 235h0M908 220h0M856 200h0M913 212h0M932 223h0M896 184h0M883 237h0M910 215h0M896 219h0M878 204h0M882 221h0M906 182h0M892 192h0M942 213h0M925 235h0M930 195h0M892 180h0M899 229h0M908 212h0M872 221h0M914 221h0M857 220h0M854 207h0M916 227h0M876 207h0M914 206h0M943 206h0M927 204h0M867 226h0M931 221h0M882 221h0M882 219h0M896 173h0M935 192h0M929 220h0M940 241h0M925 223h0M880 239h0M888 230h0M921 225h0M893 175h0M914 199h0M885 232h0M875 204h0M925 200h0M870 178h0M933 195h0M877 237h0M920 197h0M934 205h0M902 176h0M859 230h0M894 224h0M912 228h0M855 198h0M877 179h0M899 233h0M911 238h0M917 223h0M865 223h0M863 188h0M883 211h0M925 230h0M889 185h0M870 228h0M936 208h0M870 171h0M870 209h0M855 192h0M937 215h0M907 169h0M904 176h0M889 200h0M923 199h0M875 235h0M936 210h0M918 202h0M877 196h0M899 238h0M870 214h0M900 233h0M880 182h0M877 200h0M881 201h0M906 210h0M888 226h0M953 239h0M898 196h0M874 237h0M867 212h0M881 231h0M911 223h0M873 201h0M877 193h0M925 209h0M920 223h0M889 208h0M874 173h0M897 179h0M854 236h0M913 202h0M900 191h0M905 215h0M874 234h0M861 180h0M883 187h0M876 231h0M882 184h0M908 231h0M878 197h0M910 183h0M865 178h0M872 183h0M942 229h0M857 194h0M940 218h0M892 195h0M943 234h0M920 221h0M916 241h0M912 224h0M940 230h0M945 228h0M946 227h0M855 175h0M864 201h0M907 171h0M881 211h0M882 221h0M944 227h0M927 203h0M896 216h0M893 237h0M880 206h0M907 205h0M858 244h0M912 211h0M860 238h0M875 184h0M864 226h0M915 209h0M900 201h0M894 220h0M940 239h0M921 210h0M931 235h0M866 200h0M909 228h0M881 192h0M913 184h0M911 214h0M924 198h0M877 183h0M929 236h0M904 175h0M919 190h0M918 215h0M917 174h0M909 201h0M924 209h0M870 212h0M929 189h0M878 202h0M862 223h0M875 242h0M915 235h0M902 192h0M895 239h0M923 230h0M879 182h0M916 208h0M884 186h0M859 203h0M924 195h0M902 213h0M914 236h0M891 211h0M890 228h0M903 183h0M941 236h0M863 201h0M906 237h0M927 228h0M854 214h0M927 237h0M911 185h0M854 233h0M890 200h0M893 204h0M854 212h0M877 189h0M908 219h0M901 227h0M946 231h0M903 213h0M950 244h0M862 217h0M922 200h0M872 204h0M910 189h0M914 222h0M939 197h0M901 238h0M936 229h0M896 206h0M889 206h0M898 215h0M883 175h0M913 178h0M902 171h0M874 172h0M908 182h0M907 223h0M855 187h0M920 217h0M900 237h0M894 190h0M916 204h0M901 212h0M906 230h0M887 200h0M933 199h0M926 214h0M919 193h0M923 230h0M882 192h0M863 190h0M879 177h0M904 213h0M907 195h0M945 230h0M859 182h0M906 205h0M906 187h0M911 186h0M931 233h0M855 197h0M860 206h0M905 219h0M858 190h0M853 204h0M875 215h0M922 244h0M935 197h0M904 172h0M883 197h0M930 200h0M928 236h0M904 181h0M880 243h0M887 211h0M933 194h0M857 199h0M903 237h0M888 228h0M864 185h0M934 196h0M905 180h0M861 179h0M866 205h0M876 190h0M897 208h0M884 222h0M940 200h0M910 236h0M864 234h0M887 226h0M873 233h0M861 240h0M866 183h0M872 216h0M890 220h0M855 207h0M934 231h0M923 218h0M893 193h0M899 219h0M892 234h0M882 190h0M880 231h0M866 232h0M900 208h0M939 228h0M884 175h0M927 218h0M883 203h0M913 219h0M864 197h0M911 196h0M885 174h0M907 222h0M914 181h0M866 196h0M928 217h0M879 171h0M925 223h0M935 226h0M913 209h0M867 181h0M926 186h0M858 216h0M900 197h0M879 220h0M932 218h0M941 224h0M880 228h0M892 238h0M899 203h0M890 193h0M874 243h0M932 218h0M911 192h0M934 201h0M884 237h0M903 231h0M880 236h0M917 198h0M897 223h0M927 227h0M884 224h0M921 190h0M917 219h0M922 195h0M876 224h0M899 233h0M931 227h0M893 178h0M889 217h0M896 209h0M870 189h0M861 239h0M891 223h0M936 195h0M868 181h0M898 230h0M873 209h0M869 226h0M881 197h0M890 198h0M893 177h0M888 203h0M909 236h0M884 212h0M924 180h0M872 204h0M907 193h0M884 184h0M892 181h0M943 230h0M931 204h0M921 204h0M887 184h0M936 218h0M859 197h0M888 184h0M946 205h0M890 199h0M926 223h0M894 206h0M857 229h0M879 193h0M905 203h0M859 211h0M865 196h0M897 212h0M880 230h0M943 228h0M866 193h0M898 195h0M886 204h0M875 234h0M878 225h0M947 224h0M921 182h0M870 225h0M948 229h0M878 184h0M932 236h0M939 226h0M919 205h0M910 224h0M886 224h0M883 191h0M940 235h0M903 197h0M870 179h0M892 229h0M872 189h0M871 228h0M944 233h0M884 182h0M909 196h0M915 241h0M885 199h0M944 228h0M902 236h0M942 213h0M859 196h0M862 242h0M898 207h0M890 214h0M937 239h0M927 217h0M895 205h0M883 225h0M910 233h0M892 184h0M915 208h0M895 225h0M927 211h0M874 208h0M862 220h0M920 211h0M914 204h0M943 217h0M923 194h0M858 223h0M884 236h0M925 182h0M922 195h0M913 234h0M921 201h0M932 235h0M918 208h0M854 228h0M925 205h0M944 222h0M913 218h0M871 217h0M891 195h0M914 217h0M898 241h0M862 183h0M861 194h0M877 237h0M902 226h0M882 229h0M911 235h0M900 177h0M866 228h0M896 225h0M886 232h0M937 204h0M878 176h0M895 235h0M907 218h0M860 208h0M874 190h0M889 225h0M945 223h0M931 201h0M930 213h0M859 214h0M918 212h0M861 184h0M869 210h0M930 213h0M896 214h0M899 183h0M890 241h0M937 229h0M865 207h0M911 222h0M860 229h0M866 173h0M923 240h0M913 233h0M931 199h0M887 239h0M912 210h0M885 170h0M933 236h0M920 188h0M857 231h0M906 186h0M862 199h0M890 213h0M865 217h0M909 200h0M937 229h0M890 177h0M874 179h0M861 230h0M948 226h0M922 221h0M870 191h0M865 187h0M908 197h0M938 204h0M901 194h0M898 201h0M891 233h0M858 186h0M904 222h0M865 183h0M880 221h0M904 200h0M891 209h0M912 216h0M860 231h0M861 177h0M896 193h0M856 190h0M872 197h0M928 216h0M899 233h0M898 238h0M927 211h0M939 210h0M867 193h0M933 222h0M896 210h0M917 243h0M884 217h0M894 197h0M897 207h0M862 195h0M930 226h0M947 230h0M908 170h0M905 239h0M878 236h0M879 190h0M871 174h0M921 201h0M892 208h0M885 240h0M853 196h0M943 243h0M866 177h0M885 185h0M872 217h0M880 172h0M868 223h0M930 192h0M929 207h0M929 206h0M898 200h0M918 200h0M936 207h0M903 177h0M947 216h0M892 173h0M939 219h0M866 232h0M876 229h0M902 170h0M908 197h0M865 224h0M880 242h0M895 220h0M927 199h0M934 197h0M901 193h0M897 210h0M948 215h0M875 179h0M918 189h0M873 188h0M945 223h0M883 175h0M901 214h0M921 215h0M874 179h0M897 199h0M867 212h0M872 229h0M938 204h0M866 237h0M884 219h0M881 197h0M896 195h0M880 215h0M886 204h0M858 188h0M866 212h0M868 194h0M914 176h0M907 196h0M929 219h0M911 185h0M897 234h0M923 182h0M942 212h0M903 211h0M902 171h0M907 182h0M884 183h0M938 216h0M932 231h0M950 215h0M901 239h0M937 231h0M873 192h0M897 223h0M869 234h0M857 207h0M924 200h0M876 179h0M870 238h0M917 220h0M903 227h0M886 190h0M910 230h0M876 196h0M863 242h0M887 178h0M919 194h0M914 224h0M884 220h0M878 226h0M852 195h0M930 240h0M921 206h0M855 188h0M910 181h0M866 196h0M933 228h0M901 190h0M858 201h0M942 212h0M912 221h0M935 222h0M880 237h0M892 173h0M899 189h0M864 216h0M867 191h0M895 227h0M914 173h0M873 200h0M936 200h0M907 236h0M926 232h0M875 220h0M904 234h0M931 224h0M907 227h0M856 213h0M927 208h0M922 239h0M862 195h0M906 222h0M926 183h0M866 177h0M889 180h0M885 200h0M918 241h0M881 185h0M934 206h0M898 172h0M929 239h0M892 189h0M874 185h0M921 219h0M869 199h0M882 202h0M853 235h0M941 198h0M889 193h0M923 227h0M913 193h0M882 183h0M879 190h0M904 238h0M947 215h0M872 194h0M875 181h0M889 234h0M876 181h0M918 220h0M905 190h0M936 218h0M871 180h0M892 196h0M944 210h0M865 237h0M873 197h0M922 187h0M915 236h0M904 226h0M924 234h0M923 187h0M903 215h0M931 204h0M878 179h0M916 220h0M910 172h0M924 208h0M897 229h0M868 208h0M880 185h0M892 171h0M888 219h0M946 232h0M880 235h0M869 184h0M908 215h0M873 177h0M900 192h0M883 210h0M877 194h0M919 229h0M910 205h0M851 194h0M874 186h0M871 183h0M917 211h0M941 207h0M895 216h0M859 205h0M944 240h0M919 217h0M923 201h0M935 197h0M928 212h0M933 239h0M914 212h0M921 181h0M916 199h0M932 218h0M873 210h0M894 211h0M905 198h0M942 209h0M897 218h0M935 195h0M911 200h0M928 223h0M878 220h0M909 239h0M898 219h0M880 209h0M868 192h0M883 188h0M942 227h0M920 220h0M880 220h0M896 228h0M942 227h0M927 223h0M933 193h0M882 237h0M880 190h0M912 234h0M899 193h0M946 235h0M918 192h0M888 212h0M928 202h0M896 215h0M913 205h0M862 213h0M868 189h0M863 208h0M902 182h0M877 196h0M925 208h0M941 204h0M923 237h0M870 185h0M904 237h0M855 214h0M898 188h0M921 193h0M933 230h0M917 184h0M853 203h0M940 200h0M896 226h0M950 239h0M862 221h0M861 214h0M928 201h0M865 194h0M944 213h0M882 197h0M904 238h0M899 198h0M910 220h0M876 208h0M892 197h0M857 212h0M877 226h0M873 228h0M864 195h0M873 187h0M908 196h0M939 203h0M891 224h0M934 215h0M938 213h0M928 215h0M898 177h0M919 202h0M923 196h0M890 224h0M884 206h0M858 187h0M932 227h0M928 208h0M899 173h0M872 243h0M853 216h0M907 213h0M904 237h0M925 221h0M941 213h0M888 223h0M930 202h0M880 227h0M890 227h0M923 193h0M903 214h0M902 180h0M929 232h0M883 239h0M908 175h0M931 232h0M943 225h0M881 197h0M866 190h0M869 207h0M871 190h0M905 226h0M942 217h0M931 207h0M892 218h0M863 247h0M871 188h0M908 228h0M875 183h0M907 213h0M944 227h0M938 227h0M907 195h0M891 192h0M906 175h0M853 195h0M902 178h0M898 225h0M928 229h0M914 180h0M879 225h0M881 188h0M889 198h0M878 226h0M936 216h0M867 221h0M939 230h0M910 174h0M948 244h0M874 180h0M886 192h0M916 209h0M899 241h0M936 213h0M941 206h0M882 223h0M860 178h0M916 185h0M908 177h0M872 179h0M889 218h0M922 214h0M948 209h0M888 242h0M886 195h0M894 209h0M923 210h0M939 221h0M882 209h0M891 212h0M908 203h0M923 231h0M903 173h0M905 175h0M917 206h0M899 227h0M860 219h0M938 216h0M889 226h0M906 181h0M871 219h0M900 225h0M912 212h0M857 197h0M873 213h0M888 181h0M902 231h0M933 223h0M884 186h0M929 196h0M929 220h0M922 243h0M918 229h0M855 197h0M897 174h0M854 216h0M936 195h0M908 218h0M866 200h0M908 190h0M863 199h0M924 213h0M945 210h0M860 205h0M898 203h0M884 193h0M910 203h0M926 225h0M869 184h0M921 185h0M903 173h0M861 241h0M926 207h0M869 213h0M877 242h0M904 184h0M936 216h0M894 193h0M907 193h0M910 192h0M883 208h0M868 178h0M897 240h0M917 237h0M908 236h0M891 217h0M872 194h0M898 185h0M893 218h0M879 243h0M883 201h0M938 201h0M921 236h0M889 177h0M861 203h0M895 182h0M893 207h0M931 192h0M897 242h0M899 181h0M863 180h0M910 177h0M942 214h0M854 187h0M891 206h0M891 203h0M889 227h0M928 233h0M859 225h0M948 240h0M904 194h0M879 185h0M883 189h0M895 222h0M857 240h0M865 209h0M909 211h0"/>
<path stroke="#3e58ac" stroke-width="2.8" d="M927 142h0M881 125h0M922 141h0M877 118h0M905 147h0M922 145h0M917 134h0M915 158h0M884 145h0M926 165h0M862 163h0M842 132h0M847 139h0M846 123h0M873 145h0M893 128h0M859 161h0M903 129h0M859 147h0M914 156h0M902 147h0M927 156h0M917 144h0M848 140h0M852 121h0M895 128h0M851 148h0M844 113h0M892 150h0M855 159h0M886 121h0M935 160h0M879 153h0M880 139h0M843 137h0M851 132h0M932 160h0M899 161h0M889 133h0M852 153h0M860 116h0M878 145h0M866 123h0M858 148h0M901 139h0M872 115h0M861 159h0M881 142h0M852 123h0M897 152h0M867 136h0M844 150h0M929 158h0M846 146h0M905 146h0M888 128h0M936 156h0M925 161h0M882 121h0M900 155h0M927 157h0M910 133h0M868 153h0M873 159h0M854 157h0M940 161h0M874 132h0M896 124h0M857 120h0M852 134h0M847 157h0M887 155h0M841 150h0M913 159h0M853 123h0M854 139h0M844 150h0M861 125h0M893 144h0M857 131h0M856 133h0M860 126h0M898 164h0M857 145h0M921 152h0M855 122h0M846 157h0M858 157h0M866 136h0M843 149h0M914 134h0M854 114h0M917 154h0M861 153h0M888 147h0M934 149h0M870 153h0M846 124h0M874 156h0M910 139h0M934 167h0M872 157h0M877 111h0M933 149h0M874 117h0M889 130h0M894 147h0M881 147h0M935 155h0M858 126h0M885 133h0M929 134h0M927 146h0M855 100h0M855 124h0M846 144h0M850 135h0M912 130h0M890 139h0M844 133h0M895 122h0M873 131h0M851 134h0M899 155h0M866 111h0M912 133h0M874 119h0M868 162h0M880 151h0M850 155h0M871 124h0M849 135h0M887 151h0M900 142h0M896 124h0M872 154h0M848 148h0M927 138h0M846 162h0M861 157h0M872 109h0M877 160h0M896 128h0M868 105h0M865 120h0M928 144h0M855 112h0M871 130h0M911 144h0M890 135h0M877 142h0M934 147h0M923 162h0M874 140h0M855 115h0M870 154h0M890 161h0M902 125h0M843 110h0M852 133h0M905 151h0M885 117h0M840 163h0M892 131h0M880 162h0M858 116h0M867 143h0M885 121h0M857 126h0M843 114h0M911 154h0M848 121h0M937 160h0M868 124h0M848 128h0M846 110h0M865 130h0M925 138h0M866 159h0M869 112h0M853 159h0M887 135h0M880 138h0M841 123h0M917 139h0M918 155h0M901 141h0M895 126h0M870 105h0M863 162h0M863 142h0M901 145h0M868 155h0M876 153h0M863 112h0M840 155h0M895 137h0M875 114h0M895 163h0M917 134h0M873 122h0M868 118h0M871 132h0M905 140h0M861 121h0M843 137h0M897 153h0M861 112h0M890 121h0M892 126h0M876 154h0M878 134h0M896 153h0M925 137h0M918 152h0M864 162h0M892 159h0M870 157h0M902 129h0M864 144h0M897 158h0M868 136h0M874 154h0M916 138h0M857 162h0M885 129h0M857 143h0M889 151h0M871 128h0M872 142h0M860 155h0M911 143h0M888 138h0M865 154h0M847 151h0M861 148h0M850 125h0M888 150h0M898 129h0M887 113h0M872 166h0M903 151h0M924 139h0M852 105h0M858 132h0M906 128h0M915 144h0M891 151h0M863 128h0M864 151h0M859 105h0M878 115h0M854 159h0M841 154h0M856 103h0M844 145h0M908 159h0M929 153h0M903 150h0M910 142h0"/>
<path stroke="#d3ce97" stroke-width="2.8" d="M855 210h0M848 227h0M853 245h0M842 189h0M868 205h0M855 248h0M860 207h0M871 198h0M854 205h0M877 240h0M870 235h0M851 235h0M875 249h0M853 180h0M857 179h0M852 204h0M859 216h0M845 216h0M844 184h0M839 200h0M868 223h0M838 220h0M866 190h0M867 211h0M850 242h0M864 220h0M860 215h0M860 206h0M847 185h0M858 220h0M870 249h0M865 229h0M854 215h0M857 230h0M867 198h0M854 217h0M859 191h0M855 223h0M840 246h0M853 236h0M843 207h0M858 235h0M859 200h0M872 185h0M873 250h0M856 192h0M862 222h0M857 238h0M846 221h0M871 216h0M874 191h0M842 227h0M878 226h0M847 210h0M879 239h0M860 225h0M845 207h0M843 208h0M842 199h0M855 224h0M846 246h0M842 228h0M867 207h0M839 248h0M875 229h0M855 242h0M857 185h0M850 239h0M860 188h0M868 198h0M878 230h0M875 243h0M845 173h0M855 183h0M856 186h0M849 191h0M872 222h0M856 238h0M841 179h0M858 198h0M850 208h0M856 249h0M851 247h0M854 228h0M865 208h0M846 208h0M864 240h0M859 198h0M867 215h0M844 204h0M869 229h0M852 181h0M854 187h0M865 183h0M874 210h0M866 226h0M848 230h0M850 233h0M849 206h0M865 215h0M863 193h0M860 245h0M859 203h0M854 181h0M864 206h0M862 206h0M855 199h0M858 221h0M865 190h0M845 216h0M850 225h0M846 197h0M867 229h0M856 246h0M851 248h0M870 208h0M849 245h0M845 216h0M865 240h0M877 234h0M847 200h0M855 184h0M876 241h0M868 193h0M859 204h0M847 207h0M846 178h0M860 237h0M870 186h0M859 213h0M870 193h0M854 221h0M852 202h0M848 221h0M859 192h0M845 182h0M845 239h0M856 192h0M850 212h0M846 229h0M847 178h0M847 209h0M840 222h0M841 216h0M861 221h0M879 250h0M855 195h0M854 191h0M865 224h0M842 194h0M850 200h0M843 186h0M873 229h0M867 203h0M852 227h0M866 219h0M863 233h0M878 235h0M872 238h0M865 249h0M845 190h0M852 226h0M866 235h0M846 211h0M876 245h0M847 180h0M859 230h0M849 244h0M845 193h0M860 183h0M866 233h0M857 253h0M879 245h0M840 213h0M841 229h0M849 186h0M853 224h0M870 209h0M840 202h0M864 185h0M866 225h0M845 244h0M844 206h0M857 212h0M859 217h0M859 246h0M878 252h0M876 248h0M859 197h0M842 216h0M851 197h0M847 238h0M855 246h0M850 184h0M866 221h0M836 182h0M860 217h0M848 236h0M873 188h0M869 204h0"/>
</g>
<line x1="31" y1="128.2" x2="278" y2="128.2" stroke="#404040" stroke-width="1.2"/>
<line x1="83" y1="18" x2="83" y2="217" stroke="#404040" stroke-width="1.2"/>
<line x1="316" y1="83.3" x2="565" y2="83.3" stroke="#404040" stroke-width="1.2"/>
<rect x="32.5" y="19.5" width="245" height="197" fill="none" stroke="#fafafa" stroke-width="1"/>
<rect x="31.5" y="18.5" width="247" height="199" fill="none" stroke="#767676" stroke-width="1"/>
<rect x="317.5" y="19.5" width="247" height="197" fill="none" stroke="#fafafa" stroke-width="1"/>
<rect x="316.5" y="18.5" width="249" height="199" fill="none" stroke="#767676" stroke-width="1"/>
<line x1="28.3" y1="54.5" x2="31" y2="54.5" stroke="#444" stroke-width="1"/>
<text x="28.3" y="56.6" font-size="5.2" fill="#3a3a3a" text-anchor="end">5,0</text>
<line x1="28.3" y1="91.5" x2="31" y2="91.5" stroke="#444" stroke-width="1"/>
<text x="28.3" y="93.6" font-size="5.2" fill="#3a3a3a" text-anchor="end">2,5</text>
<line x1="28.3" y1="128.5" x2="31" y2="128.5" stroke="#444" stroke-width="1"/>
<text x="28.3" y="130.6" font-size="5.2" fill="#3a3a3a" text-anchor="end">,0</text>
<line x1="28.3" y1="166.5" x2="31" y2="166.5" stroke="#444" stroke-width="1"/>
<text x="28.3" y="168.6" font-size="5.2" fill="#3a3a3a" text-anchor="end">-2,5</text>
<line x1="28.3" y1="203.5" x2="31" y2="203.5" stroke="#444" stroke-width="1"/>
<text x="28.3" y="205.6" font-size="5.2" fill="#3a3a3a" text-anchor="end">-5,0</text>
<line x1="44.5" y1="218" x2="44.5" y2="221" stroke="#444" stroke-width="1"/>
<text x="44.5" y="226" font-size="5.2" fill="#3a3a3a" text-anchor="middle">0</text>
<line x1="100" y1="218" x2="100" y2="221" stroke="#444" stroke-width="1"/>
<text x="100" y="226" font-size="5.2" fill="#3a3a3a" text-anchor="middle">2</text>
<line x1="155.5" y1="218" x2="155.5" y2="221" stroke="#444" stroke-width="1"/>
<text x="155.5" y="226" font-size="5.2" fill="#3a3a3a" text-anchor="middle">4</text>
<line x1="211" y1="218" x2="211" y2="221" stroke="#444" stroke-width="1"/>
<text x="211" y="226" font-size="5.2" fill="#3a3a3a" text-anchor="middle">6</text>
<line x1="266.5" y1="218" x2="266.5" y2="221" stroke="#444" stroke-width="1"/>
<text x="266.5" y="226" font-size="5.2" fill="#3a3a3a" text-anchor="middle">8</text>
<line x1="313.3" y1="38.5" x2="316" y2="38.5" stroke="#444" stroke-width="1"/>
<text x="313.3" y="40.6" font-size="5.2" fill="#3a3a3a" text-anchor="end">10</text>
<line x1="313.3" y1="83.5" x2="316" y2="83.5" stroke="#444" stroke-width="1"/>
<text x="313.3" y="85.6" font-size="5.2" fill="#3a3a3a" text-anchor="end">0</text>
<line x1="313.3" y1="128.5" x2="316" y2="128.5" stroke="#444" stroke-width="1"/>
<text x="313.3" y="130.6" font-size="5.2" fill="#3a3a3a" text-anchor="end">-10</text>
<line x1="313.3" y1="173.5" x2="316" y2="173.5" stroke="#444" stroke-width="1"/>
<text x="313.3" y="175.6" font-size="5.2" fill="#3a3a3a" text-anchor="end">-20</text>
<line x1="313.3" y1="218.5" x2="316" y2="218.5" stroke="#444" stroke-width="1"/>
<text x="313.3" y="220.6" font-size="5.2" fill="#3a3a3a" text-anchor="end">-30</text>
<line x1="329" y1="218" x2="329" y2="221" stroke="#444" stroke-width="1"/>
<text x="329" y="226" font-size="5.2" fill="#3a3a3a" text-anchor="middle">0</text>
<line x1="393" y1="218" x2="393" y2="221" stroke="#444" stroke-width="1"/>
<text x="393" y="226" font-size="5.2" fill="#3a3a3a" text-anchor="middle">10</text>
<line x1="457" y1="218" x2="457" y2="221" stroke="#444" stroke-width="1"/>
<text x="457" y="226" font-size="5.2" fill="#3a3a3a" text-anchor="middle">20</text>
<line x1="521" y1="218" x2="521" y2="221" stroke="#444" stroke-width="1"/>
<text x="521" y="226" font-size="5.2" fill="#3a3a3a" text-anchor="middle">30</text>
<text x="155" y="237.5" font-size="6.8" font-weight="bold" text-anchor="middle" fill="#111">FAZA uptake in T/Bg</text>
<text x="440.5" y="237.5" font-size="6.8" font-weight="bold" text-anchor="middle" fill="#111">FDG uptake in SUV</text>
<text transform="translate(7.6,118) rotate(-90)" font-size="6.8" font-weight="bold" text-anchor="middle" fill="#111">Difference between follow up and baseline FAZA uptake in</text>
<text transform="translate(14.8,118) rotate(-90)" font-size="6.8" font-weight="bold" text-anchor="middle" fill="#111">T/Bg</text>
<text transform="translate(294,118) rotate(-90)" font-size="6.8" font-weight="bold" text-anchor="middle" fill="#111">Difference between follow up and baseline FDG uptake in</text>
<text transform="translate(299,117) rotate(-90)" font-size="6.8" font-weight="bold" text-anchor="middle" fill="#111">SUV</text>
<text x="0" y="15" font-size="20" font-weight="bold" fill="#000">a</text>
<text x="286.8" y="15" font-size="19.3" font-weight="bold" fill="#000">b</text>
</svg></body></html>
